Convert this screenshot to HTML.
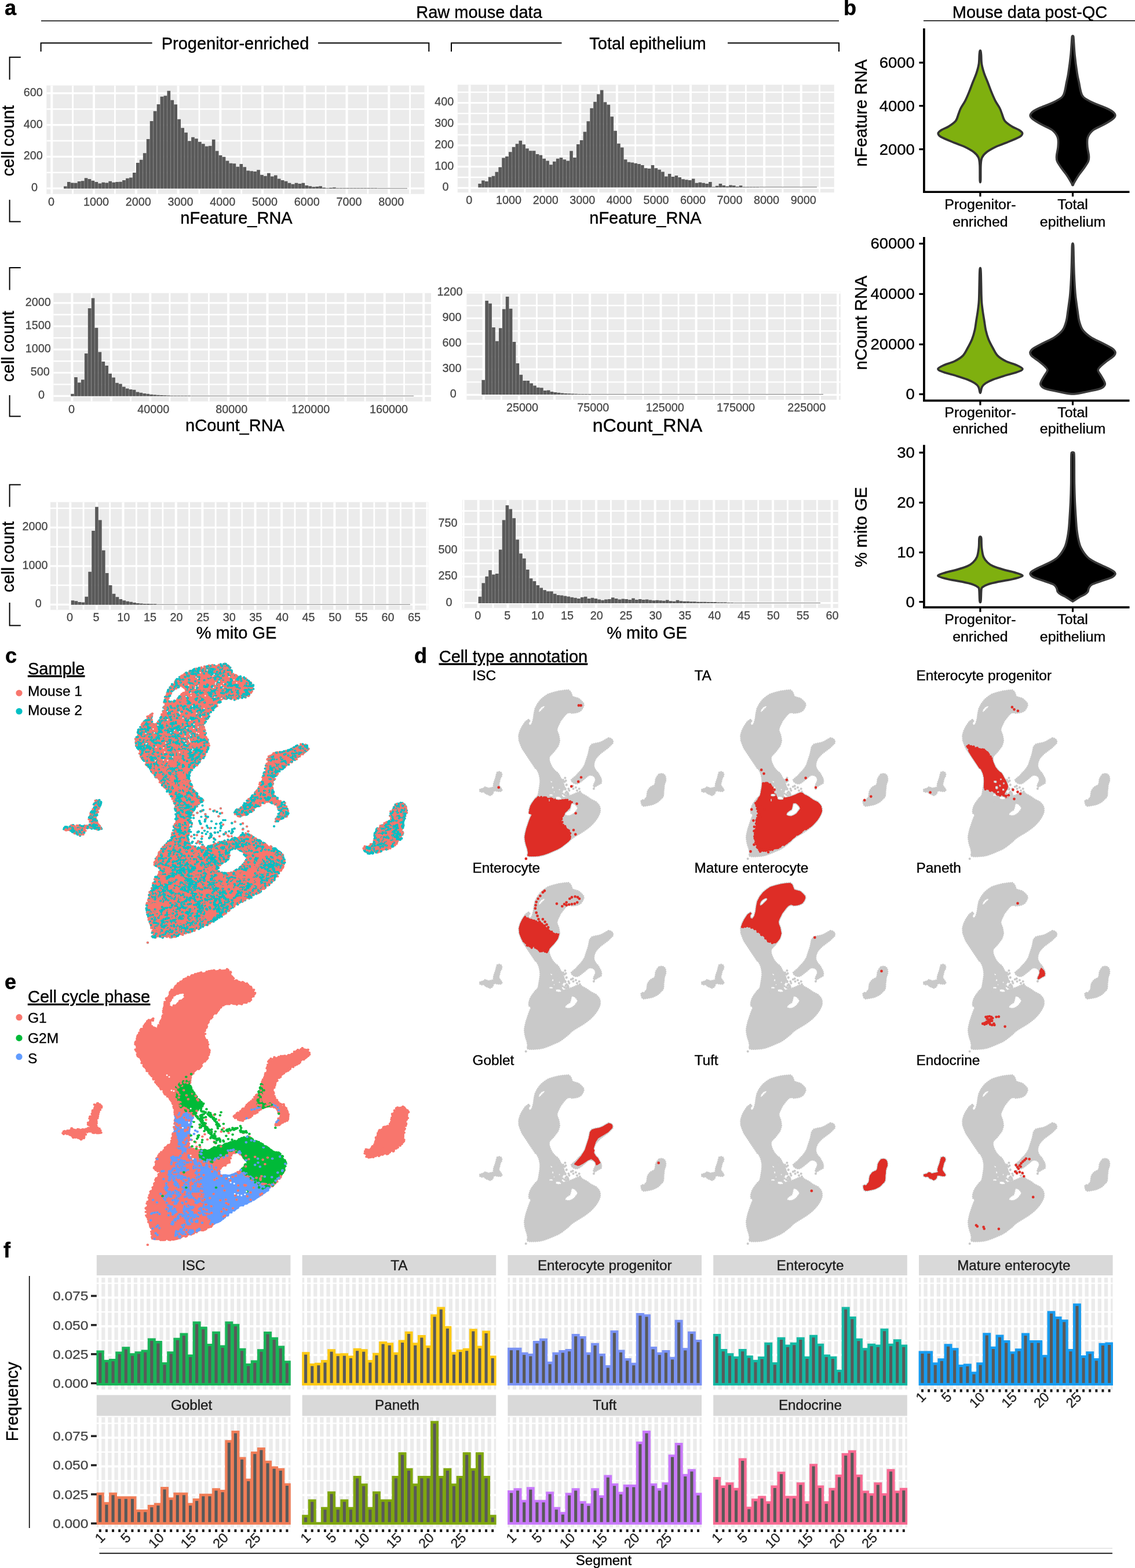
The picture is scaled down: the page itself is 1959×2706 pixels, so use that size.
<!DOCTYPE html>
<html><head><meta charset="utf-8"><title>Figure</title>
<style>
html,body{margin:0;padding:0;background:#fff;}
svg{display:block;font-family:'Liberation Sans', 'DejaVu Sans', sans-serif;}
</style></head><body>
<svg width="1959" height="2706" viewBox="0 0 1959 2706">
<rect width="1959" height="2706" fill="#fff"/>
<g id="sec_header">
<text transform="translate(8,26)" font-size="36" font-weight="bold" stroke="#000" stroke-width="0.48">a</text>
<text transform="translate(1456,26)" font-size="36" font-weight="bold" stroke="#000" stroke-width="0.48">b</text>
<line x1="71" y1="36" x2="1448" y2="36" stroke="#000" stroke-width="1.5"/>
<text transform="translate(827,31)" font-size="29" text-anchor="middle" stroke="#000" stroke-width="0.4">Raw mouse data</text>
<line x1="1594" y1="35.7" x2="1959" y2="35.7" stroke="#000" stroke-width="1.5"/>
<text transform="translate(1777.5,31)" font-size="29" text-anchor="middle" stroke="#000" stroke-width="0.4">Mouse data post-QC</text>
<polyline points="70.6,89 70.6,74.3 262.6,74.3" fill="none" stroke="#000" stroke-width="2"/>
<polyline points="549,74.3 740.3,74.3 740.3,89" fill="none" stroke="#000" stroke-width="2"/>
<text transform="translate(406,85.3)" font-size="29" text-anchor="middle" stroke="#000" stroke-width="0.4">Progenitor-enriched</text>
<polyline points="779,89 779,74.3 969.5,74.3" fill="none" stroke="#000" stroke-width="2"/>
<polyline points="1256,74.3 1448,74.3 1448,89" fill="none" stroke="#000" stroke-width="2"/>
<text transform="translate(1118,85.3)" font-size="29" text-anchor="middle" stroke="#000" stroke-width="0.4">Total epithelium</text>
<polyline points="35.8,98.7 16.6,98.7 16.6,137.6" fill="none" stroke="#000" stroke-width="2"/>
<polyline points="16.6,344.7 16.6,382.5 35.8,382.5" fill="none" stroke="#000" stroke-width="2"/>
<text transform="translate(23.5,243) rotate(-90)" font-size="29" text-anchor="middle" stroke="#000" stroke-width="0.4">cell count</text>
<polyline points="35.8,462.1 16.6,462.1 16.6,500.4" fill="none" stroke="#000" stroke-width="2"/>
<polyline points="16.6,682 16.6,718.6 35.8,718.6" fill="none" stroke="#000" stroke-width="2"/>
<text transform="translate(23.5,597.7) rotate(-90)" font-size="29" text-anchor="middle" stroke="#000" stroke-width="0.4">cell count</text>
<polyline points="35.8,836.4 16.6,836.4 16.6,874.8" fill="none" stroke="#000" stroke-width="2"/>
<polyline points="16.6,1040 16.6,1079.4 35.8,1079.4" fill="none" stroke="#000" stroke-width="2"/>
<text transform="translate(23.5,961) rotate(-90)" font-size="29" text-anchor="middle" stroke="#000" stroke-width="0.4">cell count</text>
</g>
<g id="sec_hist">
<rect x="80.3" y="147.5" width="652.2" height="187.3" fill="#EBEBEB"/>
<clipPath id="c950"><rect x="80.3" y="147.5" width="652.2" height="187.3"/></clipPath>
<g clip-path="url(#c950)" stroke="#fff" fill="none">
<path d="M125.67 147.5V334.8M198.43 147.5V334.8M271.18 147.5V334.8M343.93 147.5V334.8M416.68 147.5V334.8M489.43 147.5V334.8M562.17 147.5V334.8M634.92 147.5V334.8M707.67 147.5V334.8" stroke-width="2.8"/>
<path d="M80.3 297.82H732.5M80.3 243.05H732.5M80.3 188.28H732.5" stroke-width="2.4"/>
<path d="M89.3 147.5V334.8M162.05 147.5V334.8M234.8 147.5V334.8M307.55 147.5V334.8M380.3 147.5V334.8M453.05 147.5V334.8M525.8 147.5V334.8M598.55 147.5V334.8M671.3 147.5V334.8" stroke-width="4"/>
<path d="M80.3 325.2H732.5M80.3 270.43H732.5M80.3 215.67H732.5M80.3 160.9H732.5" stroke-width="3.2"/>
</g>
<path d="M110 325.6v-4.13h5.65v4.13zM115.95 325.6v-11.68h5.65v11.68zM121.9 325.6v-10.22h5.65v10.22zM127.85 325.6v-9.73h5.65v9.73zM133.8 325.6v-12.65h5.65v12.65zM139.75 325.6v-13.39h5.65v13.39zM145.7 325.6v-18.26h5.65v18.26zM151.65 325.6v-16.55h5.65v16.55zM157.6 325.6v-13.87h5.65v13.87zM163.55 325.6v-11.68h5.65v11.68zM169.5 325.6v-9h5.65v9zM175.45 325.6v-10.95h5.65v10.95zM181.4 325.6v-10.22h5.65v10.22zM187.35 325.6v-12.9h5.65v12.9zM193.3 325.6v-10.95h5.65v10.95zM199.25 325.6v-11.68h5.65v11.68zM205.2 325.6v-11.92h5.65v11.92zM211.15 325.6v-14.6h5.65v14.6zM217.1 325.6v-17.77h5.65v17.77zM223.05 325.6v-18.99h5.65v18.99zM229 325.6v-27.51h5.65v27.51zM234.95 325.6v-44.57h5.65v44.57zM240.9 325.6v-49.93h5.65v49.93zM246.85 325.6v-61.38h5.65v61.38zM252.8 325.6v-85.49h5.65v85.49zM258.75 325.6v-116.67h5.65v116.67zM264.7 325.6v-133.73h5.65v133.73zM270.65 325.6v-145.66h5.65v145.66zM276.6 325.6v-158.82h5.65v158.82zM282.55 325.6v-160.28h5.65v160.28zM288.5 325.6v-168.81h5.65v168.81zM294.45 325.6v-152.73h5.65v152.73zM300.4 325.6v-145.42h5.65v145.42zM306.35 325.6v-119.84h5.65v119.84zM312.3 325.6v-104.74h5.65v104.74zM318.25 325.6v-96.94h5.65v96.94zM324.2 325.6v-82.33h5.65v82.33zM330.15 325.6v-88.9h5.65v88.9zM336.1 325.6v-86.47h5.65v86.47zM342.05 325.6v-80.86h5.65v80.86zM348 325.6v-77.45h5.65v77.45zM353.95 325.6v-73.07h5.65v73.07zM359.9 325.6v-73.8h5.65v73.8zM365.85 325.6v-84.76h5.65v84.76zM371.8 325.6v-65.03h5.65v65.03zM377.75 325.6v-57.72h5.65v57.72zM383.7 325.6v-54.8h5.65v54.8zM389.65 325.6v-47.98h5.65v47.98zM395.6 325.6v-43.84h5.65v43.84zM401.55 325.6v-43.35h5.65v43.35zM407.5 325.6v-37.75h5.65v37.75zM413.45 325.6v-42.62h5.65v42.62zM419.4 325.6v-37.26h5.65v37.26zM425.35 325.6v-31.17h5.65v31.17zM431.3 325.6v-30.44h5.65v30.44zM437.25 325.6v-29.71h5.65v29.71zM443.2 325.6v-32.39h5.65v32.39zM449.15 325.6v-23.86h5.65v23.86zM455.1 325.6v-21.91h5.65v21.91zM461.05 325.6v-26.78h5.65v26.78zM467 325.6v-21.18h5.65v21.18zM472.95 325.6v-23.13h5.65v23.13zM478.9 325.6v-17.04h5.65v17.04zM484.85 325.6v-14.6h5.65v14.6zM490.8 325.6v-12.9h5.65v12.9zM496.75 325.6v-9.73h5.65v9.73zM502.7 325.6v-7.78h5.65v7.78zM508.65 325.6v-9.73h5.65v9.73zM514.6 325.6v-8.51h5.65v8.51zM520.55 325.6v-9.73h5.65v9.73zM526.5 325.6v-5.59h5.65v5.59zM532.45 325.6v-4.37h5.65v4.37zM538.4 325.6v-3.15h5.65v3.15zM544.35 325.6v-3.64h5.65v3.64zM550.3 325.6v-4.37h5.65v4.37zM556.25 325.6v-1.94h5.65v1.94zM562.2 325.6v-1.2h5.65v1.2zM568.15 325.6v-1.69h5.65v1.69zM574.1 325.6v-2.18h5.65v2.18zM580.05 325.6v-1h5.65v1zM586 325.6v-1h5.65v1zM591.95 325.6v-1h5.65v1zM597.9 325.6v-1h5.65v1zM603.85 325.6v-1h5.65v1zM609.8 325.6v-1h5.65v1zM615.75 325.6v-1h5.65v1zM621.7 325.6v-1h5.65v1zM627.65 325.6v-1h5.65v1zM633.6 325.6v-1h5.65v1zM639.55 325.6v-1h5.65v1zM645.5 325.6v-1h5.65v1z" fill="#595959"/>
<rect x="651.45" y="324.6" width="51.55" height="1" fill="#595959" opacity="0.8"/>
<text transform="translate(88.5,354.5)" font-size="19.8" text-anchor="middle" fill="#454545" stroke="#454545" stroke-width="0.29">0</text>
<text transform="translate(166.05,354.5)" font-size="19.8" text-anchor="middle" fill="#454545" stroke="#454545" stroke-width="0.29">1000</text>
<text transform="translate(238.8,354.5)" font-size="19.8" text-anchor="middle" fill="#454545" stroke="#454545" stroke-width="0.29">2000</text>
<text transform="translate(311.55,354.5)" font-size="19.8" text-anchor="middle" fill="#454545" stroke="#454545" stroke-width="0.29">3000</text>
<text transform="translate(384.3,354.5)" font-size="19.8" text-anchor="middle" fill="#454545" stroke="#454545" stroke-width="0.29">4000</text>
<text transform="translate(457.05,354.5)" font-size="19.8" text-anchor="middle" fill="#454545" stroke="#454545" stroke-width="0.29">5000</text>
<text transform="translate(529.8,354.5)" font-size="19.8" text-anchor="middle" fill="#454545" stroke="#454545" stroke-width="0.29">6000</text>
<text transform="translate(602.55,354.5)" font-size="19.8" text-anchor="middle" fill="#454545" stroke="#454545" stroke-width="0.29">7000</text>
<text transform="translate(675.3,354.5)" font-size="19.8" text-anchor="middle" fill="#454545" stroke="#454545" stroke-width="0.29">8000</text>
<text transform="translate(65,330.1)" font-size="19.8" text-anchor="end" fill="#454545" stroke="#454545" stroke-width="0.29">0</text>
<text transform="translate(73.8,275.33)" font-size="19.8" text-anchor="end" fill="#454545" stroke="#454545" stroke-width="0.29">200</text>
<text transform="translate(73.8,220.57)" font-size="19.8" text-anchor="end" fill="#454545" stroke="#454545" stroke-width="0.29">400</text>
<text transform="translate(73.8,165.8)" font-size="19.8" text-anchor="end" fill="#454545" stroke="#454545" stroke-width="0.29">600</text>
<text transform="translate(408,386)" font-size="29" text-anchor="middle" stroke="#000" stroke-width="0.4">nFeature_RNA</text>
<rect x="789.8" y="146.2" width="650" height="186" fill="#EBEBEB"/>
<clipPath id="c8044"><rect x="789.8" y="146.2" width="650" height="186"/></clipPath>
<g clip-path="url(#c8044)" stroke="#fff" fill="none">
<path d="M842.29 146.2V332.2M905.87 146.2V332.2M969.44 146.2V332.2M1033.02 146.2V332.2M1096.6 146.2V332.2M1160.18 146.2V332.2M1223.76 146.2V332.2M1287.33 146.2V332.2M1350.91 146.2V332.2M1414.49 146.2V332.2" stroke-width="2.8"/>
<path d="M789.8 305.95H1439.8M789.8 269.25H1439.8M789.8 232.55H1439.8M789.8 195.85H1439.8M789.8 159.15H1439.8" stroke-width="2.4"/>
<path d="M810.5 146.2V332.2M874.08 146.2V332.2M937.66 146.2V332.2M1001.23 146.2V332.2M1064.81 146.2V332.2M1128.39 146.2V332.2M1191.97 146.2V332.2M1255.54 146.2V332.2M1319.12 146.2V332.2M1382.7 146.2V332.2" stroke-width="4"/>
<path d="M789.8 324.3H1439.8M789.8 287.6H1439.8M789.8 250.9H1439.8M789.8 214.2H1439.8M789.8 177.5H1439.8" stroke-width="3.2"/>
</g>
<path d="M825.3 323.4v-6.31h5.55v6.31zM831.15 323.4v-11.92h5.55v11.92zM837 323.4v-10.45h5.55v10.45zM842.85 323.4v-18.01h5.55v18.01zM848.7 323.4v-19.71h5.55v19.71zM854.55 323.4v-26.53h5.55v26.53zM860.4 323.4v-34.81h5.55v34.81zM866.25 323.4v-50.89h5.55v50.89zM872.1 323.4v-53.33h5.55v53.33zM877.95 323.4v-61.12h5.55v61.12zM883.8 323.4v-69.65h5.55v69.65zM889.65 323.4v-75.25h5.55v75.25zM895.5 323.4v-80.61h5.55v80.61zM901.35 323.4v-74.04h5.55v74.04zM907.2 323.4v-67.21h5.55v67.21zM913.05 323.4v-63.07h5.55v63.07zM918.9 323.4v-63.07h5.55v63.07zM924.75 323.4v-57.47h5.55v57.47zM930.6 323.4v-55.76h5.55v55.76zM936.45 323.4v-49.67h5.55v49.67zM942.3 323.4v-45.78h5.55v45.78zM948.15 323.4v-39.2h5.55v39.2zM954 323.4v-44.56h5.55v44.56zM959.85 323.4v-49.67h5.55v49.67zM965.7 323.4v-51.38h5.55v51.38zM971.55 323.4v-48.21h5.55v48.21zM977.4 323.4v-45.78h5.55v45.78zM983.25 323.4v-62.83h5.55v62.83zM989.1 323.4v-51.38h5.55v51.38zM994.95 323.4v-74.52h5.55v74.52zM1000.8 323.4v-81.34h5.55v81.34zM1006.65 323.4v-95.96h5.55v95.96zM1012.5 323.4v-114.23h5.55v114.23zM1018.35 323.4v-136.64h5.55v136.64zM1024.2 323.4v-147.6h5.55v147.6zM1030.05 323.4v-161h5.55v161zM1035.9 323.4v-167.82h5.55v167.82zM1041.75 323.4v-147.12h5.55v147.12zM1047.6 323.4v-142.73h5.55v142.73zM1053.45 323.4v-122.03h5.55v122.03zM1059.3 323.4v-97.67h5.55v97.67zM1065.15 323.4v-75.74h5.55v75.74zM1071 323.4v-68.92h5.55v68.92zM1076.85 323.4v-48.21h5.55v48.21zM1082.7 323.4v-43.58h5.55v43.58zM1088.55 323.4v-42.85h5.55v42.85zM1094.4 323.4v-41.64h5.55v41.64zM1100.25 323.4v-40.42h5.55v40.42zM1106.1 323.4v-38.47h5.55v38.47zM1111.95 323.4v-33.11h5.55v33.11zM1117.8 323.4v-32.38h5.55v32.38zM1123.65 323.4v-38.47h5.55v38.47zM1129.5 323.4v-33.11h5.55v33.11zM1135.35 323.4v-30.67h5.55v30.67zM1141.2 323.4v-27.02h5.55v27.02zM1147.05 323.4v-18.98h5.55v18.98zM1152.9 323.4v-23.37h5.55v23.37zM1158.75 323.4v-18.49h5.55v18.49zM1164.6 323.4v-20.44h5.55v20.44zM1170.45 323.4v-17.28h5.55v17.28zM1176.3 323.4v-14.11h5.55v14.11zM1182.15 323.4v-13.13h5.55v13.13zM1188 323.4v-12.4h5.55v12.4zM1193.85 323.4v-14.84h5.55v14.84zM1199.7 323.4v-7.53h5.55v7.53zM1205.55 323.4v-8.75h5.55v8.75zM1211.4 323.4v-7.53h5.55v7.53zM1217.25 323.4v-6.31h5.55v6.31zM1223.1 323.4v-9.48h5.55v9.48zM1228.95 323.4v-1h5.55v1zM1234.8 323.4v-2.66h5.55v2.66zM1240.65 323.4v-6.31h5.55v6.31zM1246.5 323.4v-3.39h5.55v3.39zM1252.35 323.4v-1.93h5.55v1.93zM1258.2 323.4v-3.88h5.55v3.88zM1264.05 323.4v-3.15h5.55v3.15zM1269.9 323.4v-1.44h5.55v1.44zM1275.75 323.4v-3.15h5.55v3.15zM1281.6 323.4v-1h5.55v1zM1287.45 323.4v-1h5.55v1zM1293.3 323.4v-1h5.55v1zM1299.15 323.4v-1h5.55v1zM1305 323.4v-1h5.55v1z" fill="#595959"/>
<rect x="1310.85" y="322.4" width="99.15" height="1" fill="#595959" opacity="0.8"/>
<text transform="translate(809.7,351.9)" font-size="19.8" text-anchor="middle" fill="#454545" stroke="#454545" stroke-width="0.29">0</text>
<text transform="translate(878.08,351.9)" font-size="19.8" text-anchor="middle" fill="#454545" stroke="#454545" stroke-width="0.29">1000</text>
<text transform="translate(941.66,351.9)" font-size="19.8" text-anchor="middle" fill="#454545" stroke="#454545" stroke-width="0.29">2000</text>
<text transform="translate(1005.23,351.9)" font-size="19.8" text-anchor="middle" fill="#454545" stroke="#454545" stroke-width="0.29">3000</text>
<text transform="translate(1068.81,351.9)" font-size="19.8" text-anchor="middle" fill="#454545" stroke="#454545" stroke-width="0.29">4000</text>
<text transform="translate(1132.39,351.9)" font-size="19.8" text-anchor="middle" fill="#454545" stroke="#454545" stroke-width="0.29">5000</text>
<text transform="translate(1195.97,351.9)" font-size="19.8" text-anchor="middle" fill="#454545" stroke="#454545" stroke-width="0.29">6000</text>
<text transform="translate(1259.54,351.9)" font-size="19.8" text-anchor="middle" fill="#454545" stroke="#454545" stroke-width="0.29">7000</text>
<text transform="translate(1323.12,351.9)" font-size="19.8" text-anchor="middle" fill="#454545" stroke="#454545" stroke-width="0.29">8000</text>
<text transform="translate(1386.7,351.9)" font-size="19.8" text-anchor="middle" fill="#454545" stroke="#454545" stroke-width="0.29">9000</text>
<text transform="translate(774.5,329.2)" font-size="19.8" text-anchor="end" fill="#454545" stroke="#454545" stroke-width="0.29">0</text>
<text transform="translate(783.3,292.5)" font-size="19.8" text-anchor="end" fill="#454545" stroke="#454545" stroke-width="0.29">100</text>
<text transform="translate(783.3,255.8)" font-size="19.8" text-anchor="end" fill="#454545" stroke="#454545" stroke-width="0.29">200</text>
<text transform="translate(783.3,219.1)" font-size="19.8" text-anchor="end" fill="#454545" stroke="#454545" stroke-width="0.29">300</text>
<text transform="translate(783.3,182.4)" font-size="19.8" text-anchor="end" fill="#454545" stroke="#454545" stroke-width="0.29">400</text>
<text transform="translate(1114,386)" font-size="29" text-anchor="middle" stroke="#000" stroke-width="0.4">nFeature_RNA</text>
<rect x="92.2" y="505.8" width="651.8" height="187" fill="#EBEBEB"/>
<clipPath id="c1427"><rect x="92.2" y="505.8" width="651.8" height="187"/></clipPath>
<g clip-path="url(#c1427)" stroke="#fff" fill="none">
<path d="M90.69 505.8V692.8M158.11 505.8V692.8M225.54 505.8V692.8M292.96 505.8V692.8M360.39 505.8V692.8M427.81 505.8V692.8M495.24 505.8V692.8M562.66 505.8V692.8M630.09 505.8V692.8M697.51 505.8V692.8" stroke-width="2.8"/>
<path d="M92.2 663.34H744M92.2 623.21H744M92.2 583.09H744M92.2 542.96H744" stroke-width="2.4"/>
<path d="M124.4 505.8V692.8M259.25 505.8V692.8M394.1 505.8V692.8M528.95 505.8V692.8M663.8 505.8V692.8M191.82 505.8V692.8M326.68 505.8V692.8M461.52 505.8V692.8M596.38 505.8V692.8M731.23 505.8V692.8" stroke-width="4"/>
<path d="M92.2 683.4H744M92.2 643.27H744M92.2 603.15H744M92.2 563.02H744M92.2 522.9H744" stroke-width="3.2"/>
</g>
<path d="M122.2 683.8v-4.14h5.62v4.14zM128.12 683.8v-32.89h5.62v32.89zM134.04 683.8v-23.63h5.62v23.63zM139.96 683.8v-28.5h5.62v28.5zM145.88 683.8v-73.81h5.62v73.81zM151.8 683.8v-151.77h5.62v151.77zM157.72 683.8v-169.31h5.62v169.31zM163.64 683.8v-118.15h5.62v118.15zM169.56 683.8v-76.25h5.62v76.25zM175.48 683.8v-59.68h5.62v59.68zM181.4 683.8v-52.86h5.62v52.86zM187.32 683.8v-38.98h5.62v38.98zM193.24 683.8v-32.4h5.62v32.4zM199.16 683.8v-23.14h5.62v23.14zM205.08 683.8v-21.19h5.62v21.19zM211 683.8v-16.32h5.62v16.32zM216.92 683.8v-13.4h5.62v13.4zM222.84 683.8v-11.69h5.62v11.69zM228.76 683.8v-10.96h5.62v10.96zM234.68 683.8v-7.31h5.62v7.31zM240.6 683.8v-6.09h5.62v6.09zM246.52 683.8v-4.87h5.62v4.87zM252.44 683.8v-4.14h5.62v4.14zM258.36 683.8v-3.17h5.62v3.17zM264.28 683.8v-2.44h5.62v2.44zM270.2 683.8v-1.95h5.62v1.95zM276.12 683.8v-1.7h5.62v1.7zM282.04 683.8v-1.46h5.62v1.46zM287.96 683.8v-1.22h5.62v1.22zM293.88 683.8v-1h5.62v1zM299.8 683.8v-1h5.62v1zM305.72 683.8v-1h5.62v1zM311.64 683.8v-1h5.62v1zM317.56 683.8v-1h5.62v1zM323.48 683.8v-1h5.62v1z" fill="#595959"/>
<rect x="329.4" y="682.8" width="384.6" height="1" fill="#595959" opacity="0.8"/>
<text transform="translate(123.6,712.5)" font-size="19.8" text-anchor="middle" fill="#454545" stroke="#454545" stroke-width="0.29">0</text>
<text transform="translate(264.85,712.5)" font-size="19.8" text-anchor="middle" fill="#454545" stroke="#454545" stroke-width="0.29">40000</text>
<text transform="translate(399.7,712.5)" font-size="19.8" text-anchor="middle" fill="#454545" stroke="#454545" stroke-width="0.29">80000</text>
<text transform="translate(536.15,712.5)" font-size="19.8" text-anchor="middle" fill="#454545" stroke="#454545" stroke-width="0.29">120000</text>
<text transform="translate(671,712.5)" font-size="19.8" text-anchor="middle" fill="#454545" stroke="#454545" stroke-width="0.29">160000</text>
<text transform="translate(76.9,688.3)" font-size="19.8" text-anchor="end" fill="#454545" stroke="#454545" stroke-width="0.29">0</text>
<text transform="translate(85.7,648.17)" font-size="19.8" text-anchor="end" fill="#454545" stroke="#454545" stroke-width="0.29">500</text>
<text transform="translate(87.8,608.05)" font-size="19.8" text-anchor="end" fill="#454545" stroke="#454545" stroke-width="0.29">1000</text>
<text transform="translate(87.8,567.92)" font-size="19.8" text-anchor="end" fill="#454545" stroke="#454545" stroke-width="0.29">1500</text>
<text transform="translate(87.8,527.8)" font-size="19.8" text-anchor="end" fill="#454545" stroke="#454545" stroke-width="0.29">2000</text>
<text transform="translate(405.5,744)" font-size="29" text-anchor="middle" stroke="#000" stroke-width="0.4">nCount_RNA</text>
<rect x="804.5" y="503.5" width="646.3" height="186.4" fill="#EBEBEB"/>
<clipPath id="c8548"><rect x="804.5" y="503.5" width="646.3" height="186.4"/></clipPath>
<g clip-path="url(#c8548)" stroke="#fff" fill="none">
<path d="M804.19 503.5V689.9M865.33 503.5V689.9M926.47 503.5V689.9M987.61 503.5V689.9M1048.74 503.5V689.9M1109.88 503.5V689.9M1171.02 503.5V689.9M1232.16 503.5V689.9M1293.29 503.5V689.9M1354.43 503.5V689.9M1415.57 503.5V689.9" stroke-width="2.8"/>
<path d="M804.5 659.38H1450.8M804.5 615.32H1450.8M804.5 571.27H1450.8M804.5 527.22H1450.8" stroke-width="2.4"/>
<path d="M895.9 503.5V689.9M1018.17 503.5V689.9M1140.45 503.5V689.9M1262.72 503.5V689.9M1385 503.5V689.9M834.76 503.5V689.9M957.04 503.5V689.9M1079.31 503.5V689.9M1201.59 503.5V689.9M1323.86 503.5V689.9M1446.14 503.5V689.9" stroke-width="4"/>
<path d="M804.5 681.4H1450.8M804.5 637.35H1450.8M804.5 593.3H1450.8M804.5 549.25H1450.8M804.5 505.2H1450.8" stroke-width="3.2"/>
</g>
<path d="M831.4 681v-25.21h5.62v25.21zM837.32 681v-162.12h5.62v162.12zM843.24 681v-157.25h5.62v157.25zM849.16 681v-116.08h5.62v116.08zM855.08 681v-92.21h5.62v92.21zM861 681v-114.86h5.62v114.86zM866.92 681v-147.5h5.62v147.5zM872.84 681v-168.94h5.62v168.94zM878.76 681v-148.24h5.62v148.24zM884.68 681v-90.99h5.62v90.99zM890.6 681v-53.96h5.62v53.96zM896.52 681v-34.23h5.62v34.23zM902.44 681v-24h5.62v24zM908.36 681v-24h5.62v24zM914.28 681v-19.61h5.62v19.61zM920.2 681v-15.47h5.62v15.47zM926.12 681v-12.3h5.62v12.3zM932.04 681v-11.82h5.62v11.82zM937.96 681v-6.94h5.62v6.94zM943.88 681v-7.43h5.62v7.43zM949.8 681v-5h5.62v5zM955.72 681v-4.02h5.62v4.02zM961.64 681v-3.29h5.62v3.29zM967.56 681v-2.56h5.62v2.56zM973.48 681v-2.07h5.62v2.07zM979.4 681v-1.83h5.62v1.83zM985.32 681v-1.58h5.62v1.58zM991.24 681v-1.34h5.62v1.34zM997.16 681v-1.1h5.62v1.1zM1003.08 681v-1h5.62v1zM1009 681v-1h5.62v1zM1014.92 681v-1h5.62v1z" fill="#595959"/>
<rect x="1020.84" y="680" width="400.16" height="1" fill="#595959" opacity="0.8"/>
<text transform="translate(901.5,709.6)" font-size="19.8" text-anchor="middle" fill="#454545" stroke="#454545" stroke-width="0.29">25000</text>
<text transform="translate(1023.78,709.6)" font-size="19.8" text-anchor="middle" fill="#454545" stroke="#454545" stroke-width="0.29">75000</text>
<text transform="translate(1147.65,709.6)" font-size="19.8" text-anchor="middle" fill="#454545" stroke="#454545" stroke-width="0.29">125000</text>
<text transform="translate(1269.92,709.6)" font-size="19.8" text-anchor="middle" fill="#454545" stroke="#454545" stroke-width="0.29">175000</text>
<text transform="translate(1392.2,709.6)" font-size="19.8" text-anchor="middle" fill="#454545" stroke="#454545" stroke-width="0.29">225000</text>
<text transform="translate(787.7,686.3)" font-size="19.8" text-anchor="end" fill="#454545" stroke="#454545" stroke-width="0.29">0</text>
<text transform="translate(796.5,642.25)" font-size="19.8" text-anchor="end" fill="#454545" stroke="#454545" stroke-width="0.29">300</text>
<text transform="translate(796.5,598.2)" font-size="19.8" text-anchor="end" fill="#454545" stroke="#454545" stroke-width="0.29">600</text>
<text transform="translate(796.5,554.15)" font-size="19.8" text-anchor="end" fill="#454545" stroke="#454545" stroke-width="0.29">900</text>
<text transform="translate(798.6,510.1)" font-size="19.8" text-anchor="end" fill="#454545" stroke="#454545" stroke-width="0.29">1200</text>
<text transform="translate(1117.5,744.5)" font-size="32.2" text-anchor="middle" stroke="#000" stroke-width="0.44">nCount_RNA</text>
<rect x="87" y="866.5" width="652.2" height="186" fill="#EBEBEB"/>
<clipPath id="c1736"><rect x="87" y="866.5" width="652.2" height="186"/></clipPath>
<g clip-path="url(#c1736)" stroke="#fff" fill="none">
<path d="M98.5 866.5V1052.5M144.1 866.5V1052.5M189.71 866.5V1052.5M235.32 866.5V1052.5M280.93 866.5V1052.5M326.53 866.5V1052.5M372.14 866.5V1052.5M417.75 866.5V1052.5M463.36 866.5V1052.5M508.97 866.5V1052.5M554.57 866.5V1052.5M600.18 866.5V1052.5M645.79 866.5V1052.5M691.4 866.5V1052.5M737 866.5V1052.5" stroke-width="2.8"/>
<path d="M87 1010.07H739.2M87 943.62H739.2M87 877.17H739.2" stroke-width="2.4"/>
<path d="M121.3 866.5V1052.5M166.91 866.5V1052.5M212.52 866.5V1052.5M258.12 866.5V1052.5M303.73 866.5V1052.5M349.34 866.5V1052.5M394.95 866.5V1052.5M440.55 866.5V1052.5M486.16 866.5V1052.5M531.77 866.5V1052.5M577.38 866.5V1052.5M622.98 866.5V1052.5M668.59 866.5V1052.5M714.2 866.5V1052.5" stroke-width="4"/>
<path d="M87 1043.3H739.2M87 976.85H739.2M87 910.4H739.2" stroke-width="3.2"/>
</g>
<path d="M122.7 1043.7v-7.38h5.62v7.38zM128.62 1043.7v-6.45h5.62v6.45zM134.54 1043.7v-4.6h5.62v4.6zM140.46 1043.7v-4.14h5.62v4.14zM146.38 1043.7v-13.86h5.62v13.86zM152.3 1043.7v-56.9h5.62v56.9zM158.22 1043.7v-127.72h5.62v127.72zM164.14 1043.7v-168.91h5.62v168.91zM170.06 1043.7v-146.23h5.62v146.23zM175.98 1043.7v-93.93h5.62v93.93zM181.9 1043.7v-54.59h5.62v54.59zM187.82 1043.7v-33.76h5.62v33.76zM193.74 1043.7v-18.95h5.62v18.95zM199.66 1043.7v-13.39h5.62v13.39zM205.58 1043.7v-9.69h5.62v9.69zM211.5 1043.7v-7.38h5.62v7.38zM217.42 1043.7v-5.99h5.62v5.99zM223.34 1043.7v-5.06h5.62v5.06zM229.26 1043.7v-3.67h5.62v3.67zM235.18 1043.7v-2.75h5.62v2.75zM241.1 1043.7v-2.28h5.62v2.28zM247.02 1043.7v-1.82h5.62v1.82zM252.94 1043.7v-1.82h5.62v1.82zM258.86 1043.7v-1.36h5.62v1.36zM264.78 1043.7v-1.36h5.62v1.36z" fill="#595959"/>
<rect x="270.7" y="1042.7" width="437.3" height="1" fill="#595959" opacity="0.8"/>
<text transform="translate(120.5,1072.2)" font-size="19.8" text-anchor="middle" fill="#454545" stroke="#454545" stroke-width="0.29">0</text>
<text transform="translate(166.11,1072.2)" font-size="19.8" text-anchor="middle" fill="#454545" stroke="#454545" stroke-width="0.29">5</text>
<text transform="translate(213.32,1072.2)" font-size="19.8" text-anchor="middle" fill="#454545" stroke="#454545" stroke-width="0.29">10</text>
<text transform="translate(258.92,1072.2)" font-size="19.8" text-anchor="middle" fill="#454545" stroke="#454545" stroke-width="0.29">15</text>
<text transform="translate(304.53,1072.2)" font-size="19.8" text-anchor="middle" fill="#454545" stroke="#454545" stroke-width="0.29">20</text>
<text transform="translate(350.14,1072.2)" font-size="19.8" text-anchor="middle" fill="#454545" stroke="#454545" stroke-width="0.29">25</text>
<text transform="translate(395.75,1072.2)" font-size="19.8" text-anchor="middle" fill="#454545" stroke="#454545" stroke-width="0.29">30</text>
<text transform="translate(441.35,1072.2)" font-size="19.8" text-anchor="middle" fill="#454545" stroke="#454545" stroke-width="0.29">35</text>
<text transform="translate(486.96,1072.2)" font-size="19.8" text-anchor="middle" fill="#454545" stroke="#454545" stroke-width="0.29">40</text>
<text transform="translate(532.57,1072.2)" font-size="19.8" text-anchor="middle" fill="#454545" stroke="#454545" stroke-width="0.29">45</text>
<text transform="translate(578.18,1072.2)" font-size="19.8" text-anchor="middle" fill="#454545" stroke="#454545" stroke-width="0.29">50</text>
<text transform="translate(623.78,1072.2)" font-size="19.8" text-anchor="middle" fill="#454545" stroke="#454545" stroke-width="0.29">55</text>
<text transform="translate(669.39,1072.2)" font-size="19.8" text-anchor="middle" fill="#454545" stroke="#454545" stroke-width="0.29">60</text>
<text transform="translate(715,1072.2)" font-size="19.8" text-anchor="middle" fill="#454545" stroke="#454545" stroke-width="0.29">65</text>
<text transform="translate(71.7,1048.2)" font-size="19.8" text-anchor="end" fill="#454545" stroke="#454545" stroke-width="0.29">0</text>
<text transform="translate(82.6,981.75)" font-size="19.8" text-anchor="end" fill="#454545" stroke="#454545" stroke-width="0.29">1000</text>
<text transform="translate(82.6,915.3)" font-size="19.8" text-anchor="end" fill="#454545" stroke="#454545" stroke-width="0.29">2000</text>
<text transform="translate(408,1101.6)" font-size="29" text-anchor="middle" stroke="#000" stroke-width="0.4">% mito GE</text>
<rect x="797.9" y="862.8" width="648.9" height="186.5" fill="#EBEBEB"/>
<clipPath id="c8841"><rect x="797.9" y="862.8" width="648.9" height="186.5"/></clipPath>
<g clip-path="url(#c8841)" stroke="#fff" fill="none">
<path d="M800.18 862.8V1049.3M851.02 862.8V1049.3M901.86 862.8V1049.3M952.7 862.8V1049.3M1003.55 862.8V1049.3M1054.39 862.8V1049.3M1105.23 862.8V1049.3M1156.07 862.8V1049.3M1206.91 862.8V1049.3M1257.75 862.8V1049.3M1308.6 862.8V1049.3M1359.44 862.8V1049.3M1410.28 862.8V1049.3" stroke-width="2.8"/>
<path d="M797.9 1017.98H1446.8M797.9 972.55H1446.8M797.9 927.12H1446.8M797.9 881.68H1446.8" stroke-width="2.4"/>
<path d="M825.6 862.8V1049.3M876.44 862.8V1049.3M927.28 862.8V1049.3M978.12 862.8V1049.3M1028.97 862.8V1049.3M1079.81 862.8V1049.3M1130.65 862.8V1049.3M1181.49 862.8V1049.3M1232.33 862.8V1049.3M1283.17 862.8V1049.3M1334.02 862.8V1049.3M1384.86 862.8V1049.3M1435.7 862.8V1049.3" stroke-width="4"/>
<path d="M797.9 1040.7H1446.8M797.9 995.27H1446.8M797.9 949.83H1446.8M797.9 904.4H1446.8" stroke-width="3.2"/>
</g>
<path d="M825.6 1041.1v-11.26h5.58v11.26zM831.48 1041.1v-34.86h5.58v34.86zM837.36 1041.1v-46.43h5.58v46.43zM843.24 1041.1v-57.08h5.58v57.08zM849.12 1041.1v-49.67h5.58v49.67zM855 1041.1v-51.06h5.58v51.06zM860.88 1041.1v-92.72h5.58v92.72zM866.76 1041.1v-143.63h5.58v143.63zM872.64 1041.1v-169.09h5.58v169.09zM878.52 1041.1v-162.61h5.58v162.61zM884.4 1041.1v-146.87h5.58v146.87zM890.28 1041.1v-109.84h5.58v109.84zM896.16 1041.1v-85.77h5.58v85.77zM902.04 1041.1v-77.44h5.58v77.44zM907.92 1041.1v-58h5.58v58zM913.8 1041.1v-42.73h5.58v42.73zM919.68 1041.1v-38.1h5.58v38.1zM925.56 1041.1v-31.16h5.58v31.16zM931.44 1041.1v-26.53h5.58v26.53zM937.32 1041.1v-22.83h5.58v22.83zM943.2 1041.1v-20.51h5.58v20.51zM949.08 1041.1v-20.51h5.58v20.51zM954.96 1041.1v-16.35h5.58v16.35zM960.84 1041.1v-14.03h5.58v14.03zM966.72 1041.1v-13.57h5.58v13.57zM972.6 1041.1v-12.64h5.58v12.64zM978.48 1041.1v-11.72h5.58v11.72zM984.36 1041.1v-10.33h5.58v10.33zM990.24 1041.1v-9.4h5.58v9.4zM996.12 1041.1v-8.02h5.58v8.02zM1002 1041.1v-10.33h5.58v10.33zM1007.88 1041.1v-11.26h5.58v11.26zM1013.76 1041.1v-8.02h5.58v8.02zM1019.64 1041.1v-9.4h5.58v9.4zM1025.52 1041.1v-8.02h5.58v8.02zM1031.4 1041.1v-6.63h5.58v6.63zM1037.28 1041.1v-5.24h5.58v5.24zM1043.16 1041.1v-6.63h5.58v6.63zM1049.04 1041.1v-7.09h5.58v7.09zM1054.92 1041.1v-9.87h5.58v9.87zM1060.8 1041.1v-8.02h5.58v8.02zM1066.68 1041.1v-6.63h5.58v6.63zM1072.56 1041.1v-7.55h5.58v7.55zM1078.44 1041.1v-7.09h5.58v7.09zM1084.32 1041.1v-6.16h5.58v6.16zM1090.2 1041.1v-8.48h5.58v8.48zM1096.08 1041.1v-6.16h5.58v6.16zM1101.96 1041.1v-7.09h5.58v7.09zM1107.84 1041.1v-6.16h5.58v6.16zM1113.72 1041.1v-6.63h5.58v6.63zM1119.6 1041.1v-5.7h5.58v5.7zM1125.48 1041.1v-4.78h5.58v4.78zM1131.36 1041.1v-5.24h5.58v5.24zM1137.24 1041.1v-4.78h5.58v4.78zM1143.12 1041.1v-4.31h5.58v4.31zM1149 1041.1v-5.7h5.58v5.7zM1154.88 1041.1v-3.85h5.58v3.85zM1160.76 1041.1v-3.39h5.58v3.39zM1166.64 1041.1v-5.24h5.58v5.24zM1172.52 1041.1v-3.85h5.58v3.85zM1178.4 1041.1v-3.39h5.58v3.39zM1184.28 1041.1v-3.39h5.58v3.39zM1190.16 1041.1v-2.92h5.58v2.92zM1196.04 1041.1v-2.92h5.58v2.92zM1201.92 1041.1v-2.46h5.58v2.46zM1207.8 1041.1v-2.46h5.58v2.46zM1213.68 1041.1v-2.46h5.58v2.46zM1219.56 1041.1v-2h5.58v2zM1225.44 1041.1v-2h5.58v2zM1231.32 1041.1v-2h5.58v2zM1237.2 1041.1v-1.54h5.58v1.54zM1243.08 1041.1v-1.54h5.58v1.54zM1248.96 1041.1v-1.54h5.58v1.54zM1254.84 1041.1v-1.07h5.58v1.07zM1260.72 1041.1v-1.07h5.58v1.07z" fill="#595959"/>
<rect x="1266.6" y="1040.1" width="149.4" height="1" fill="#595959" opacity="0.8"/>
<text transform="translate(824.8,1069)" font-size="19.8" text-anchor="middle" fill="#454545" stroke="#454545" stroke-width="0.29">0</text>
<text transform="translate(875.64,1069)" font-size="19.8" text-anchor="middle" fill="#454545" stroke="#454545" stroke-width="0.29">5</text>
<text transform="translate(928.08,1069)" font-size="19.8" text-anchor="middle" fill="#454545" stroke="#454545" stroke-width="0.29">10</text>
<text transform="translate(978.93,1069)" font-size="19.8" text-anchor="middle" fill="#454545" stroke="#454545" stroke-width="0.29">15</text>
<text transform="translate(1029.77,1069)" font-size="19.8" text-anchor="middle" fill="#454545" stroke="#454545" stroke-width="0.29">20</text>
<text transform="translate(1080.61,1069)" font-size="19.8" text-anchor="middle" fill="#454545" stroke="#454545" stroke-width="0.29">25</text>
<text transform="translate(1131.45,1069)" font-size="19.8" text-anchor="middle" fill="#454545" stroke="#454545" stroke-width="0.29">30</text>
<text transform="translate(1182.29,1069)" font-size="19.8" text-anchor="middle" fill="#454545" stroke="#454545" stroke-width="0.29">35</text>
<text transform="translate(1233.13,1069)" font-size="19.8" text-anchor="middle" fill="#454545" stroke="#454545" stroke-width="0.29">40</text>
<text transform="translate(1283.97,1069)" font-size="19.8" text-anchor="middle" fill="#454545" stroke="#454545" stroke-width="0.29">45</text>
<text transform="translate(1334.82,1069)" font-size="19.8" text-anchor="middle" fill="#454545" stroke="#454545" stroke-width="0.29">50</text>
<text transform="translate(1385.66,1069)" font-size="19.8" text-anchor="middle" fill="#454545" stroke="#454545" stroke-width="0.29">55</text>
<text transform="translate(1436.5,1069)" font-size="19.8" text-anchor="middle" fill="#454545" stroke="#454545" stroke-width="0.29">60</text>
<text transform="translate(780.6,1045.6)" font-size="19.8" text-anchor="end" fill="#454545" stroke="#454545" stroke-width="0.29">0</text>
<text transform="translate(789.4,1000.17)" font-size="19.8" text-anchor="end" fill="#454545" stroke="#454545" stroke-width="0.29">250</text>
<text transform="translate(789.4,954.73)" font-size="19.8" text-anchor="end" fill="#454545" stroke="#454545" stroke-width="0.29">500</text>
<text transform="translate(789.4,909.3)" font-size="19.8" text-anchor="end" fill="#454545" stroke="#454545" stroke-width="0.29">750</text>
<text transform="translate(1116.5,1101.6)" font-size="29" text-anchor="middle" stroke="#000" stroke-width="0.4">% mito GE</text>
</g>
<g id="sec_violin">
<path d="M1692.54 87.87C1692.91 89.03 1693.18 91.03 1693.49 94.82C1693.81 98.62 1693.6 105.36 1694.44 110.63C1695.28 115.89 1696.81 121.16 1698.55 126.43C1700.29 131.7 1702.82 136.97 1704.87 142.23C1706.93 147.5 1708.72 152.77 1710.88 158.04C1713.04 163.31 1715.41 169.1 1717.83 173.84C1720.25 178.58 1723.52 182.8 1725.42 186.48C1727.31 190.17 1727.73 192.28 1729.21 195.97C1730.68 199.65 1731.42 204.92 1734.27 208.61C1737.11 212.3 1742.17 215.46 1746.28 218.09C1750.39 220.73 1755.86 222.41 1758.92 224.41C1761.98 226.42 1764.5 228.1 1764.61 230.1C1764.72 232.1 1764.29 233.69 1759.55 236.42C1754.81 239.16 1742.8 243.8 1736.16 246.54C1729.53 249.28 1725.21 250.23 1719.73 252.86C1714.25 255.49 1707.4 259.18 1703.29 262.34C1699.18 265.5 1696.81 268.14 1695.07 271.83C1693.33 275.51 1693.28 277.88 1692.86 284.47C1692.44 291.05 1692.81 306.86 1692.54 311.33C1692.28 315.81 1691.54 315.81 1691.28 311.33C1691.02 306.86 1691.39 291.05 1690.96 284.47C1690.54 277.88 1690.49 275.51 1688.75 271.83C1687.01 268.14 1684.64 265.5 1680.53 262.34C1676.42 259.18 1669.58 255.49 1664.1 252.86C1658.62 250.23 1654.3 249.28 1647.66 246.54C1641.02 243.8 1629.01 239.16 1624.27 236.42C1619.53 233.69 1619.11 232.1 1619.21 230.1C1619.32 228.1 1621.85 226.42 1624.9 224.41C1627.96 222.41 1633.44 220.73 1637.55 218.09C1641.66 215.46 1646.71 212.3 1649.56 208.61C1652.4 204.92 1653.14 199.65 1654.62 195.97C1656.09 192.28 1656.51 190.17 1658.41 186.48C1660.3 182.8 1663.57 178.58 1665.99 173.84C1668.42 169.1 1670.79 163.31 1672.95 158.04C1675.11 152.77 1676.9 147.5 1678.95 142.23C1681.01 136.97 1683.54 131.7 1685.27 126.43C1687.01 121.16 1688.54 115.89 1689.38 110.63C1690.23 105.36 1690.02 98.62 1690.33 94.82C1690.65 91.03 1690.91 89.03 1691.28 87.87C1691.65 86.71 1692.18 86.71 1692.54 87.87Z" fill="#7FB00F" stroke="#333333" stroke-width="3.7" stroke-linejoin="round"/>
<path d="M1852.48 62.58C1852.9 63.48 1852.69 62.58 1853.11 67.96C1853.53 73.33 1854.01 85.08 1855.01 94.82C1856.01 104.57 1857.9 118.53 1859.12 126.43C1860.33 134.33 1861.22 136.97 1862.28 142.23C1863.33 147.5 1864.17 153.82 1865.44 158.04C1866.7 162.25 1866.49 164.36 1869.86 167.52C1873.23 170.68 1879.13 173.84 1885.67 177C1892.2 180.16 1903.26 183.85 1909.06 186.48C1914.85 189.12 1917.8 190.7 1920.43 192.81C1923.07 194.91 1924.86 197.02 1924.86 199.13C1924.86 201.23 1923.7 202.82 1920.43 205.45C1917.17 208.08 1910.85 211.77 1905.26 214.93C1899.68 218.09 1891.57 220.73 1886.93 224.41C1882.3 228.1 1879.13 232.32 1877.45 237.06C1875.76 241.8 1876.5 247.59 1876.82 252.86C1877.13 258.13 1879.08 264.45 1879.35 268.66C1879.61 272.88 1879.87 274.46 1878.4 278.15C1876.92 281.83 1873.39 286.58 1870.49 290.79C1867.6 295 1863.86 299.22 1861.01 303.43C1858.17 307.65 1854.9 313.44 1853.43 316.08C1851.95 318.71 1852.58 318.71 1852.16 319.24C1851.74 319.76 1851.32 319.76 1850.9 319.24C1850.48 318.71 1851.11 318.71 1849.63 316.08C1848.16 313.44 1844.89 307.65 1842.05 303.43C1839.2 299.22 1835.46 295 1832.57 290.79C1829.67 286.58 1826.14 281.83 1824.66 278.15C1823.19 274.46 1823.45 272.88 1823.72 268.66C1823.98 264.45 1825.93 258.13 1826.24 252.86C1826.56 247.59 1827.3 241.8 1825.61 237.06C1823.93 232.32 1820.77 228.1 1816.13 224.41C1811.49 220.73 1803.38 218.09 1797.8 214.93C1792.21 211.77 1785.89 208.08 1782.63 205.45C1779.36 202.82 1778.2 201.23 1778.2 199.13C1778.2 197.02 1779.99 194.91 1782.63 192.81C1785.26 190.7 1788.21 189.12 1794 186.48C1799.8 183.85 1810.86 180.16 1817.39 177C1823.93 173.84 1829.83 170.68 1833.2 167.52C1836.57 164.36 1836.36 162.25 1837.62 158.04C1838.89 153.82 1839.73 147.5 1840.78 142.23C1841.84 136.97 1842.73 134.33 1843.94 126.43C1845.16 118.53 1847.05 104.57 1848.05 94.82C1849.05 85.08 1849.53 73.33 1849.95 67.96C1850.37 62.58 1850.16 63.48 1850.58 62.58C1851 61.69 1852.06 61.69 1852.48 62.58Z" fill="#000" stroke="#3a3a3a" stroke-width="3.7" stroke-linejoin="round"/>
<polyline points="1594.9,48.99 1594.9,331.25 1949.5,331.25" fill="none" stroke="#000" stroke-width="3.7" stroke-linejoin="miter"/>
<line x1="1586.4" y1="108.1" x2="1594.9" y2="108.1" stroke="#000" stroke-width="3.2"/>
<text transform="translate(1578.9,117) scale(1.1,1)" font-size="25" text-anchor="end" stroke="#000" stroke-width="0.35">6000</text>
<line x1="1586.4" y1="182.69" x2="1594.9" y2="182.69" stroke="#000" stroke-width="3.2"/>
<text transform="translate(1578.9,191.59) scale(1.1,1)" font-size="25" text-anchor="end" stroke="#000" stroke-width="0.35">4000</text>
<line x1="1586.4" y1="257.6" x2="1594.9" y2="257.6" stroke="#000" stroke-width="3.2"/>
<text transform="translate(1578.9,266.5) scale(1.1,1)" font-size="25" text-anchor="end" stroke="#000" stroke-width="0.35">2000</text>
<line x1="1691.91" y1="331.25" x2="1691.91" y2="339.25" stroke="#000" stroke-width="3.2"/>
<text transform="translate(1691.91,361.27) scale(1.06,1)" font-size="23.5" text-anchor="middle" stroke="#000" stroke-width="0.33">Progenitor-</text>
<text transform="translate(1691.91,390.99) scale(1.06,1)" font-size="23.5" text-anchor="middle" stroke="#000" stroke-width="0.33">enriched</text>
<line x1="1851.53" y1="331.25" x2="1851.53" y2="339.25" stroke="#000" stroke-width="3.2"/>
<text transform="translate(1851.53,361.27) scale(1.06,1)" font-size="23.5" text-anchor="middle" stroke="#000" stroke-width="0.33">Total</text>
<text transform="translate(1851.53,390.99) scale(1.06,1)" font-size="23.5" text-anchor="middle" stroke="#000" stroke-width="0.33">epithelium</text>
<text transform="translate(1495.5,195.02) rotate(-90)" font-size="29" text-anchor="middle" stroke="#000" stroke-width="0.4">nFeature RNA</text>
<path d="M1692.54 463.76C1692.86 465.6 1692.97 467.71 1693.18 474.82C1693.39 481.93 1693.6 498.53 1693.81 506.43C1694.02 514.33 1694.02 516.97 1694.44 522.23C1694.86 527.5 1695.6 532.77 1696.34 538.04C1697.07 543.31 1698.02 548.57 1698.87 553.84C1699.71 559.11 1700.18 564.38 1701.39 569.65C1702.61 574.91 1704.03 580.18 1706.14 585.45C1708.24 590.72 1711.4 596.51 1714.04 601.25C1716.67 605.99 1718.25 610.21 1721.94 613.9C1725.63 617.58 1730.89 620.74 1736.16 623.38C1741.43 626.01 1748.75 627.49 1753.55 629.7C1758.34 631.91 1764.66 634.55 1764.93 636.65C1765.19 638.76 1760.45 640.34 1755.13 642.34C1749.81 644.34 1739.85 646.56 1733 648.66C1726.15 650.77 1719.31 652.88 1714.04 654.99C1708.77 657.09 1704.56 659.2 1701.39 661.31C1698.23 663.41 1696.55 664.99 1695.07 667.63C1693.6 670.26 1693.18 675.53 1692.54 677.11C1691.91 678.69 1691.91 678.69 1691.28 677.11C1690.65 675.53 1690.23 670.26 1688.75 667.63C1687.28 664.99 1685.59 663.41 1682.43 661.31C1679.27 659.2 1675.05 657.09 1669.79 654.99C1664.52 652.88 1657.67 650.77 1650.82 648.66C1643.97 646.56 1634.02 644.34 1628.7 642.34C1623.38 640.34 1618.64 638.76 1618.9 636.65C1619.16 634.55 1625.48 631.91 1630.28 629.7C1635.07 627.49 1642.39 626.01 1647.66 623.38C1652.93 620.74 1658.2 617.58 1661.89 613.9C1665.57 610.21 1667.15 605.99 1669.79 601.25C1672.42 596.51 1675.58 590.72 1677.69 585.45C1679.8 580.18 1681.22 574.91 1682.43 569.65C1683.64 564.38 1684.12 559.11 1684.96 553.84C1685.8 548.57 1686.75 543.31 1687.49 538.04C1688.22 532.77 1688.96 527.5 1689.38 522.23C1689.81 516.97 1689.81 514.33 1690.02 506.43C1690.23 498.53 1690.44 481.93 1690.65 474.82C1690.86 467.71 1690.96 465.6 1691.28 463.76C1691.6 461.92 1692.23 461.92 1692.54 463.76Z" fill="#7FB00F" stroke="#333333" stroke-width="3.7" stroke-linejoin="round"/>
<path d="M1852.48 422.67C1852.9 426.09 1852.85 434.52 1853.11 443.22C1853.37 451.91 1853.58 464.29 1854.06 474.82C1854.53 485.36 1855.32 498.53 1855.96 506.43C1856.59 514.33 1857.17 516.97 1857.85 522.23C1858.54 527.5 1859.27 532.77 1860.06 538.04C1860.85 543.31 1861.12 548.57 1862.59 553.84C1864.07 559.11 1865.49 564.9 1868.91 569.65C1872.34 574.39 1877.61 578.6 1883.14 582.29C1888.67 585.98 1896.04 588.61 1902.1 591.77C1908.16 594.93 1915.69 598.62 1919.49 601.25C1923.28 603.89 1924.33 605.47 1924.86 607.57C1925.39 609.68 1925.12 611.26 1922.65 613.9C1920.17 616.53 1913.96 620.22 1910 623.38C1906.05 626.54 1901.42 630.23 1898.94 632.86C1896.47 635.49 1894.89 636.55 1895.15 639.18C1895.41 641.82 1898.73 645.5 1900.52 648.66C1902.31 651.83 1904.84 655.51 1905.9 658.15C1906.95 660.78 1908 662.36 1906.84 664.47C1905.68 666.58 1905 668.68 1898.94 670.79C1892.88 672.9 1877.61 675.64 1870.49 677.11C1863.38 678.59 1860.22 679.22 1856.27 679.64C1852.32 680.06 1850.74 680.06 1846.79 679.64C1842.84 679.22 1839.68 678.59 1832.57 677.11C1825.45 675.64 1810.18 672.9 1804.12 670.79C1798.06 668.68 1797.38 666.58 1796.22 664.47C1795.06 662.36 1796.11 660.78 1797.17 658.15C1798.22 655.51 1800.75 651.83 1802.54 648.66C1804.33 645.5 1807.65 641.82 1807.91 639.18C1808.18 636.55 1806.6 635.49 1804.12 632.86C1801.64 630.23 1797.01 626.54 1793.06 623.38C1789.11 620.22 1782.89 616.53 1780.41 613.9C1777.94 611.26 1777.67 609.68 1778.2 607.57C1778.73 605.47 1779.78 603.89 1783.57 601.25C1787.37 598.62 1794.9 594.93 1800.96 591.77C1807.02 588.61 1814.39 585.98 1819.92 582.29C1825.45 578.6 1830.72 574.39 1834.15 569.65C1837.57 564.9 1838.99 559.11 1840.47 553.84C1841.94 548.57 1842.21 543.31 1843 538.04C1843.79 532.77 1844.52 527.5 1845.21 522.23C1845.89 516.97 1846.47 514.33 1847.11 506.43C1847.74 498.53 1848.53 485.36 1849 474.82C1849.48 464.29 1849.69 451.91 1849.95 443.22C1850.21 434.52 1850.16 426.09 1850.58 422.67C1851 419.25 1852.06 419.25 1852.48 422.67Z" fill="#000" stroke="#3a3a3a" stroke-width="3.7" stroke-linejoin="round"/>
<polyline points="1594.9,409.08 1594.9,691.33 1949.5,691.33" fill="none" stroke="#000" stroke-width="3.7" stroke-linejoin="miter"/>
<line x1="1586.4" y1="420.46" x2="1594.9" y2="420.46" stroke="#000" stroke-width="3.2"/>
<text transform="translate(1578.9,429.36) scale(1.1,1)" font-size="25" text-anchor="end" stroke="#000" stroke-width="0.35">60000</text>
<line x1="1586.4" y1="507.38" x2="1594.9" y2="507.38" stroke="#000" stroke-width="3.2"/>
<text transform="translate(1578.9,516.28) scale(1.1,1)" font-size="25" text-anchor="end" stroke="#000" stroke-width="0.35">40000</text>
<line x1="1586.4" y1="594.3" x2="1594.9" y2="594.3" stroke="#000" stroke-width="3.2"/>
<text transform="translate(1578.9,603.2) scale(1.1,1)" font-size="25" text-anchor="end" stroke="#000" stroke-width="0.35">20000</text>
<line x1="1586.4" y1="680.27" x2="1594.9" y2="680.27" stroke="#000" stroke-width="3.2"/>
<text transform="translate(1578.9,689.17) scale(1.1,1)" font-size="25" text-anchor="end" stroke="#000" stroke-width="0.35">0</text>
<line x1="1691.91" y1="691.33" x2="1691.91" y2="699.33" stroke="#000" stroke-width="3.2"/>
<text transform="translate(1691.91,719.78) scale(1.06,1)" font-size="23.5" text-anchor="middle" stroke="#000" stroke-width="0.33">Progenitor-</text>
<text transform="translate(1691.91,748.23) scale(1.06,1)" font-size="23.5" text-anchor="middle" stroke="#000" stroke-width="0.33">enriched</text>
<line x1="1851.53" y1="691.33" x2="1851.53" y2="699.33" stroke="#000" stroke-width="3.2"/>
<text transform="translate(1851.53,719.78) scale(1.06,1)" font-size="23.5" text-anchor="middle" stroke="#000" stroke-width="0.33">Total</text>
<text transform="translate(1851.53,748.23) scale(1.06,1)" font-size="23.5" text-anchor="middle" stroke="#000" stroke-width="0.33">epithelium</text>
<text transform="translate(1495.5,557) rotate(-90)" font-size="29" text-anchor="middle" stroke="#000" stroke-width="0.4">nCount RNA</text>
<path d="M1692.86 926.48C1693.33 927.01 1693.55 926.48 1693.81 929.65C1694.07 932.81 1693.81 940.18 1694.44 945.45C1695.07 950.72 1695.92 957.04 1697.6 961.25C1699.29 965.47 1701.82 968.1 1704.56 970.74C1707.29 973.37 1709.3 974.95 1714.04 977.06C1718.78 979.16 1726.68 981.53 1733 983.38C1739.32 985.22 1746.65 986.38 1751.97 988.12C1757.29 989.86 1765.45 991.96 1764.93 993.81C1764.4 995.65 1755.71 997.5 1748.81 999.18C1741.9 1000.87 1730.89 1002.34 1723.52 1003.92C1716.14 1005.5 1709.19 1007.08 1704.56 1008.66C1699.92 1010.24 1697.5 1011.83 1695.71 1013.41C1693.91 1014.99 1694.28 1014.2 1693.81 1018.15C1693.33 1022.1 1693.33 1033.95 1692.86 1037.11C1692.39 1040.27 1691.44 1040.27 1690.96 1037.11C1690.49 1033.95 1690.49 1022.1 1690.02 1018.15C1689.54 1014.2 1689.91 1014.99 1688.12 1013.41C1686.33 1011.83 1683.91 1010.24 1679.27 1008.66C1674.63 1007.08 1667.68 1005.5 1660.3 1003.92C1652.93 1002.34 1641.92 1000.87 1635.02 999.18C1628.12 997.5 1619.43 995.65 1618.9 993.81C1618.37 991.96 1626.54 989.86 1631.86 988.12C1637.18 986.38 1644.5 985.22 1650.82 983.38C1657.14 981.53 1665.05 979.16 1669.79 977.06C1674.53 974.95 1676.53 973.37 1679.27 970.74C1682.01 968.1 1684.54 965.47 1686.22 961.25C1687.91 957.04 1688.75 950.72 1689.38 945.45C1690.02 940.18 1689.75 932.81 1690.02 929.65C1690.28 926.48 1690.49 927.01 1690.96 926.48C1691.44 925.96 1692.39 925.96 1692.86 926.48Z" fill="#7FB00F" stroke="#333333" stroke-width="3.7" stroke-linejoin="round"/>
<path d="M1852.79 781.09C1853.43 782.14 1853.8 778.46 1854.06 787.41C1854.32 796.37 1854.16 821.65 1854.38 834.82C1854.59 847.99 1854.85 855.89 1855.32 866.43C1855.8 876.97 1856.69 890.14 1857.22 898.04C1857.75 905.94 1857.85 908.57 1858.48 913.84C1859.12 919.11 1859.8 924.38 1861.01 929.65C1862.22 934.91 1863.12 940.18 1865.75 945.45C1868.39 950.72 1872.6 957.04 1876.82 961.25C1881.03 965.47 1885.25 967.57 1891.04 970.74C1896.83 973.9 1906.32 977.58 1911.58 980.22C1916.85 982.85 1920.43 984.8 1922.65 986.54C1924.86 988.28 1925.39 989.07 1924.86 990.65C1924.33 992.23 1923.28 994.07 1919.49 996.02C1915.69 997.97 1907.9 1000.24 1902.1 1002.34C1896.31 1004.45 1888.51 1006.56 1884.72 1008.66C1880.93 1010.77 1880.56 1012.88 1879.35 1014.99C1878.13 1017.09 1878.66 1019.46 1877.45 1021.31C1876.24 1023.15 1874.55 1024.47 1872.08 1026.05C1869.6 1027.63 1865.81 1028.95 1862.59 1030.79C1859.38 1032.63 1854.85 1036.06 1852.79 1037.11C1850.74 1038.16 1852.32 1038.16 1850.27 1037.11C1848.21 1036.06 1843.68 1032.63 1840.47 1030.79C1837.25 1028.95 1833.46 1027.63 1830.99 1026.05C1828.51 1024.47 1826.82 1023.15 1825.61 1021.31C1824.4 1019.46 1824.93 1017.09 1823.72 1014.99C1822.5 1012.88 1822.14 1010.77 1818.34 1008.66C1814.55 1006.56 1806.75 1004.45 1800.96 1002.34C1795.16 1000.24 1787.37 997.97 1783.57 996.02C1779.78 994.07 1778.73 992.23 1778.2 990.65C1777.67 989.07 1778.2 988.28 1780.41 986.54C1782.63 984.8 1786.21 982.85 1791.48 980.22C1796.74 977.58 1806.23 973.9 1812.02 970.74C1817.82 967.57 1822.03 965.47 1826.24 961.25C1830.46 957.04 1834.67 950.72 1837.31 945.45C1839.94 940.18 1840.84 934.91 1842.05 929.65C1843.26 924.38 1843.94 919.11 1844.58 913.84C1845.21 908.57 1845.31 905.94 1845.84 898.04C1846.37 890.14 1847.26 876.97 1847.74 866.43C1848.21 855.89 1848.48 847.99 1848.69 834.82C1848.9 821.65 1848.74 796.37 1849 787.41C1849.27 778.46 1849.63 782.14 1850.27 781.09C1850.9 780.04 1852.16 780.04 1852.79 781.09Z" fill="#000" stroke="#3a3a3a" stroke-width="3.7" stroke-linejoin="round"/>
<polyline points="1594.9,767.81 1594.9,1048.17 1949.5,1048.17" fill="none" stroke="#000" stroke-width="3.7" stroke-linejoin="miter"/>
<line x1="1586.4" y1="781.09" x2="1594.9" y2="781.09" stroke="#000" stroke-width="3.2"/>
<text transform="translate(1578.9,789.99) scale(1.1,1)" font-size="25" text-anchor="end" stroke="#000" stroke-width="0.35">30</text>
<line x1="1586.4" y1="867.38" x2="1594.9" y2="867.38" stroke="#000" stroke-width="3.2"/>
<text transform="translate(1578.9,876.28) scale(1.1,1)" font-size="25" text-anchor="end" stroke="#000" stroke-width="0.35">20</text>
<line x1="1586.4" y1="953.35" x2="1594.9" y2="953.35" stroke="#000" stroke-width="3.2"/>
<text transform="translate(1578.9,962.25) scale(1.1,1)" font-size="25" text-anchor="end" stroke="#000" stroke-width="0.35">10</text>
<line x1="1586.4" y1="1038.69" x2="1594.9" y2="1038.69" stroke="#000" stroke-width="3.2"/>
<text transform="translate(1578.9,1047.59) scale(1.1,1)" font-size="25" text-anchor="end" stroke="#000" stroke-width="0.35">0</text>
<line x1="1691.91" y1="1048.17" x2="1691.91" y2="1056.17" stroke="#000" stroke-width="3.2"/>
<text transform="translate(1691.91,1076.62) scale(1.06,1)" font-size="23.5" text-anchor="middle" stroke="#000" stroke-width="0.33">Progenitor-</text>
<text transform="translate(1691.91,1106.65) scale(1.06,1)" font-size="23.5" text-anchor="middle" stroke="#000" stroke-width="0.33">enriched</text>
<line x1="1851.53" y1="1048.17" x2="1851.53" y2="1056.17" stroke="#000" stroke-width="3.2"/>
<text transform="translate(1851.53,1076.62) scale(1.06,1)" font-size="23.5" text-anchor="middle" stroke="#000" stroke-width="0.33">Total</text>
<text transform="translate(1851.53,1106.65) scale(1.06,1)" font-size="23.5" text-anchor="middle" stroke="#000" stroke-width="0.33">epithelium</text>
<text transform="translate(1495.5,909.73) rotate(-90)" font-size="29" text-anchor="middle" stroke="#000" stroke-width="0.4">% mito GE</text>
</g>
<g id="sec_umap">
<defs><g id="ug">
<path d="M98.3 62.6L100.3 64.3L98 67.8L98.3 72.2L101.5 73.4L104.7 69L107 60.9L108.2 51.6L109.9 43.5L114 35.4L119.8 27.9L125.5 23.2L132.5 18.6L141.7 15.7L151 13.4L159.1 12.3L167.2 11.7L170.7 14.6L172.4 19.2L174.1 23.2L178.8 24.4L184.6 26.1L189.2 30.2L192.7 34.2L193.2 37.7L191.5 42.3L188 47L183.4 49.3L178.8 50.4L173 51L168.4 49.3L163.7 51.6L160.3 55.1L156.8 59.7L153.3 64.3L151 69L148.7 73.6L146.9 78.2L147.5 82.8L149.8 88.6L151 94.4L151.6 99L150.4 103.7L148.7 108.3L145.2 112.9L141.7 117.6L137.1 122.2L134.2 125.7L133.1 130.3L134.2 134.9L136 139.5L138.3 144.2L141.7 148.8L145.2 152.3L148.7 154.6L148.7 154.6L151 158.4L153.3 163L156.2 167.7L158.5 173L159.7 176.9L159.1 181.6L156.2 186.2L153.9 190.8L155 194.3L157.9 197.2L161.4 196.6L166 195.4L170.7 193.7L175.3 192L179.9 189.7L184.6 187.9L188 188.5L191.5 191.4L196.1 193.7L200.8 196.6L205.4 200.1L210 202.4L214.6 204.7L218.1 208.2L220.4 211.6L221.6 216.3L221.6 220.9L219.8 226.1L217 231.3L213.5 236.5L208.9 241.7L204.2 246.4L198.4 251L192.7 255L186.9 258.5L181.1 262L176.5 264.9L171.8 268.3L167.2 273L161.4 277.6L155.6 282.2L148.7 286.3L140.6 289.7L132.5 293.2L124.4 296.1L116.3 297.8L108.2 298.4L100.1 298.4L96 297.3L97.2 292.6L96 285.7L93.7 278.8L92 271.8L91.4 264.9L92.6 257.9L94.3 251L96.6 244L98.9 237.1L101.2 231.3L103.6 226.7L98.9 223.2L99.5 217.4L101.2 211.6L103.6 207L107 202.4L110.5 197.8L114.5 194.3L115.7 189.7L116.9 182.7L118 175.8L118.6 168.8L118 161.9L116.3 154.9L112.8 148L110.5 146.5L105.9 139.5L101.2 132.6L96.6 125.7L92 118.7L87.4 111.8L84.5 104.8L82.1 97.9L81.6 89.8L83.9 81.7L87.4 74.7L93.1 66.1ZM236.6 94.4L241.3 95.6L243.6 99L243.6 102.5L240.1 106L235.5 110.6L230.8 114.1L226.2 117.6L221.6 121L217 125.7L213.5 130.3L211.2 136.1L210.6 141.9L211.7 146.5L214.6 151.1L218.1 154.6L220.4 159.2L222.7 163L223.9 167.7L223.3 172.3L219.3 174L214.6 176.9L211.2 178.7L210.6 175.8L212.9 171.1L214.6 166.5L213.5 161.9L210 159L205.4 157.3L200.8 159L196.1 163L190.3 167.7L185.7 171.1L181.1 173.2L176.5 171.7L173 168.8L172.4 166.5L175.3 163.6L179.9 160.1L184.6 154.6L189.2 150L192.7 145.3L195.5 140.7L197.3 134.9L199.6 128L201.9 121L203.1 115.2L204.2 109.5L207.7 105.4L213.5 103.7L220.4 102.5L226.2 100.2L232 96.7ZM44.5 153.6L48.1 152.5L51 154L51.9 156.9L51.4 159.8L49.9 162L48.8 164.9L48.1 168.6L47 172.2L46.7 175.2L48.1 177.7L50.3 180.6L52.1 183.2L51.8 185.4L48.8 186.1L45.2 185.7L41.5 185L37.9 184.7L37.2 186.8L36.4 189.8L34.2 192L31.3 193.1L29.1 191.6L26.9 190.5L24.7 190.5L23.3 188.3L21.1 186.8L17.8 187.2L15.2 186.5L13.8 184.7L14.9 182.8L17.4 182.1L20.3 181.7L21.1 180.3L23.3 179.2L25.5 179.5L27.7 181.4L30.6 181L33.5 180.3L35.7 179.9L37.9 179.5L39.3 178.1L37.9 175.9L38.6 172.2L39.7 168.6L41.2 164.9L42.3 161.3L43 157.6ZM323.9 156.8L328.2 155.9L332 157.2L334.1 160.2L334.8 164.4L334.6 168.7L332.9 172.1L332 176.4L331.8 180.6L331.2 184.9L331.2 189.2L330.7 193.4L329 196.8L326 199.4L323.9 201.9L320.9 204.5L317.5 206.2L314.1 207.9L309.8 209.2L305.6 210L301.3 210.9L297.1 211.3L294.5 210L293.2 206.2L292.8 202.8L294.5 201.1L297.1 201.9L298.8 201.1L300 199L302.2 196.8L303 193.4L303.4 189.2L304.3 184.9L306.4 182.3L308.1 179.8L311.5 177.6L315 176.4L316.7 174.2L317.5 170L317.9 165.7L319.2 162.7L321.4 159.3ZM118.6 41.2L122.1 38.9L125.5 37.7L127.3 38.9L126.7 41.2L123.2 44.7L118.6 49.3L115.1 51L114.5 48.1L116.3 44.1ZM171.8 207L176.5 206.4L179.9 209.3L182.8 212.8L184 216.3L181.1 219.7L177.6 224.4L173 227.3L168.4 229L163.7 228.4L160.3 226.7L161.4 223.2L164.9 220.3L169.5 217.4L170.7 212.8ZM135 167.9L139.4 167.4L140.8 170L139.2 172.1L135.4 171.1ZM138 177.5L141.7 176.9L142.9 180.4L140.8 182.9L138 181.6ZM144.3 174.8L147.3 175.3L147.5 177.9L144.8 177.9ZM133.4 191L137.7 189.9L142 191.4L141.5 194.3L137.1 194.9L133.4 194.3ZM144.1 194.9L149.8 194.1L155.9 196.6L155 200.3L149.8 201L145.2 200.1ZM149.8 181.8L153.1 181.6L153.5 184.8L150.3 185.3ZM133.1 199.5L134.8 198.9L135 203.3L133.4 203.5ZM145.8 164.2L148.7 164L149.1 166.5L146.4 167ZM151 171.1L153.5 170.7L154.2 173.5L151.5 174.2ZM140.6 186.2L144.1 185.7L144.5 188.5L141 189Z" fill="#C9C9C9" fill-rule="evenodd"/>
<path d="M98.3 62.6L100.3 64.3L98 67.8L98.3 72.2L101.5 73.4L104.7 69L107 60.9L108.2 51.6L109.9 43.5L114 35.4L119.8 27.9L125.5 23.2L132.5 18.6L141.7 15.7L151 13.4L159.1 12.3L167.2 11.7L170.7 14.6L172.4 19.2L174.1 23.2L178.8 24.4L184.6 26.1L189.2 30.2L192.7 34.2L193.2 37.7L191.5 42.3L188 47L183.4 49.3L178.8 50.4L173 51L168.4 49.3L163.7 51.6L160.3 55.1L156.8 59.7L153.3 64.3L151 69L148.7 73.6L146.9 78.2L147.5 82.8L149.8 88.6L151 94.4L151.6 99L150.4 103.7L148.7 108.3L145.2 112.9L141.7 117.6L137.1 122.2L134.2 125.7L133.1 130.3L134.2 134.9L136 139.5L138.3 144.2L141.7 148.8L145.2 152.3L148.7 154.6L148.7 154.6L151 158.4L153.3 163L156.2 167.7L158.5 173L159.7 176.9L159.1 181.6L156.2 186.2L153.9 190.8L155 194.3L157.9 197.2L161.4 196.6L166 195.4L170.7 193.7L175.3 192L179.9 189.7L184.6 187.9L188 188.5L191.5 191.4L196.1 193.7L200.8 196.6L205.4 200.1L210 202.4L214.6 204.7L218.1 208.2L220.4 211.6L221.6 216.3L221.6 220.9L219.8 226.1L217 231.3L213.5 236.5L208.9 241.7L204.2 246.4L198.4 251L192.7 255L186.9 258.5L181.1 262L176.5 264.9L171.8 268.3L167.2 273L161.4 277.6L155.6 282.2L148.7 286.3L140.6 289.7L132.5 293.2L124.4 296.1L116.3 297.8L108.2 298.4L100.1 298.4L96 297.3L97.2 292.6L96 285.7L93.7 278.8L92 271.8L91.4 264.9L92.6 257.9L94.3 251L96.6 244L98.9 237.1L101.2 231.3L103.6 226.7L98.9 223.2L99.5 217.4L101.2 211.6L103.6 207L107 202.4L110.5 197.8L114.5 194.3L115.7 189.7L116.9 182.7L118 175.8L118.6 168.8L118 161.9L116.3 154.9L112.8 148L110.5 146.5L105.9 139.5L101.2 132.6L96.6 125.7L92 118.7L87.4 111.8L84.5 104.8L82.1 97.9L81.6 89.8L83.9 81.7L87.4 74.7L93.1 66.1ZM236.6 94.4L241.3 95.6L243.6 99L243.6 102.5L240.1 106L235.5 110.6L230.8 114.1L226.2 117.6L221.6 121L217 125.7L213.5 130.3L211.2 136.1L210.6 141.9L211.7 146.5L214.6 151.1L218.1 154.6L220.4 159.2L222.7 163L223.9 167.7L223.3 172.3L219.3 174L214.6 176.9L211.2 178.7L210.6 175.8L212.9 171.1L214.6 166.5L213.5 161.9L210 159L205.4 157.3L200.8 159L196.1 163L190.3 167.7L185.7 171.1L181.1 173.2L176.5 171.7L173 168.8L172.4 166.5L175.3 163.6L179.9 160.1L184.6 154.6L189.2 150L192.7 145.3L195.5 140.7L197.3 134.9L199.6 128L201.9 121L203.1 115.2L204.2 109.5L207.7 105.4L213.5 103.7L220.4 102.5L226.2 100.2L232 96.7ZM44.5 153.6L48.1 152.5L51 154L51.9 156.9L51.4 159.8L49.9 162L48.8 164.9L48.1 168.6L47 172.2L46.7 175.2L48.1 177.7L50.3 180.6L52.1 183.2L51.8 185.4L48.8 186.1L45.2 185.7L41.5 185L37.9 184.7L37.2 186.8L36.4 189.8L34.2 192L31.3 193.1L29.1 191.6L26.9 190.5L24.7 190.5L23.3 188.3L21.1 186.8L17.8 187.2L15.2 186.5L13.8 184.7L14.9 182.8L17.4 182.1L20.3 181.7L21.1 180.3L23.3 179.2L25.5 179.5L27.7 181.4L30.6 181L33.5 180.3L35.7 179.9L37.9 179.5L39.3 178.1L37.9 175.9L38.6 172.2L39.7 168.6L41.2 164.9L42.3 161.3L43 157.6ZM323.9 156.8L328.2 155.9L332 157.2L334.1 160.2L334.8 164.4L334.6 168.7L332.9 172.1L332 176.4L331.8 180.6L331.2 184.9L331.2 189.2L330.7 193.4L329 196.8L326 199.4L323.9 201.9L320.9 204.5L317.5 206.2L314.1 207.9L309.8 209.2L305.6 210L301.3 210.9L297.1 211.3L294.5 210L293.2 206.2L292.8 202.8L294.5 201.1L297.1 201.9L298.8 201.1L300 199L302.2 196.8L303 193.4L303.4 189.2L304.3 184.9L306.4 182.3L308.1 179.8L311.5 177.6L315 176.4L316.7 174.2L317.5 170L317.9 165.7L319.2 162.7L321.4 159.3ZM118.6 41.2L122.1 38.9L125.5 37.7L127.3 38.9L126.7 41.2L123.2 44.7L118.6 49.3L115.1 51L114.5 48.1L116.3 44.1ZM171.8 207L176.5 206.4L179.9 209.3L182.8 212.8L184 216.3L181.1 219.7L177.6 224.4L173 227.3L168.4 229L163.7 228.4L160.3 226.7L161.4 223.2L164.9 220.3L169.5 217.4L170.7 212.8ZM135 167.9L139.4 167.4L140.8 170L139.2 172.1L135.4 171.1ZM138 177.5L141.7 176.9L142.9 180.4L140.8 182.9L138 181.6ZM144.3 174.8L147.3 175.3L147.5 177.9L144.8 177.9ZM133.4 191L137.7 189.9L142 191.4L141.5 194.3L137.1 194.9L133.4 194.3ZM144.1 194.9L149.8 194.1L155.9 196.6L155 200.3L149.8 201L145.2 200.1ZM149.8 181.8L153.1 181.6L153.5 184.8L150.3 185.3ZM133.1 199.5L134.8 198.9L135 203.3L133.4 203.5ZM145.8 164.2L148.7 164L149.1 166.5L146.4 167ZM151 171.1L153.5 170.7L154.2 173.5L151.5 174.2ZM140.6 186.2L144.1 185.7L144.5 188.5L141 189Z" fill="none" stroke="#C9C9C9" stroke-width="3.2" stroke-linecap="round" stroke-linejoin="round" stroke-dasharray="0.01 3.3"/>
<path d="M160.1 180.1h0M161.9 182.2h0M157 190h0M160.4 169.7h0M165.6 191h0M164.1 186.8h0M167.3 181.7h0M166.8 191.4h0M166.7 192.8h0M162.3 188.8h0M163 193.3h0M158.7 169.2h0M163.8 174.8h0M161.7 181.5h0M168.4 184.8h0M162.6 167.7h0M161.4 163h0M163.7 175.2h0M161.4 182.7h0M166 189.1h0M160.3 192h0M171.8 178.3h0M175.5 181.8h0M179.9 179.5h0M185.7 181.8h0M182 184.8h0M186.9 186.8h0M174.7 176.9h0M157.9 166.5h0M210.9 181.6h0M93.7 302.5h0" fill="none" stroke="#C9C9C9" stroke-width="4.1" stroke-linecap="round"/>
</g>
<clipPath id="uc"><path d="M98.3 62.6L100.3 64.3L98 67.8L98.3 72.2L101.5 73.4L104.7 69L107 60.9L108.2 51.6L109.9 43.5L114 35.4L119.8 27.9L125.5 23.2L132.5 18.6L141.7 15.7L151 13.4L159.1 12.3L167.2 11.7L170.7 14.6L172.4 19.2L174.1 23.2L178.8 24.4L184.6 26.1L189.2 30.2L192.7 34.2L193.2 37.7L191.5 42.3L188 47L183.4 49.3L178.8 50.4L173 51L168.4 49.3L163.7 51.6L160.3 55.1L156.8 59.7L153.3 64.3L151 69L148.7 73.6L146.9 78.2L147.5 82.8L149.8 88.6L151 94.4L151.6 99L150.4 103.7L148.7 108.3L145.2 112.9L141.7 117.6L137.1 122.2L134.2 125.7L133.1 130.3L134.2 134.9L136 139.5L138.3 144.2L141.7 148.8L145.2 152.3L148.7 154.6L148.7 154.6L151 158.4L153.3 163L156.2 167.7L158.5 173L159.7 176.9L159.1 181.6L156.2 186.2L153.9 190.8L155 194.3L157.9 197.2L161.4 196.6L166 195.4L170.7 193.7L175.3 192L179.9 189.7L184.6 187.9L188 188.5L191.5 191.4L196.1 193.7L200.8 196.6L205.4 200.1L210 202.4L214.6 204.7L218.1 208.2L220.4 211.6L221.6 216.3L221.6 220.9L219.8 226.1L217 231.3L213.5 236.5L208.9 241.7L204.2 246.4L198.4 251L192.7 255L186.9 258.5L181.1 262L176.5 264.9L171.8 268.3L167.2 273L161.4 277.6L155.6 282.2L148.7 286.3L140.6 289.7L132.5 293.2L124.4 296.1L116.3 297.8L108.2 298.4L100.1 298.4L96 297.3L97.2 292.6L96 285.7L93.7 278.8L92 271.8L91.4 264.9L92.6 257.9L94.3 251L96.6 244L98.9 237.1L101.2 231.3L103.6 226.7L98.9 223.2L99.5 217.4L101.2 211.6L103.6 207L107 202.4L110.5 197.8L114.5 194.3L115.7 189.7L116.9 182.7L118 175.8L118.6 168.8L118 161.9L116.3 154.9L112.8 148L110.5 146.5L105.9 139.5L101.2 132.6L96.6 125.7L92 118.7L87.4 111.8L84.5 104.8L82.1 97.9L81.6 89.8L83.9 81.7L87.4 74.7L93.1 66.1ZM236.6 94.4L241.3 95.6L243.6 99L243.6 102.5L240.1 106L235.5 110.6L230.8 114.1L226.2 117.6L221.6 121L217 125.7L213.5 130.3L211.2 136.1L210.6 141.9L211.7 146.5L214.6 151.1L218.1 154.6L220.4 159.2L222.7 163L223.9 167.7L223.3 172.3L219.3 174L214.6 176.9L211.2 178.7L210.6 175.8L212.9 171.1L214.6 166.5L213.5 161.9L210 159L205.4 157.3L200.8 159L196.1 163L190.3 167.7L185.7 171.1L181.1 173.2L176.5 171.7L173 168.8L172.4 166.5L175.3 163.6L179.9 160.1L184.6 154.6L189.2 150L192.7 145.3L195.5 140.7L197.3 134.9L199.6 128L201.9 121L203.1 115.2L204.2 109.5L207.7 105.4L213.5 103.7L220.4 102.5L226.2 100.2L232 96.7ZM44.5 153.6L48.1 152.5L51 154L51.9 156.9L51.4 159.8L49.9 162L48.8 164.9L48.1 168.6L47 172.2L46.7 175.2L48.1 177.7L50.3 180.6L52.1 183.2L51.8 185.4L48.8 186.1L45.2 185.7L41.5 185L37.9 184.7L37.2 186.8L36.4 189.8L34.2 192L31.3 193.1L29.1 191.6L26.9 190.5L24.7 190.5L23.3 188.3L21.1 186.8L17.8 187.2L15.2 186.5L13.8 184.7L14.9 182.8L17.4 182.1L20.3 181.7L21.1 180.3L23.3 179.2L25.5 179.5L27.7 181.4L30.6 181L33.5 180.3L35.7 179.9L37.9 179.5L39.3 178.1L37.9 175.9L38.6 172.2L39.7 168.6L41.2 164.9L42.3 161.3L43 157.6ZM323.9 156.8L328.2 155.9L332 157.2L334.1 160.2L334.8 164.4L334.6 168.7L332.9 172.1L332 176.4L331.8 180.6L331.2 184.9L331.2 189.2L330.7 193.4L329 196.8L326 199.4L323.9 201.9L320.9 204.5L317.5 206.2L314.1 207.9L309.8 209.2L305.6 210L301.3 210.9L297.1 211.3L294.5 210L293.2 206.2L292.8 202.8L294.5 201.1L297.1 201.9L298.8 201.1L300 199L302.2 196.8L303 193.4L303.4 189.2L304.3 184.9L306.4 182.3L308.1 179.8L311.5 177.6L315 176.4L316.7 174.2L317.5 170L317.9 165.7L319.2 162.7L321.4 159.3ZM118.6 41.2L122.1 38.9L125.5 37.7L127.3 38.9L126.7 41.2L123.2 44.7L118.6 49.3L115.1 51L114.5 48.1L116.3 44.1ZM171.8 207L176.5 206.4L179.9 209.3L182.8 212.8L184 216.3L181.1 219.7L177.6 224.4L173 227.3L168.4 229L163.7 228.4L160.3 226.7L161.4 223.2L164.9 220.3L169.5 217.4L170.7 212.8ZM135 167.9L139.4 167.4L140.8 170L139.2 172.1L135.4 171.1ZM138 177.5L141.7 176.9L142.9 180.4L140.8 182.9L138 181.6ZM144.3 174.8L147.3 175.3L147.5 177.9L144.8 177.9ZM133.4 191L137.7 189.9L142 191.4L141.5 194.3L137.1 194.9L133.4 194.3ZM144.1 194.9L149.8 194.1L155.9 196.6L155 200.3L149.8 201L145.2 200.1ZM149.8 181.8L153.1 181.6L153.5 184.8L150.3 185.3ZM133.1 199.5L134.8 198.9L135 203.3L133.4 203.5ZM145.8 164.2L148.7 164L149.1 166.5L146.4 167ZM151 171.1L153.5 170.7L154.2 173.5L151.5 174.2ZM140.6 186.2L144.1 185.7L144.5 188.5L141 189Z" clip-rule="evenodd" stroke="#000" stroke-width="2"/></clipPath></defs>
<g transform="translate(814,1179.5)"><use href="#ug"/><g clip-path="url(#uc)"><path d="M100.6 202.8L119.2 197.2L134 199.1L148.9 202.8L163.7 202.1L171.9 205.8L168.2 214L160.8 221.4L156.3 228.8L153.3 236.3L156.3 243.7L163.7 251.1L169.3 258.5L168.2 269.7L160.8 280.8L148.9 292L134 299.4L111.7 301.3L93.2 299.4L87.6 273.4L89.4 254.8L95 236.3L96.9 217.7Z" fill="#DE2D26"/><path d="M100.6 202.8L119.2 197.2L134 199.1L148.9 202.8L163.7 202.1L171.9 205.8L168.2 214L160.8 221.4L156.3 228.8L153.3 236.3L156.3 243.7L163.7 251.1L169.3 258.5L168.2 269.7L160.8 280.8L148.9 292L134 299.4L111.7 301.3L93.2 299.4L87.6 273.4L89.4 254.8L95 236.3L96.9 217.7Z" fill="none" stroke="#DE2D26" stroke-width="3" stroke-linecap="round" stroke-dasharray="0.01 2.4"/><path d="M100.3 201.7h0M103.7 200.7h0M105 200.1h0M104.8 203h0M107.2 202.2h0M109 200h0M109.9 200h0M110.7 200.2h0M113.4 198.1h0M115 197.5h0M114.2 198.5h0M114.9 196.4h0M118.3 197.6h0M118.4 198.9h0M120.1 196.2h0M120.9 198.3h0M123.9 198.7h0M124.6 196.8h0M125.8 199.4h0M127 198.2h0M128.5 197h0M128.3 197.4h0M132.5 199.3h0M131.2 199.9h0M134.4 200.5h0M135.9 198.8h0M134.6 200h0M137.3 198.6h0M139.7 199.6h0M138.6 200.7h0M141.4 202.4h0M144.3 201.9h0M144.7 200.2h0M146.2 200.8h0M146.1 201.9h0M146.4 201.8h0M149.9 202.2h0M152.1 201.1h0M150.1 203.3h0M151.6 204.1h0M154.1 201.7h0M157.4 201.6h0M155.8 202.9h0M159.3 202.2h0M160.2 201.7h0M160.3 201.5h0M162.4 201.1h0M165.3 201h0M166.2 204.6h0M165.5 204.5h0M170 203.7h0M170.2 206.4h0M170.7 204.7h0M173 205h0M171.4 208.8h0M169.5 208.7h0M170.4 209.7h0M167.9 210.4h0M168.7 213.5h0M166.1 216.1h0M166.2 214.1h0M167.1 215h0M164.9 215.4h0M163 219.9h0M164 219.5h0M161.1 218.3h0M161.7 222h0M159.4 223.2h0M160.2 225.1h0M159.6 224.2h0M158.1 226.4h0M156.7 226.6h0M157.1 228.7h0M156.7 227.6h0M154.3 231.6h0M154.9 231.7h0M155.4 233.9h0M154.9 234.6h0M151.8 236h0M151.9 238.2h0M153.9 240.2h0M153.1 241.1h0M156.6 239.2h0M154.3 241.4h0M155.1 242.5h0M157.8 244.4h0M158 244h0M157.4 247h0M161.3 246.4h0M160.3 248.6h0M161.5 248.1h0M162.1 248.8h0M162.5 252.1h0M163.2 250.8h0M165.7 252.5h0M164.3 252.7h0M167.9 253.9h0M167.8 256.9h0M168.4 256.8h0M167.6 259h0M170.3 258.6h0M168.7 259.7h0M169.5 263.7h0M169.8 264h0M169.9 265.1h0M169.5 268.2h0M167.1 267.4h0M168.6 269.3h0M167.5 269.4h0M165.6 270.9h0M165.8 273.8h0M167.1 274.4h0M164.1 275.5h0M162.8 275.8h0M164.5 279h0M162.5 276.7h0M160.5 279.5h0M160.9 279.8h0M159.9 282.9h0M159.9 283.2h0M158.1 283h0M156.5 284.6h0M158 284.6h0M154.3 285h0M155.2 287.2h0M154.9 286.9h0M153.9 289.3h0M152 288.2h0M150.4 291.4h0M148.9 290.3h0M146.6 291.7h0M146.9 293h0M144.6 292h0M144.9 293.9h0M142.7 295.2h0M142.3 295.1h0M142.1 296.7h0M138.8 295.7h0M139.5 296.8h0M135.6 296.3h0M136.7 298.4h0M133.5 299.7h0M134.3 298.5h0M130 298.4h0M129.5 301.1h0M129.9 300.2h0M128.1 300.1h0M127 300.9h0M123.4 298.5h0M122.4 300.1h0M124 298.9h0M120.5 301.9h0M120.8 301.7h0M119.7 300.4h0M116.7 301.5h0M115.5 299.4h0M116.5 299.7h0M113 302.6h0M110.8 299.6h0M110.5 300.3h0M110.3 301.1h0M107.3 300.4h0M108.3 301.1h0M104.7 300h0M102.6 299.3h0M102.5 300.1h0M100.2 299.8h0M100.8 300.7h0M97.7 299.7h0M96.4 301h0M97.6 299h0M95.1 298.9h0M92.5 300.1h0M93.4 297.6h0M92 296.4h0M91.9 295.9h0M91.1 295.1h0M92.2 293.2h0M90.4 292.5h0M90.6 289.4h0M91.9 289.9h0M89.3 289.1h0M89.6 285.1h0M91.8 286.8h0M91.6 284.3h0M88.8 282.5h0M88.6 282.3h0M88.1 280.5h0M88.9 279.5h0M89.9 278h0M86.7 274.8h0M89.2 273.9h0M88.5 273.2h0M88 272.8h0M88.4 271.2h0M88.5 270.7h0M89.1 268.5h0M86.9 267.2h0M87.3 266.1h0M88.4 262.8h0M87.9 263.9h0M89.7 262.5h0M88.5 259.5h0M88.1 260.8h0M90.5 258.3h0M87.8 256h0M88.3 255.7h0M88.6 254.8h0M90.9 251.8h0M88.9 253.4h0M91.5 251h0M92.6 249.3h0M91 247.4h0M93.2 247.8h0M94.3 245.3h0M93.1 241.4h0M94.4 242.8h0M93.2 241.9h0M95.5 240.1h0M95.7 239.4h0M94.7 236.9h0M95.4 236h0M95.2 234.8h0M93.9 232h0M95.4 233.4h0M94.4 229.1h0M97.3 228h0M97.1 227.3h0M96.2 228.1h0M96.9 226.8h0M96.5 223.7h0M98.1 222.2h0M98 221.9h0M96.4 218.5h0M97.5 216.9h0M97.2 218.1h0M97.9 215.7h0M97 215h0M97.7 213.6h0M97.6 212.5h0M100 210h0M97.7 209.7h0M98.9 208.5h0M97.9 208h0M99.2 203.8h0M99.4 204.8h0" fill="none" stroke="#DE2D26" stroke-width="4.2" stroke-linecap="round"/></g><path d="M184.9 37.9h0M188.6 37.9h0M46.7 179.4h0M172.3 177.6h0M184.2 169.4h0M189 162h0M181.6 207.6h0M179.7 224h0M176 253h0M179.3 260.4h0M126.6 197.2h0M139.6 201h0M147 204.7h0M100.6 223.2h0M93.9 302.4h0" fill="none" stroke="#DE2D26" stroke-width="4.7" stroke-linecap="round"/></g>
<text transform="translate(815.4,1173.5) scale(1.04,1)" font-size="23.5" stroke="#000" stroke-width="0.33">ISC</text>
<g transform="translate(1197,1179.5)"><use href="#ug"/><g clip-path="url(#uc)"><path d="M119.4 174.8L127.9 172.7L134.3 176.9L136.4 185.5L138.6 191.9L147.1 200.4L155.6 198.3L166.3 192.9L174.8 187.6L181.2 184.4L189.7 187.6L200.4 194L211 200.4L219.6 206.8L223.8 215.3L220.6 226L214.2 234.5L205.7 243L195.1 249.4L184.4 255.8L175.9 262.2L167.3 269.7L156.7 277.1L146 282.5L133.2 286.7L121.5 287.8L113 285.7L108.7 277.1L105.5 266.5L106.6 255.8L108.7 245.2L109.8 234.5L113 226L110.9 215.3L108.7 206.8L113 198.3L117.2 187.6Z" fill="#DE2D26"/><path d="M119.4 174.8L127.9 172.7L134.3 176.9L136.4 185.5L138.6 191.9L147.1 200.4L155.6 198.3L166.3 192.9L174.8 187.6L181.2 184.4L189.7 187.6L200.4 194L211 200.4L219.6 206.8L223.8 215.3L220.6 226L214.2 234.5L205.7 243L195.1 249.4L184.4 255.8L175.9 262.2L167.3 269.7L156.7 277.1L146 282.5L133.2 286.7L121.5 287.8L113 285.7L108.7 277.1L105.5 266.5L106.6 255.8L108.7 245.2L109.8 234.5L113 226L110.9 215.3L108.7 206.8L113 198.3L117.2 187.6Z" fill="none" stroke="#DE2D26" stroke-width="3" stroke-linecap="round" stroke-dasharray="0.01 2.4"/><path d="M119 174.1h0M122.6 173h0M124.7 172.2h0M124.1 172.1h0M126 171.9h0M127.6 172h0M129.3 173.9h0M127.8 173.9h0M130.8 175.9h0M132.3 174.4h0M132.3 177.7h0M133.4 176.5h0M136.6 179.8h0M135.2 181.5h0M136.4 181.5h0M137.4 181.7h0M134.8 183.4h0M135.2 188.1h0M137.4 187.2h0M136.5 187.1h0M136.2 190h0M138.9 191h0M140.9 192h0M141.1 192.7h0M141.8 195.5h0M142.1 195.4h0M143.2 197.6h0M143.9 197.4h0M143 197.2h0M146.9 200h0M148.4 198.7h0M148.4 201.2h0M147.7 200.3h0M150.6 197.8h0M150.5 199.2h0M152.8 198.2h0M153.2 197.4h0M157.2 199.4h0M159.5 197.2h0M158.1 197.1h0M159.5 195h0M161 196.3h0M161.1 195h0M163.9 195.8h0M163.6 195.4h0M166.6 194.7h0M167.8 192.1h0M167.6 190.5h0M169.3 190.5h0M171.8 191.1h0M171.8 187.9h0M173.2 187.7h0M174.7 188.4h0M175.3 188.9h0M177.1 184.9h0M177.8 186.8h0M179.6 185.6h0M180.1 184.8h0M181.9 183.4h0M184.3 183.6h0M182.9 185.2h0M186 185.9h0M187.5 185h0M188.4 187.5h0M190.6 186.8h0M191.1 189h0M193.2 188.8h0M192.3 189.1h0M193.5 189.2h0M193.5 189.3h0M196.4 192.8h0M196.2 192.5h0M199.8 193.8h0M199.5 194.1h0M199.4 195.2h0M200.6 194.4h0M201.6 194.4h0M204.8 198.2h0M204.9 196.9h0M207.9 198.9h0M207.5 199h0M210.2 197.7h0M211.6 199h0M211.7 201.7h0M214.7 203.5h0M214.5 201.3h0M215.1 204.1h0M217 204.5h0M218.4 204.4h0M217.5 205h0M218.1 207.5h0M219.9 208.9h0M221.2 209.3h0M219.8 211.2h0M222 209.4h0M221.5 211.8h0M223.5 215.6h0M224.8 214.8h0M223.4 217.4h0M223.5 217.3h0M223.1 217.9h0M221.5 221.1h0M220.6 220.2h0M223.2 222.6h0M220.1 224.1h0M222.4 224.5h0M219.6 228.5h0M221.2 226.4h0M219.4 228.9h0M217.7 229.4h0M215.8 230.1h0M217 231.4h0M216.9 231.9h0M214.3 232.8h0M214.9 233.6h0M213.3 234.5h0M212.5 237.2h0M210.1 237.8h0M208.1 238.5h0M210 240.2h0M206.8 241.1h0M206.4 243.1h0M207 240.6h0M205.6 244.3h0M202.8 244.9h0M203.4 245.3h0M201.2 247.2h0M198.6 247.5h0M199.7 246.4h0M198 246.7h0M197.5 249.4h0M193.7 248.4h0M194.2 251.4h0M194.1 251.4h0M191.5 249.8h0M189.7 251.3h0M188.4 253.7h0M189.9 252.2h0M188.3 253.2h0M186.2 256.5h0M183.8 256.7h0M185.3 255.4h0M183.9 258.7h0M181.8 258.8h0M182.2 259.5h0M180.3 260.6h0M177 260.2h0M179.2 260.7h0M176 261.7h0M174.7 262.9h0M175 262.9h0M174.7 263.7h0M173.1 266.9h0M172.1 266.5h0M170.8 267.3h0M169.9 267.9h0M167.8 268.1h0M168.4 270.6h0M166.8 269.6h0M166.2 271.3h0M164.6 272.3h0M162.7 273.5h0M160 273.8h0M161.1 275.2h0M160.4 275.5h0M157.6 275.5h0M158.4 276.8h0M156.2 278.6h0M156.2 276.5h0M152.8 277.4h0M151.5 279h0M150.1 279.3h0M149.8 281.6h0M150.2 280.1h0M149.3 280.3h0M146.7 283.3h0M145 283.9h0M144.1 281.7h0M142.7 282.4h0M143.4 282.5h0M142.2 284.2h0M138 285.1h0M139.2 284.2h0M134.5 284.6h0M136.2 287.1h0M132.4 287.2h0M131.1 286.9h0M131.2 285.4h0M129 285.6h0M129.9 286.3h0M127 287.1h0M127.6 288.1h0M124.3 288.8h0M123.6 287.9h0M120.8 288.7h0M122.6 287.4h0M119 287.5h0M117.4 288.3h0M118.2 287h0M115.3 287.3h0M113.3 287.3h0M110.9 283.8h0M113.2 282.8h0M112.5 284.3h0M111.1 281.3h0M109.6 282.4h0M108.4 277.4h0M109.5 277.9h0M109.3 276.4h0M106.9 274.6h0M109.1 274.6h0M108 270.8h0M106.9 270h0M108.1 270.7h0M105.5 267.5h0M106.1 266h0M107.3 267h0M107 263.1h0M105.4 263.6h0M106.7 262.6h0M107.7 260.3h0M105.9 259.6h0M106.2 258.4h0M108.1 256.1h0M105.9 253.5h0M108.3 254.6h0M107.3 253.1h0M108.7 251.3h0M108.9 251.8h0M109.3 248.5h0M109.2 246.3h0M109.8 247.9h0M110.3 245.3h0M110.6 241.2h0M107.8 242h0M108.5 241.2h0M110.3 238.5h0M108.9 239.2h0M109.4 234.9h0M108.5 236.1h0M110.4 234.5h0M110.5 234.1h0M112.7 229.7h0M109.9 232.3h0M110.6 227.5h0M112.4 226.8h0M111.2 227.5h0M112.3 227h0M113.2 225.2h0M112.6 223.8h0M111 221.1h0M112.9 220.8h0M111.5 217.6h0M109.9 216.2h0M112.5 217.8h0M109.7 216.5h0M111.7 212.5h0M108.7 211.5h0M109.4 211.9h0M108.6 210h0M107.3 207.2h0M107.1 206.3h0M108.6 206.3h0M111 204.7h0M109.9 203.7h0M112.2 200.3h0M113 199.8h0M113.6 197.2h0M114.4 195.9h0M115.5 195.5h0M113.1 195.7h0M114 194.8h0M115 190.4h0M115.9 191.6h0M114.9 191.1h0M116.7 187.6h0M118.2 187.5h0M119 187.7h0M119 183.6h0M117.2 183.7h0M120.1 179.1h0M119.8 181.7h0M118.7 176.6h0M119 176.8h0M117.7 176.2h0" fill="none" stroke="#DE2D26" stroke-width="4.2" stroke-linecap="round"/></g><path d="M117.2 149.2h0M121.5 155.6h0M120.4 172.7h0M160.9 166.3h0M193.6 163.1h0M211 179.5h0M100.2 217.4h0M103.4 236.6h0M104.9 247.3h0M104.5 254.7h0M105.5 264.3h0M104.5 278.2h0M98.5 289.9h0M115.1 289.9h0M129 291h0M295.2 201.4h0M306.3 195.1h0M116.2 213.2h0M122.6 217.4h0M115.1 230.2h0M139.6 183.3h0" fill="none" stroke="#DE2D26" stroke-width="4.7" stroke-linecap="round"/></g>
<text transform="translate(1198.4,1173.5) scale(1.04,1)" font-size="23.5" stroke="#000" stroke-width="0.33">TA</text>
<g transform="translate(1580,1179.5)"><use href="#ug"/><g clip-path="url(#uc)"><path d="M90.6 107.7L100.2 110.9L110.9 113L121.5 116.2L130 127.9L136.4 138.6L147.1 153.5L155.6 164.1L159.9 174.8L159.5 185.5L160.9 192.9L156.7 195.1L149.2 190.8L142.8 191.9L136.4 185.5L127.9 182.9L119.4 181.2L118.3 170.5L115.1 157.7L108.7 145L100.2 130L93.8 117.2Z" fill="#DE2D26"/><path d="M90.6 107.7L100.2 110.9L110.9 113L121.5 116.2L130 127.9L136.4 138.6L147.1 153.5L155.6 164.1L159.9 174.8L159.5 185.5L160.9 192.9L156.7 195.1L149.2 190.8L142.8 191.9L136.4 185.5L127.9 182.9L119.4 181.2L118.3 170.5L115.1 157.7L108.7 145L100.2 130L93.8 117.2Z" fill="none" stroke="#DE2D26" stroke-width="3" stroke-linecap="round" stroke-dasharray="0.01 2.4"/><path d="M92 106.9h0M94 110.1h0M95.7 110.5h0M95.2 108.8h0M96 108.4h0M96.9 109.9h0M100.7 109.1h0M99.7 109.4h0M100.7 111.5h0M105.1 111.6h0M106.1 112h0M105.6 112.4h0M108.5 114h0M106.8 111h0M110 114.2h0M110.9 113.8h0M112 115.2h0M114 114.3h0M115.9 113.8h0M118 115.7h0M118.3 114.4h0M118.7 114.9h0M120.7 117h0M121.6 118.4h0M122.4 119.2h0M123.9 118.9h0M124.2 119.8h0M125.1 120.3h0M125.4 122.6h0M125.8 124.6h0M126.7 122.6h0M129.4 126.1h0M129.8 126.4h0M128.9 127.7h0M129 128.2h0M132.9 130.7h0M132.4 129.9h0M133.9 132.2h0M133.3 132h0M135.7 135.6h0M135.7 134.7h0M134.8 138.7h0M137.6 139.6h0M138.1 138.2h0M138.4 138.5h0M138.5 140.3h0M139 141.6h0M141.5 142.5h0M141.2 144h0M141.1 146.5h0M140.7 147h0M141.4 146.9h0M144.3 149.9h0M146.1 151.2h0M146.9 150.2h0M147.9 151.9h0M148.4 154.5h0M146.3 152.5h0M147.9 156.3h0M149.6 156.7h0M150.4 156.2h0M152.9 158.9h0M152.8 158.2h0M151.3 159.7h0M155.5 161.2h0M153.3 161.3h0M154.3 165.2h0M156.6 164.6h0M157.6 165.1h0M157.8 167.9h0M156.1 168.7h0M156.9 171.2h0M156.9 170.9h0M158.9 171.2h0M160.6 172.5h0M160.6 176.4h0M159 175.5h0M159.5 177.4h0M161.3 180.6h0M160.6 181.8h0M158.2 182.2h0M160 182.6h0M160.1 183.4h0M160.1 187.2h0M161 188.2h0M159.8 190.4h0M159.2 190.4h0M161.3 192h0M158.2 192.4h0M159 195.5h0M155.8 196.2h0M156.1 195.7h0M154.3 192.3h0M152.9 192.9h0M150.7 191.2h0M149.8 191.6h0M148.3 190h0M147.5 190.3h0M145.7 192.5h0M145.8 191.8h0M144.9 190h0M141.8 192.3h0M141.6 191.3h0M139.7 189.5h0M139.9 189.7h0M140.2 187h0M136.2 187.1h0M137.4 185h0M135.6 183.3h0M134.2 185.1h0M132.4 184.3h0M129.4 185.2h0M128.6 184.8h0M127.8 181.7h0M125.8 181.2h0M125.2 180.9h0M121.5 180.7h0M121.7 180.9h0M120.7 182.7h0M120.4 180.3h0M120 177.2h0M120.4 177.6h0M120.4 174.6h0M120.3 175.7h0M118.3 171.8h0M117 171.3h0M118.2 169.3h0M119.7 169.4h0M118 167.4h0M117.2 165.7h0M117.3 167.4h0M118.2 166.4h0M115.5 162.4h0M117.8 162.8h0M117.5 162h0M116.9 160.7h0M116.2 160.2h0M113 156.4h0M115.5 156.2h0M115 154.2h0M111.5 153.9h0M111.3 151.5h0M113.6 153.4h0M112.4 151.8h0M111.2 150.8h0M108.8 148.3h0M108.5 147.9h0M109.3 144.5h0M108.5 146h0M106.5 144.2h0M107.5 141.3h0M106.8 141h0M105.9 141.5h0M104.3 140.6h0M103.7 137.8h0M104.1 134.7h0M103.1 134.7h0M102.1 134.4h0M101 132.4h0M101 132.1h0M99.1 130.3h0M100.1 130h0M98.2 126.6h0M99.1 126.5h0M96.9 126.1h0M97.5 123.2h0M95.6 125h0M95.7 122.1h0M95.7 121.2h0M96.8 119h0M95.8 117.7h0M94 118.7h0M92.9 116h0M94.3 114.6h0M94 113.1h0M92.3 111.2h0M90.8 110.7h0M91.9 107.9h0M89.4 108.6h0" fill="none" stroke="#DE2D26" stroke-width="4.2" stroke-linecap="round"/></g><path d="M166.9 40.9h0M170.5 44.8h0M176.9 47.3h0M25.6 188h0M168.4 183.3h0M176.5 187.2h0M181.2 190.4h0M170.5 199.3h0M160.9 192.9h0M156.7 194h0M140.7 190.8h0M146 192.9h0M152.4 192.9h0" fill="none" stroke="#DE2D26" stroke-width="4.7" stroke-linecap="round"/></g>
<text transform="translate(1581.4,1173.5) scale(1.04,1)" font-size="23.5" stroke="#000" stroke-width="0.33">Enterocyte progenitor</text>
<g transform="translate(814,1512)"><use href="#ug"/><g clip-path="url(#uc)"><path d="M89.4 70.6L100.6 76.2L111.7 79.9L122.9 83.6L132.2 92.9L139.6 100.3L148.9 102.2L147 111.4L137.7 118.9L130.3 130L119.2 128.2L108 120.7L96.9 118.9L89.4 111.4L83.9 100.3L82 89.2L85.7 78Z" fill="#DE2D26"/><path d="M89.4 70.6L100.6 76.2L111.7 79.9L122.9 83.6L132.2 92.9L139.6 100.3L148.9 102.2L147 111.4L137.7 118.9L130.3 130L119.2 128.2L108 120.7L96.9 118.9L89.4 111.4L83.9 100.3L82 89.2L85.7 78Z" fill="none" stroke="#DE2D26" stroke-width="3" stroke-linecap="round" stroke-dasharray="0.01 2.4"/><path d="M90.5 71.9h0M92.1 70.3h0M94.3 72.8h0M92.7 73.5h0M97.1 73.3h0M97 73.9h0M97.7 73.2h0M100.3 75.1h0M100.6 76.8h0M102.2 76.7h0M102.6 76.6h0M103.2 75.7h0M103.5 76.3h0M104.6 76.5h0M107.5 76.8h0M108.4 77.4h0M111.3 78.3h0M111.6 80.2h0M111.5 80.1h0M113.2 80.1h0M116 81.3h0M116.9 80.5h0M118.8 82.6h0M118.5 80.6h0M118 82h0M120.8 83.3h0M121 82h0M122.6 84.6h0M125.1 86.4h0M126.3 85.4h0M124.6 86.6h0M125.9 88.8h0M126 90h0M130 91.6h0M131.5 90.1h0M130.8 92.3h0M130.8 92.2h0M131.6 92.5h0M133.7 94.9h0M133.8 94.3h0M134.9 96.5h0M135.7 95.9h0M138.4 96.2h0M136.9 100h0M140.3 98.9h0M138.9 99.9h0M140.8 99.3h0M142.6 99.9h0M144.2 101.4h0M146.5 100h0M147.4 101.7h0M150.1 100.9h0M147.9 101.9h0M149 105.9h0M148.6 103.9h0M148.5 108.2h0M148.6 107.8h0M146.8 110h0M147.4 111.4h0M144.7 111.1h0M144.1 111.7h0M144.8 114.7h0M142.4 113.5h0M143.5 116.9h0M141.9 115.2h0M141.2 118.1h0M140.1 116.3h0M139 118.6h0M136.2 117.6h0M136.3 121h0M136.8 121.7h0M133.6 122.1h0M133.1 123h0M132.6 126.4h0M132.4 126.1h0M131.7 126.6h0M130.7 129h0M131.2 128.4h0M129.8 131.1h0M128.7 128.6h0M127.4 128.1h0M126.7 130.2h0M123.8 128.5h0M121.1 129.4h0M119.3 128.2h0M118.1 129.7h0M120 126.4h0M118.1 127.5h0M116.2 127.6h0M113.8 125.2h0M112.4 123.6h0M113 124.6h0M111.2 123.4h0M112.4 124.4h0M109.7 123.2h0M109.8 120.7h0M108.3 120.1h0M106.8 120.1h0M105.1 121h0M103.4 121.4h0M102.7 121.3h0M100 119.6h0M96.8 118.3h0M96.8 119.8h0M97.6 117h0M95.5 119.4h0M93.3 115.2h0M94.6 114.1h0M91.1 112.9h0M93.3 113.7h0M90.7 111.7h0M90.1 110.5h0M89.2 112.2h0M90 108.3h0M87 108h0M86.2 107.4h0M85.3 104.7h0M84.8 104.4h0M84.8 103.6h0M84.1 101.1h0M83.6 100.6h0M84 98.8h0M82.4 95.9h0M82.2 97.9h0M82 93.2h0M83.5 94.2h0M83.8 94.4h0M83.9 91.9h0M83.3 92h0M80.9 89.9h0M83.4 87h0M82 86.1h0M82.8 84.2h0M85.4 83.5h0M84.3 83.8h0M85 82h0M86.8 77.8h0M86.2 80.3h0M85.8 77.8h0M86.8 75.7h0M87.1 75.1h0M87.8 74.4h0M90.3 71.4h0M90.3 70.2h0" fill="none" stroke="#DE2D26" stroke-width="4.2" stroke-linecap="round"/></g><path d="M111.7 63.2h0M113.6 68.7h0M115.5 74.3h0M117.3 78.8h0M122.9 74.3h0M126.6 78.8h0M129.6 83.6h0M132.2 88.4h0M109.9 55.7h0M110.6 50.2h0M111.7 44.6h0M114.7 39h0M118.4 34.2h0M122.9 27.9h0M125.9 25.3h0M147 47.6h0M156.3 52h0M160 48.3h0M163.7 45.3h0M169.3 39h0M173 36.4h0M178.6 35.3h0M183.1 36.4h0M186 39h0M182.3 45.3h0M177.9 47.6h0M173 48.3h0M168.2 49h0M163.7 50.2h0M100.6 120.7h0M103.6 123.3h0M143.3 104h0M145.9 107h0" fill="none" stroke="#DE2D26" stroke-width="4.7" stroke-linecap="round"/></g>
<text transform="translate(815.4,1506) scale(1.04,1)" font-size="23.5" stroke="#000" stroke-width="0.33">Enterocyte</text>
<g transform="translate(1197,1512)"><use href="#ug"/><g clip-path="url(#uc)"><path d="M64 0L213.2 0L213.2 64L152.4 100.2L150.3 106.6L145 110.9L136.4 114.5L130 111.3L123.6 104.9L116.2 98.5L108.7 92.1L100.2 87.8L93.8 84.6L83.1 86.8L64 89.5Z" fill="#DE2D26"/><path d="M64 0L213.2 0L213.2 64L152.4 100.2L150.3 106.6L145 110.9L136.4 114.5L130 111.3L123.6 104.9L116.2 98.5L108.7 92.1L100.2 87.8L93.8 84.6L83.1 86.8L64 89.5Z" fill="none" stroke="#DE2D26" stroke-width="3" stroke-linecap="round" stroke-dasharray="0.01 2.4"/><path d="M66.6 1.7h0M64.8 -0.2h0M68 -0.7h0M66.9 1.3h0M70.8 1.4h0M71.1 1.5h0M73.9 0.5h0M74.6 -0.9h0M75 1.2h0M76.8 -0.2h0M78.1 0.9h0M77.6 0.8h0M82.1 1.2h0M81 -1.3h0M83.7 0h0M85.6 1.4h0M85 -1.2h0M87.9 0.4h0M88.6 0h0M89.9 -1.5h0M89.2 1.7h0M92.9 0.7h0M93.7 0.7h0M93.6 1.6h0M94.5 0.9h0M97 -1.4h0M100.3 0.8h0M101.6 -0.4h0M101.6 1.2h0M103.4 -1.1h0M104.3 -1.5h0M104.7 -0.3h0M105.5 -0.2h0M107.2 0.5h0M108.2 -0.9h0M110.1 -0.3h0M112.4 0.5h0M112.2 -1.6h0M114.2 0.9h0M116.8 -0.8h0M117.1 0h0M118.4 -0.6h0M117.6 0.4h0M120.6 0.4h0M120.8 1.4h0M124.7 -0.3h0M125.9 0.2h0M126.4 1.4h0M129.2 -0.4h0M129.5 1.4h0M130.4 0.2h0M131.6 -1h0M133.7 1.5h0M132.5 -1.4h0M135.4 0.5h0M136.4 0.5h0M136.8 0.7h0M138.5 0.1h0M139.1 0.7h0M143 0.9h0M144 -0.5h0M142.8 -1h0M145.6 0.8h0M147.3 -1.5h0M148.6 0.4h0M149.9 -1.1h0M150.7 1.3h0M152.6 -1.5h0M153.4 1.4h0M154.9 -1.1h0M156.4 -0.9h0M156.8 -0.8h0M157.2 -1.4h0M161.3 -0.4h0M163.2 -1.4h0M161.6 -0.2h0M163.9 -1.7h0M163.7 -0.5h0M165.9 1.2h0M169.1 0.8h0M169.4 -0.9h0M170.1 1.2h0M171.2 0.1h0M173.2 1.7h0M174.9 1.4h0M176.6 0.9h0M176.8 0.1h0M178.4 -0.1h0M179.6 -0.6h0M181.3 -1.1h0M182 0.5h0M183.6 0.1h0M185.5 1.1h0M187.2 -0.7h0M188.1 1.4h0M189.3 0.2h0M191.4 -1.3h0M190.1 1.4h0M191.4 0.8h0M195 1.4h0M196.1 -0.4h0M196.3 1.2h0M196.5 -1.5h0M198.8 -1h0M199.3 -0.7h0M201.8 -0.4h0M204.2 -1h0M205.8 0.3h0M204.2 -1.4h0M206.7 -1.3h0M206.3 -1.7h0M209.1 0.5h0M212.6 1.3h0M212.6 -0.5h0M213.4 -0.2h0M214.3 0.5h0M212.7 3.4h0M212 3.7h0M214.8 4.5h0M212.9 8h0M214.4 8.5h0M211.7 9.9h0M213.2 10.4h0M214.4 14.3h0M212.5 12.8h0M212.9 13.2h0M212.3 17.5h0M213.3 17.1h0M213 19.3h0M213.9 21.8h0M214.5 21.9h0M213.1 22.4h0M214.6 22.9h0M212.8 25.7h0M212.6 26.3h0M214.1 29.2h0M214.2 31.2h0M213.4 29.7h0M214.8 31.1h0M212 31.5h0M212.2 36.4h0M212.8 37.4h0M212.8 38.2h0M212.1 39.6h0M212.6 40.1h0M212.9 41.2h0M214.7 40.5h0M214.5 42.1h0M212.2 45.4h0M214 45.9h0M211.7 49.7h0M214.6 49.1h0M212.8 49.1h0M211.9 50.3h0M213.9 54.3h0M212.2 53.1h0M212.3 56.4h0M214.6 55.9h0M213.6 55.9h0M213.8 59.5h0M212.2 62.4h0M214.2 62.8h0M213.7 62.6h0M213.3 64.1h0M209.9 64.3h0M210.5 64.7h0M211 67.4h0M208.7 68.1h0M208.4 69h0M207.2 67.4h0M206.2 67.7h0M203.5 70.5h0M202.3 71.2h0M202.5 70.8h0M199.3 73h0M198 72.8h0M197.3 73h0M198.3 75.1h0M194.1 75.1h0M196.1 76.7h0M193.4 74.3h0M192.8 77.4h0M190.6 76.2h0M190.1 79.2h0M187.5 78.4h0M188 78.4h0M187.2 78.6h0M187.1 81.8h0M183.5 80.8h0M183 82.7h0M181.3 82.9h0M182.7 82h0M180.9 85.5h0M178.7 86.3h0M177.4 85.6h0M176 85.9h0M176.2 85.4h0M174.7 87h0M175 86.2h0M172.6 89.3h0M169.9 89.5h0M171.6 90.4h0M168.9 89.7h0M168.8 92.3h0M166.6 92.9h0M165.3 94.1h0M164.2 92h0M162.8 94.8h0M161.4 95.5h0M160.3 96.3h0M160.5 96.2h0M159.3 96.8h0M156.5 95.7h0M155.5 96.6h0M154.6 98.4h0M152.7 97.8h0M151.4 98.4h0M153.6 102.6h0M151.6 101.6h0M151.1 102.7h0M151.2 104.3h0M149.5 105.4h0M149.2 107.7h0M148.7 108.9h0M147 107.3h0M148 109.5h0M147.1 109.9h0M145.1 112.3h0M144.2 113h0M142.9 112.3h0M140.8 114.2h0M140.7 113.6h0M137.3 114.5h0M136.7 114.9h0M136.8 113.5h0M135.6 115.3h0M132.9 111.5h0M131.2 113.1h0M131.1 112.2h0M128.8 112.4h0M127.8 110.1h0M128.9 110.3h0M125.3 107.4h0M124.1 107.3h0M124.3 104.1h0M123 103.8h0M122 102.2h0M120.4 101.4h0M119.6 100.4h0M117.6 101.6h0M116.8 101.1h0M115.8 97.5h0M116.4 97h0M114.8 96.8h0M114.5 97.3h0M110.6 95.9h0M112 95.2h0M111.1 94.6h0M110.3 93.8h0M109.2 91.7h0M105.4 91.3h0M104 89.3h0M104.5 89.3h0M104.8 88.4h0M101.1 87.1h0M99.7 88h0M100 89h0M96.7 85.8h0M95.8 85h0M95.7 86.9h0M94.5 84.1h0M92.9 86h0M93.6 83.6h0M90.2 86.5h0M90 84.4h0M89.6 87.2h0M87 86.7h0M85.5 87.9h0M85.4 86.5h0M82.4 87.4h0M79.8 87.1h0M78.1 88.4h0M77.7 87.6h0M76.4 87.3h0M77.3 87.2h0M75.6 86.5h0M71.6 87h0M72.3 88h0M68.8 88.3h0M69.2 87.7h0M68.8 89.6h0M66.6 90.8h0M65.4 88.1h0M63.1 89.1h0M64.1 86.1h0M62.3 87.9h0M64.3 85.6h0M63.7 84.1h0M62.6 80.7h0M64.1 79.9h0M65.6 80.2h0M64.9 79.6h0M62.7 78.2h0M62.9 74.2h0M64.2 73.6h0M63.2 73.1h0M63.1 71.6h0M65.6 71.3h0M62.9 69.3h0M63.7 67.6h0M65.4 65.2h0M62.7 65.8h0M62.6 63.9h0M64.3 61.7h0M64.3 60.5h0M64.6 59.6h0M64.1 57.5h0M65.6 59.4h0M63.6 56.7h0M64.4 55.5h0M64.8 51.4h0M63 51.3h0M63.8 52.8h0M65.1 47.4h0M62.7 48.3h0M63 46.9h0M63 44.6h0M64.2 42.3h0M65.2 42.4h0M64.8 42.8h0M64 39.1h0M62.6 38.8h0M63 37.9h0M65 34.2h0M63 35.5h0M62.7 33.6h0M63.4 34.2h0M65.6 31.5h0M63.7 27.7h0M65.3 30h0M63.5 27.8h0M63.2 26.6h0M65.6 23.9h0M62.7 22.9h0M63.3 20.8h0M62.4 20.4h0M64.7 19h0M64.3 16.3h0M62.3 16.6h0M65.3 14.8h0M63.4 14h0M64.7 14.1h0M62.9 12.3h0M64.2 10.8h0M64.5 8.3h0M65.5 7.6h0M63.3 6.8h0M65.1 3.9h0M64.9 3.1h0M64.8 2.8h0M63.3 0h0" fill="none" stroke="#DE2D26" stroke-width="4.2" stroke-linecap="round"/></g><path d="M209.3 105.9h0M324.5 163.9h0" fill="none" stroke="#DE2D26" stroke-width="4.7" stroke-linecap="round"/></g>
<text transform="translate(1198.4,1506) scale(1.04,1)" font-size="23.5" stroke="#000" stroke-width="0.33">Mature enterocyte</text>
<g transform="translate(1580,1512)"><use href="#ug"/><g clip-path="url(#uc)"><path d="M217.4 159.9L221.7 164.1L223.4 170.5L220.6 174.8L215.3 178L211.5 176.9L213.2 170.5L214.9 164.1Z" fill="#DE2D26"/><path d="M217.4 159.9L221.7 164.1L223.4 170.5L220.6 174.8L215.3 178L211.5 176.9L213.2 170.5L214.9 164.1Z" fill="none" stroke="#DE2D26" stroke-width="3" stroke-linecap="round" stroke-dasharray="0.01 2.4"/><path d="" fill="none" stroke="#DE2D26" stroke-width="4.2" stroke-linecap="round"/></g><path d="M176.5 46.9h0M154.6 259.6h0M116.2 254.7h0M119.4 255.8h0M122.6 254.7h0M125.8 252.6h0M129 255.8h0M132.2 256.9h0M135.4 254.7h0M121.5 243h0M124.7 242.6h0M127.9 242h0M131.1 243h0M123.6 246.2h0M126.8 247.3h0M130 246.9h0M133.2 245.2h0M125.8 249.8h0M129 250.5h0M132.2 249.8h0M139.6 243h0M143.9 242.6h0M127.9 253.7h0M122.6 251.5h0M119.4 253.7h0M136.4 256.9h0" fill="none" stroke="#DE2D26" stroke-width="4.7" stroke-linecap="round"/></g>
<text transform="translate(1581.4,1506) scale(1.04,1)" font-size="23.5" stroke="#000" stroke-width="0.33">Paneth</text>
<g transform="translate(814,1843.8)"><use href="#ug"/><g clip-path="url(#uc)"><path d="M236.2 92.9L242.5 97.4L241.8 102.9L236.2 108.5L226.9 114.1L217.6 119.6L212.8 127.1L212 136.4L213.9 145.7L219.5 154.9L221.3 162.4L215.7 166.1L212 158.7L206.5 154.9L199 158.7L191.6 163.5L184.2 167.2L178.6 165L184.2 158.7L190.5 151.2L194.2 141.9L197.2 130.8L200.9 119.6L202.7 108.5L208.3 102.9L219.5 99.2L228.7 95.5Z" fill="#DE2D26"/><path d="M236.2 92.9L242.5 97.4L241.8 102.9L236.2 108.5L226.9 114.1L217.6 119.6L212.8 127.1L212 136.4L213.9 145.7L219.5 154.9L221.3 162.4L215.7 166.1L212 158.7L206.5 154.9L199 158.7L191.6 163.5L184.2 167.2L178.6 165L184.2 158.7L190.5 151.2L194.2 141.9L197.2 130.8L200.9 119.6L202.7 108.5L208.3 102.9L219.5 99.2L228.7 95.5Z" fill="none" stroke="#DE2D26" stroke-width="3" stroke-linecap="round" stroke-dasharray="0.01 2.4"/><path d="" fill="none" stroke="#DE2D26" stroke-width="4.2" stroke-linecap="round"/></g><path d="M322.7 163.1h0M210.2 141.9h0M181.6 164.2h0" fill="none" stroke="#DE2D26" stroke-width="4.7" stroke-linecap="round"/></g>
<text transform="translate(815.4,1837.8) scale(1.04,1)" font-size="23.5" stroke="#000" stroke-width="0.33">Goblet</text>
<g transform="translate(1197,1843.8)"><use href="#ug"/><g clip-path="url(#uc)"><path d="M323.9 156.8L328.2 155.9L332 157.2L334.1 160.2L334.8 164.4L334.6 168.7L332.9 172.1L332 176.4L331.8 180.6L331.2 184.9L331.2 189.2L330.7 193.4L329 196.8L326 199.4L323.9 201.9L320.9 204.5L317.5 206.2L314.1 207.9L309.8 209.2L305.6 210L301.3 210.9L297.1 211.3L294.5 210L293.2 206.2L292.8 202.8L294.5 201.1L297.1 201.9L298.8 201.1L300 199L302.2 196.8L303 193.4L303.4 189.2L304.3 184.9L306.4 182.3L308.1 179.8L311.5 177.6L315 176.4L316.7 174.2L317.5 170L317.9 165.7L319.2 162.7L321.4 159.3Z" fill="#DE2D26"/><path d="M323.9 156.8L328.2 155.9L332 157.2L334.1 160.2L334.8 164.4L334.6 168.7L332.9 172.1L332 176.4L331.8 180.6L331.2 184.9L331.2 189.2L330.7 193.4L329 196.8L326 199.4L323.9 201.9L320.9 204.5L317.5 206.2L314.1 207.9L309.8 209.2L305.6 210L301.3 210.9L297.1 211.3L294.5 210L293.2 206.2L292.8 202.8L294.5 201.1L297.1 201.9L298.8 201.1L300 199L302.2 196.8L303 193.4L303.4 189.2L304.3 184.9L306.4 182.3L308.1 179.8L311.5 177.6L315 176.4L316.7 174.2L317.5 170L317.9 165.7L319.2 162.7L321.4 159.3Z" fill="none" stroke="#DE2D26" stroke-width="3" stroke-linecap="round" stroke-dasharray="0.01 2.4"/><path d="" fill="none" stroke="#DE2D26" stroke-width="4.2" stroke-linecap="round"/></g><path d="M203.8 211.4h0" fill="none" stroke="#DE2D26" stroke-width="4.7" stroke-linecap="round"/></g>
<text transform="translate(1198.4,1837.8) scale(1.04,1)" font-size="23.5" stroke="#000" stroke-width="0.33">Tuft</text>
<g transform="translate(1580,1843.8)"><use href="#ug"/><g clip-path="url(#uc)"><path d="M44.5 153.6L48.1 152.5L51 154L51.9 156.9L51.4 159.8L49.9 162L48.8 164.9L48.1 168.6L47 172.2L46.7 175.2L48.1 177.7L50.3 180.6L52.1 183.2L51.8 185.4L48.8 186.1L45.2 185.7L41.5 185L37.9 184.7L37.2 186.8L36.4 189.8L34.2 192L31.3 193.1L29.1 191.6L26.9 190.5L24.7 190.5L23.3 188.3L21.1 186.8L17.8 187.2L15.2 186.5L13.8 184.7L14.9 182.8L17.4 182.1L20.3 181.7L21.1 180.3L23.3 179.2L25.5 179.5L27.7 181.4L30.6 181L33.5 180.3L35.7 179.9L37.9 179.5L39.3 178.1L37.9 175.9L38.6 172.2L39.7 168.6L41.2 164.9L42.3 161.3L43 157.6Z" fill="#DE2D26"/><path d="M44.5 153.6L48.1 152.5L51 154L51.9 156.9L51.4 159.8L49.9 162L48.8 164.9L48.1 168.6L47 172.2L46.7 175.2L48.1 177.7L50.3 180.6L52.1 183.2L51.8 185.4L48.8 186.1L45.2 185.7L41.5 185L37.9 184.7L37.2 186.8L36.4 189.8L34.2 192L31.3 193.1L29.1 191.6L26.9 190.5L24.7 190.5L23.3 188.3L21.1 186.8L17.8 187.2L15.2 186.5L13.8 184.7L14.9 182.8L17.4 182.1L20.3 181.7L21.1 180.3L23.3 179.2L25.5 179.5L27.7 181.4L30.6 181L33.5 180.3L35.7 179.9L37.9 179.5L39.3 178.1L37.9 175.9L38.6 172.2L39.7 168.6L41.2 164.9L42.3 161.3L43 157.6Z" fill="none" stroke="#DE2D26" stroke-width="3" stroke-linecap="round" stroke-dasharray="0.01 2.4"/><path d="" fill="none" stroke="#DE2D26" stroke-width="4.2" stroke-linecap="round"/></g><path d="M173.6 166.9h0M176.2 170.6h0M179.9 167.6h0M182.5 163.9h0M185.4 160.9h0M188.4 158.4h0M191 155.8h0M196.6 156.5h0M172.4 178h0M175 180.6h0M179.9 178.8h0M184.7 180.6h0M187.3 186.2h0M178 173.2h0M181.7 169.5h0M104.9 270.7h0M106.8 272.6h0M117.6 273.7h0M118.7 276.7h0M143.9 277h0M203.2 222.1h0" fill="none" stroke="#DE2D26" stroke-width="4.7" stroke-linecap="round"/></g>
<text transform="translate(1581.4,1837.8) scale(1.04,1)" font-size="23.5" stroke="#000" stroke-width="0.33">Endocrine</text>
<g transform="matrix(0.18619,0,0,0.16601,80.4,1124.5)" fill="none" stroke-linecap="round" stroke-linejoin="round">
<path d="M983 626L1003 643L980 678L983 722L1015 734L1047 690L1070 609L1082 516L1099 435L1140 354L1198 279L1255 232L1325 186L1417 157L1510 134L1591 123L1672 117L1707 146L1724 192L1741 232L1788 244L1846 261L1892 302L1927 342L1932 377L1915 423L1880 470L1834 493L1788 504L1730 510L1684 493L1637 516L1603 551L1568 597L1533 643L1510 690L1487 736L1469 782L1475 828L1498 886L1510 944L1516 990L1504 1037L1487 1083L1452 1129L1417 1176L1371 1222L1342 1257L1331 1303L1342 1349L1360 1395L1383 1442L1417 1488L1452 1523L1487 1546L1469 1546L1429 1590L1392 1630L1362 1677L1348 1730L1343 1781L1339 1827L1331 1873L1325 1920L1323 1966L1348 2006L1417 2024L1487 2015L1545 1995L1614 1966L1660 1954L1707 1937L1753 1920L1799 1897L1846 1879L1880 1885L1915 1914L1961 1937L2008 1966L2054 2001L2100 2024L2146 2047L2181 2082L2204 2116L2216 2163L2216 2209L2198 2261L2170 2313L2135 2365L2089 2417L2042 2464L1984 2510L1927 2550L1869 2585L1811 2620L1765 2649L1718 2683L1672 2730L1614 2776L1556 2822L1487 2863L1406 2897L1325 2932L1244 2961L1163 2978L1082 2984L1001 2984L960 2973L972 2926L960 2857L937 2788L920 2718L914 2649L926 2579L943 2510L966 2440L989 2371L1012 2313L1036 2267L989 2232L995 2174L1012 2116L1036 2070L1070 2024L1105 1978L1145 1943L1157 1897L1169 1827L1180 1758L1186 1688L1180 1619L1163 1549L1128 1480L1105 1465L1059 1395L1012 1326L966 1257L920 1187L874 1118L845 1048L821 979L816 898L839 817L874 747L931 661ZM2366 944L2413 956L2436 990L2436 1025L2401 1060L2355 1106L2308 1141L2262 1176L2216 1210L2170 1257L2135 1303L2112 1361L2106 1419L2117 1465L2146 1511L2181 1546L2204 1592L2227 1630L2239 1677L2233 1723L2193 1740L2146 1769L2112 1787L2106 1758L2129 1711L2146 1665L2135 1619L2100 1590L2054 1573L2008 1590L1961 1630L1903 1677L1857 1711L1811 1732L1765 1717L1730 1688L1724 1665L1753 1636L1799 1601L1846 1546L1892 1500L1927 1453L1955 1407L1973 1349L1996 1280L2019 1210L2031 1152L2042 1095L2077 1054L2135 1037L2204 1025L2262 1002L2320 967ZM445 1536L481 1525L510 1540L519 1569L514 1598L499 1620L488 1649L481 1686L470 1722L467 1752L481 1777L503 1806L521 1832L518 1854L488 1861L452 1857L415 1850L379 1847L372 1868L364 1898L342 1920L313 1931L291 1916L269 1905L247 1905L233 1883L211 1868L178 1872L152 1865L138 1847L149 1828L174 1821L203 1817L211 1803L233 1792L255 1795L277 1814L306 1810L335 1803L357 1799L379 1795L393 1781L379 1759L386 1722L397 1686L412 1649L423 1613L430 1576ZM3239 1568L3282 1559L3320 1572L3341 1602L3348 1644L3346 1687L3329 1721L3320 1764L3318 1806L3312 1849L3312 1892L3307 1934L3290 1968L3260 1994L3239 2019L3209 2045L3175 2062L3141 2079L3098 2092L3056 2100L3013 2109L2971 2113L2945 2100L2932 2062L2928 2028L2945 2011L2971 2019L2988 2011L3000 1990L3022 1968L3030 1934L3034 1892L3043 1849L3064 1823L3081 1798L3115 1776L3150 1764L3167 1742L3175 1700L3179 1657L3192 1627L3214 1593ZM1186 412L1221 389L1255 377L1273 389L1267 412L1232 447L1186 493L1151 510L1145 481L1163 441ZM1718 2070L1765 2064L1799 2093L1828 2128L1840 2163L1811 2197L1776 2244L1730 2273L1684 2290L1637 2284L1603 2267L1614 2232L1649 2203L1695 2174L1707 2128Z" fill="#F8766D" fill-rule="evenodd"/>
<path d="M983 626L1003 643L980 678L983 722L1015 734L1047 690L1070 609L1082 516L1099 435L1140 354L1198 279L1255 232L1325 186L1417 157L1510 134L1591 123L1672 117L1707 146L1724 192L1741 232L1788 244L1846 261L1892 302L1927 342L1932 377L1915 423L1880 470L1834 493L1788 504L1730 510L1684 493L1637 516L1603 551L1568 597L1533 643L1510 690L1487 736L1469 782L1475 828L1498 886L1510 944L1516 990L1504 1037L1487 1083L1452 1129L1417 1176L1371 1222L1342 1257L1331 1303L1342 1349L1360 1395L1383 1442L1417 1488L1452 1523L1487 1546L1469 1546L1429 1590L1392 1630L1362 1677L1348 1730L1343 1781L1339 1827L1331 1873L1325 1920L1323 1966L1348 2006L1417 2024L1487 2015L1545 1995L1614 1966L1660 1954L1707 1937L1753 1920L1799 1897L1846 1879L1880 1885L1915 1914L1961 1937L2008 1966L2054 2001L2100 2024L2146 2047L2181 2082L2204 2116L2216 2163L2216 2209L2198 2261L2170 2313L2135 2365L2089 2417L2042 2464L1984 2510L1927 2550L1869 2585L1811 2620L1765 2649L1718 2683L1672 2730L1614 2776L1556 2822L1487 2863L1406 2897L1325 2932L1244 2961L1163 2978L1082 2984L1001 2984L960 2973L972 2926L960 2857L937 2788L920 2718L914 2649L926 2579L943 2510L966 2440L989 2371L1012 2313L1036 2267L989 2232L995 2174L1012 2116L1036 2070L1070 2024L1105 1978L1145 1943L1157 1897L1169 1827L1180 1758L1186 1688L1180 1619L1163 1549L1128 1480L1105 1465L1059 1395L1012 1326L966 1257L920 1187L874 1118L845 1048L821 979L816 898L839 817L874 747L931 661ZM2366 944L2413 956L2436 990L2436 1025L2401 1060L2355 1106L2308 1141L2262 1176L2216 1210L2170 1257L2135 1303L2112 1361L2106 1419L2117 1465L2146 1511L2181 1546L2204 1592L2227 1630L2239 1677L2233 1723L2193 1740L2146 1769L2112 1787L2106 1758L2129 1711L2146 1665L2135 1619L2100 1590L2054 1573L2008 1590L1961 1630L1903 1677L1857 1711L1811 1732L1765 1717L1730 1688L1724 1665L1753 1636L1799 1601L1846 1546L1892 1500L1927 1453L1955 1407L1973 1349L1996 1280L2019 1210L2031 1152L2042 1095L2077 1054L2135 1037L2204 1025L2262 1002L2320 967ZM445 1536L481 1525L510 1540L519 1569L514 1598L499 1620L488 1649L481 1686L470 1722L467 1752L481 1777L503 1806L521 1832L518 1854L488 1861L452 1857L415 1850L379 1847L372 1868L364 1898L342 1920L313 1931L291 1916L269 1905L247 1905L233 1883L211 1868L178 1872L152 1865L138 1847L149 1828L174 1821L203 1817L211 1803L233 1792L255 1795L277 1814L306 1810L335 1803L357 1799L379 1795L393 1781L379 1759L386 1722L397 1686L412 1649L423 1613L430 1576ZM3239 1568L3282 1559L3320 1572L3341 1602L3348 1644L3346 1687L3329 1721L3320 1764L3318 1806L3312 1849L3312 1892L3307 1934L3290 1968L3260 1994L3239 2019L3209 2045L3175 2062L3141 2079L3098 2092L3056 2100L3013 2109L2971 2113L2945 2100L2932 2062L2928 2028L2945 2011L2971 2019L2988 2011L3000 1990L3022 1968L3030 1934L3034 1892L3043 1849L3064 1823L3081 1798L3115 1776L3150 1764L3167 1742L3175 1700L3179 1657L3192 1627L3214 1593ZM1186 412L1221 389L1255 377L1273 389L1267 412L1232 447L1186 493L1151 510L1145 481L1163 441ZM1718 2070L1765 2064L1799 2093L1828 2128L1840 2163L1811 2197L1776 2244L1730 2273L1684 2290L1637 2284L1603 2267L1614 2232L1649 2203L1695 2174L1707 2128Z" stroke="#fff" stroke-width="30"/>
<path d="M1687 150h0m-2-2h0m-11-5h0m-23-17h0m-27 24h0m-10-19h0m-2 3h0m0 1h0m-1 0h0m-57 7h0m-33 6h0m-24 2h0m-15 5h0m-15 2h0m-115 40h0m8-8h0m9-8h0m3-1h0m0 17h0m30-13h0m13 0h0m30 9h0m12-8h0m17 6h0m15-22h0m8 5h0m7-6h0m7 17h0m130 7h0m4-4h0m3 0h0m16 8h0m12-3h0m20 5h0m1-1h0m6-31h0m4 26h0m9 4h0m9 41h0m-8-24h0m-26 9h0m-7 11h0m-26-27h0m-13 1h0m-32 2h0m-65 20h0m-7 0h0m-7 5h0m0-7h0m-3-13h0m-5 1h0m-6-5h0m-12-8h0m-2 12h0m-3 10h0m-1 7h0m-24-19h0m-10 9h0m-2-5h0m-1 13h0m-8-13h0m-9-13h0m-57 4h0m-24 22h0m-5 6h0m-1-32h0m-7 7h0m-11 23h0m-17-26h0m-17 28h0m-15-15h0m-61 44h0m12 8h0m26-9h0m98-4h0m11 1h0m7 6h0m28 0h0m78-25h0m6 36h0m0-17h0m1-5h0m7 4h0m17 17h0m3-34h0m112 6h0m44-4h0m16 12h0m99 3h0m20 17h0m12-8h0m45 37h0m-16-11h0m-9-6h0m-251 26h0m-5-2h0m-132-14h0m-50-11h0m-33 22h0m-33 4h0m-79-22h0m-15-3h0m-23-5h0m-21 2h0m-9 13h0m-33 49h0m32-21h0m5 21h0m3-19h0m15 20h0m22-27h0m1 30h0m29-6h0m15 13h0m30-38h0m44 3h0m27 27h0m2-4h0m6 10h0m13-33h0m53 34h0m27-14h0m3 13h0m2-7h0m42 9h0m28-12h0m4-4h0m7 7h0m17-21h0m170 22h0m67 3h0m23-24h0m29 28h0m4-10h0m29 11h0m2 30h0m-21-27h0m-13 25h0m-21-24h0m-12 33h0m-137 1h0m0-6h0m-20 5h0m-20 4h0m-14-12h0m-35-19h0m-48 11h0m-4 5h0m-28 9h0m-5 5h0m-1-16h0m-1-18h0m-6 1h0m-44 19h0m-92-16h0m-2 18h0m-16 9h0m-4-30h0m-1 17h0m-12 10h0m-2-22h0m-10 28h0m-12 0h0m-12-1h0m-1-9h0m-11-11h0m-7 19h0m0-30h0m-3 2h0m-13 12h0m-65-10h0m-30-7h0m-15 30h0m-15-23h0m-8-10h0m-12 12h0m-14 26h0m-12 32h0m9-8h0m1 10h0m0-30h0m6 35h0m9-9h0m4-21h0m14 5h0m13-10h0m101 30h0m1-2h0m1-2h0m5 2h0m68-17h0m12-6h0m5 8h0m3-10h0m7 12h0m21 4h0m2-9h0m18-9h0m11 25h0m18-3h0m63 11h0m12-36h0m1 14h0m2 0h0m7 23h0m2-36h0m5 9h0m2 8h0m11 2h0m9 13h0m2-30h0m60 25h0m34-17h0m9 13h0m12-10h0m4-10h0m17 35h0m18-17h0m2-17h0m3 9h0m36-11h0m100 23h0m2-16h0m7 28h0m4-7h0m23-10h0m-26 33h0m-3 3h0m-4-17h0m-16 13h0m-6 14h0m-9 1h0m-5-27h0m-41 21h0m-3-18h0m-19 31h0m-5-21h0m-3 20h0m-21-20h0m-22 3h0m-18-2h0m-14 22h0m-15-13h0m-21-10h0m0 12h0m-3-6h0m-2 13h0m-16-5h0m-51-7h0m-16 4h0m-28-23h0m-16 4h0m-2 18h0m-78 7h0m-32-18h0m-158 8h0m-10 5h0m-87-22h0m0 15h0m-13-13h0m-22 28h0m0-8h0m-10 5h0m-3 32h0m41 14h0m50-4h0m66-23h0m54 20h0m117-9h0m11-10h0m0 16h0m12-9h0m18 2h0m3 4h0m70-14h0m8 17h0m0-13h0m20 0h0m14 3h0m26 20h0m7-27h0m38-5h0m1 3h0m5 1h0m4-6h0m2 7h0m3 2h0m20-12h0m26 6h0m30 16h0m33-18h0m38-2h0m-200 42h0m-5 2h0m-6 5h0m-12-6h0m-52 27h0m-24 3h0m-98-30h0m-50 27h0m-43-14h0m-4-17h0m-161 0h0m-74 62h0m6-10h0m16 13h0m12-6h0m6 15h0m32-17h0m114 17h0m72-23h0m22 4h0m6 17h0m7-21h0m19 10h0m8 1h0m10-6h0m5-3h0m5-6h0m71 3h0m6 16h0m10-4h0m4-16h0m55 3h0m-47 59h0m-54 3h0m-7-22h0m-10-2h0m-21 24h0m-5-13h0m-6 9h0m-5 6h0m-8-20h0m-7 3h0m-146 8h0m-23 1h0m-14-8h0m-8 18h0m-76-1h0m-53-16h0m-106 52h0m2-23h0m90 26h0m56-14h0m6-17h0m34 29h0m9-8h0m9 8h0m1-29h0m36 10h0m5 1h0m1 10h0m4 0h0m164-22h0m2 7h0m1 19h0m19 0h0m12-9h0m0 17h0m1 0h0m6-1h0m20-19h0m8 1h0m37-8h0m0-7h0m-2 52h0m-7 7h0m-66 7h0m-5 8h0m-20-6h0m-3-10h0m-12-6h0m-17 6h0m-5-12h0m-7 17h0m-7-12h0m-11 10h0m-17 13h0m-2-5h0m-26 2h0m0 5h0m-41-27h0m-20 3h0m-24-2h0m-24-5h0m-26 22h0m0 2h0m-46 0h0m-6 2h0m0-31h0m-41-2h0m-5 12h0m-88 3h0m-2-13h0m-4 24h0m-2-18h0m-15 24h0m-43 17h0m3-4h0m16 25h0m7 2h0m1-12h0m3 1h0m6-21h0m5 3h0m10 25h0m4 9h0m2-24h0m14-3h0m3-3h0m10 28h0m39-10h0m7 4h0m18-3h0m2 13h0m2-24h0m31-3h0m34 18h0m31 1h0m14 1h0m11-15h0m23 13h0m1-19h0m62 22h0m23-1h0m15-26h0m2 23h0m45 7h0m8 3h0m12-20h0m2 6h0m0-10h0m1 22h0m42-30h0m39 26h0m10-11h0m3 2h0m-9 37h0m-26-14h0m-3 3h0m-3-6h0m-3 25h0m-19-26h0m-6 31h0m-10-3h0m-17-17h0m-41 2h0m-17-1h0m-10-3h0m0-1h0m-5-7h0m-5 15h0m-5 16h0m-18-3h0m-5-20h0m-5 23h0m-12-7h0m-2 8h0m-25-9h0m-1-8h0m-1-2h0m-9 22h0m-10-30h0m-12 24h0m-29-16h0m-16 20h0m-4-11h0m-17 7h0m-32-9h0m-12-16h0m-11 22h0m-11-11h0m-13 15h0m-9-18h0m-50 18h0m-2 4h0m-8-7h0m-15 2h0m-5-22h0m-3 2h0m-3-8h0m-2 25h0m-10-29h0m-1 19h0m-3-1h0m-17-13h0m-43 18h0m-19 41h0m5-13h0m2-2h0m25 28h0m16-24h0m12-10h0m5 24h0m31-28h0m33 39h0m79-18h0m25-18h0m51 27h0m18 0h0m3-24h0m4 23h0m15-23h0m41 12h0m4 2h0m3-5h0m14-13h0m9 1h0m7 36h0m7-32h0m1 1h0m3 29h0m0-23h0m10 24h0m4-5h0m8-21h0m16-12h0m2 38h0m15-4h0m1-5h0m5-16h0m69-11h0m5 3h0m14-1h0m-19 63h0m-21-7h0m-15 17h0m-19 1h0m-55-23h0m-35-4h0m-5 0h0m-2 0h0m-21 16h0m-2 7h0m-24-11h0m-13 1h0m-11-13h0m-22-11h0m-38 37h0m-81-22h0m-80 0h0m-22 7h0m-15 5h0m-7 11h0m-9-36h0m-3 4h0m-5 31h0m-7-8h0m-55 43h0m104 5h0m112-12h0m38-8h0m59 19h0m7 3h0m3-39h0m16 15h0m13 24h0m22-17h0m3 8h0m11-5h0m11-15h0m7-4h0m15 20h0m1 6h0m60-14h0m8-10h0m21 3h0m17-2h0m58-3h0m78 28h0m4 3h0m0 30h0m0 2h0m-98-22h0m-21 10h0m-38-8h0m-11 23h0m-2-19h0m-2 23h0m-8-36h0m-3 33h0m-16 1h0m-8-14h0m-19 6h0m0-23h0m-4 0h0m-7 10h0m-9 7h0m-9 17h0m-20-34h0m-2 32h0m-4-34h0m-8 16h0m-22-2h0m-3-9h0m-31-6h0m-6 22h0m-8 12h0m-79 2h0m-99-9h0m-23 9h0m-4-4h0m-1-14h0m-1-17h0m-25 0h0m-6 18h0m-20 15h0m-8-3h0m-13 2h0m0-10h0m-1 16h0m-8-18h0m-12 17h0m-1-6h0m-3-3h0m0 28h0m1-8h0m20 12h0m9 17h0m3-9h0m9-29h0m0 25h0m0 9h0m20-12h0m5-4h0m34 8h0m5-13h0m5 0h0m8 3h0m1 23h0m2-35h0m11 33h0m121-26h0m2 6h0m2-2h0m12 9h0m10 1h0m8-19h0m9 8h0m1-11h0m6 26h0m15-23h0m4 11h0m56-16h0m5 38h0m22-32h0m13 20h0m20-11h0m50-12h0m29 0h0m10 32h0m1-4h0m23 5h0m8 2h0m41-4h0m66-2h0m798 3h0m14-9h0m14-11h0m9 20h0m22-6h0m19-28h0m20 12h0m5-4h0m5 26h0m9-19h0m1-2h0m0 18h0m2-1h0m-20 11h0m-3 13h0m-16-8h0m-3 4h0m-25-2h0m-1-7h0m-66 3h0m-3 10h0m-19 3h0m-10 5h0m-11-1h0m-5 11h0m-17-1h0m-17 3h0m-701-34h0m-2 11h0m-9 12h0m-46 5h0m-19-1h0m-1-12h0m-7 16h0m-5-13h0m-12 1h0m-4 9h0m-9-23h0m-15 10h0m-9-2h0m-11-1h0m-4 6h0m-1-9h0m0 19h0m-4-16h0m-70-9h0m-14 11h0m-9-10h0m-4 5h0m-14 2h0m-8-2h0m-34 9h0m-3 9h0m-26-8h0m-6-3h0m-44-18h0m-125 22h0m-3-11h0m-22-11h0m-9 0h0m-18 38h0m-15-30h0m-10 11h0m-4-16h0m-21 11h0m-1 4h0m-31-4h0m22 53h0m2 9h0m1 2h0m48-36h0m20 32h0m9-31h0m27 11h0m7 4h0m7-14h0m43 19h0m32 3h0m5-1h0m24 5h0m60-25h0m15 24h0m34 5h0m1-16h0m3 12h0m19-7h0m6 4h0m40-18h0m32 5h0m14-1h0m0 3h0m7 1h0m13-13h0m10 34h0m7-5h0m15-17h0m14-7h0m3 1h0m46-6h0m664 34h0m24-28h0m58-6h0m162 1h0m14 6h0m23 4h0m-69 28h0m-4 22h0m-22-24h0m-8 19h0m-5 1h0m-11 2h0m-119 5h0m-11 9h0m-27-23h0m-7 23h0m-4-35h0m-22 13h0m-10 9h0m-600-16h0m0 3h0m-47 1h0m-17 14h0m0-8h0m-4 12h0m-2-1h0m-8-8h0m-9-20h0m-17 34h0m-6-7h0m-17-21h0m-8 16h0m-2-22h0m-19 26h0m-27-9h0m-11-8h0m-47 24h0m-39-10h0m-5-4h0m-5-10h0m-5 10h0m-4-14h0m-67 24h0m-8-7h0m-51-17h0m-30 13h0m-12-19h0m-4 8h0m-2 13h0m-8-20h0m-39 7h0m-6 2h0m-40 34h0m8 12h0m28-1h0m8-4h0m14-7h0m17 5h0m4-9h0m7 5h0m7 7h0m31 26h0m4-14h0m3 0h0m7-11h0m12 20h0m3 0h0m6-6h0m8-26h0m9 2h0m20 6h0m118 25h0m3-28h0m1 5h0m146 23h0m17-21h0m6 17h0m8 4h0m12-13h0m3 12h0m8-1h0m2-8h0m6-24h0m631 3h0m25 10h0m3-11h0m89 2h0m8 26h0m7-5h0m6-25h0m6 22h0m7-8h0m1 2h0m5 9h0m6 3h0m58-2h0m26-22h0m2 3h0m-58 48h0m-26-7h0m-9 25h0m-5-9h0m-7 15h0m-3-9h0m-16-5h0m-2 11h0m-5-13h0m-6 10h0m-11-2h0m-5-23h0m-19 19h0m-1-1h0m-3-12h0m-12-6h0m-76 22h0m-5-6h0m-632-15h0m-7 0h0m-12 7h0m-5 13h0m-11 9h0m-24-38h0m-116 20h0m-85 19h0m-7-5h0m-68-12h0m0 3h0m-1-7h0m-24 3h0m-19-11h0m0 18h0m-6-10h0m-3 16h0m-14-5h0m-33 5h0m-22 3h0m-20-21h0m35 37h0m2 4h0m1 0h0m4 11h0m4-6h0m9 7h0m10 2h0m2 6h0m5-16h0m11-10h0m27 25h0m45-30h0m41 31h0m9-10h0m2-11h0m5 16h0m16-18h0m2-6h0m9 4h0m10 6h0m12 8h0m9-15h0m4 27h0m12-14h0m4-21h0m14 32h0m798-19h0m50 9h0m11-12h0m4 19h0m38-9h0m27-21h0m4-2h0m2 22h0m13-19h0m5 21h0m1-1h0m2-9h0m4 2h0m2 4h0m1-18h0m-46 40h0m-4 21h0m-13-4h0m-12-1h0m-3 17h0m-7-7h0m-13 9h0m-3-13h0m-28-8h0m-2-13h0m-45 22h0m-724 10h0m-15-15h0m-78 14h0m-48 0h0m-4-13h0m-8-1h0m-1 7h0m-10-3h0m-39 4h0m-18-18h0m-67 27h0m-11-34h0m-14 10h0m-7-11h0m39 60h0m6 5h0m68 1h0m19 9h0m1-32h0m10-3h0m7 18h0m10 13h0m27-33h0m0 1h0m14 4h0m16 0h0m24 0h0m73 24h0m16 4h0m5-8h0m5 1h0m8 8h0m3-33h0m745 8h0m18-1h0m14 5h0m23 1h0m11-8h0m-23 46h0m-14 13h0m-92 11h0m-10-1h0m-664-4h0m-41-6h0m-17-7h0m-20 21h0m-11-14h0m-40 6h0m-9-13h0m-8 9h0m-2 2h0m0 6h0m-9 0h0m-30-8h0m-5 6h0m-14-16h0m-4 9h0m-1-21h0m-5-1h0m-5 5h0m-8 6h0m-19 13h0m-8 9h0m-3-16h0m-15 12h0m15 21h0m19-11h0m27 10h0m21-1h0m62 1h0m25 25h0m2-18h0m12 14h0m2-15h0m34 13h0m14-32h0m21 5h0m1 12h0m10 9h0m11-9h0m9 9h0m5 4h0m654-1h0m46-6h0m0 2h0m17 3h0m12-5h0m17-2h0m7-9h0m-8 57h0m-2-22h0m-6 13h0m-8-7h0m-3 16h0m-1-27h0m-17 6h0m-15 29h0m-14 2h0m-684-39h0m-5 10h0m-3 10h0m-27-14h0m-78 19h0m-58-4h0m-9-17h0m-8 27h0m-21 2h0m-10-8h0m-2 8h0m22 32h0m2-21h0m9 8h0m76 23h0m3 4h0m33-39h0m9 13h0m25 11h0m5-15h0m13 7h0m3 17h0m9-14h0m1 18h0m7-15h0m2-10h0m19 13h0m3 5h0m26 1h0m548-8h0m20-23h0m64 30h0m22-26h0m16 21h0m33 7h0m2-13h0m31 54h0m-4-9h0m-20 2h0m-3-20h0m-5 23h0m-80-18h0m-32 3h0m-49 14h0m-19-15h0m-2 18h0m-5-9h0m-1 15h0m-489-4h0m-7-7h0m-12-21h0m-35 14h0m-17-7h0m-19-10h0m-10 1h0m-2-1h0m-7 8h0m-9 29h0m-10-14h0m-32-6h0m-6-1h0m-8 16h0m-5-10h0m-5 6h0m-18-4h0m-47 4h0m-10-7h0m-695 46h0m4-3h0m15 5h0m7 4h0m3-12h0m703 7h0m8 0h0m5-20h0m15-9h0m12 13h0m10 8h0m4 9h0m22 8h0m36-14h0m21-20h0m83-4h0m12 24h0m7-22h0m2 13h0m3-8h0m3 1h0m2-1h0m9 14h0m3-2h0m422 8h0m23-28h0m0 2h0m20 12h0m134-5h0m3 29h0m4-21h0m7-4h0m77-4h0m3-8h0m1177 69h0m-21-17h0m-8 4h0m-8-5h0m-7 17h0m-14-8h0m-10 2h0m-16 7h0m-1046-2h0m-6-20h0m-1 15h0m-1 3h0m-72-11h0m-20-1h0m-10-7h0m-5-2h0m-102 32h0m-32-3h0m-60-12h0m-32-3h0m-14-3h0m-8 22h0m-384-37h0m-3 2h0m-16 6h0m-13 16h0m-50 5h0m-23-23h0m-5 13h0m-16 19h0m-2-5h0m-15 4h0m-11-11h0m-8-17h0m-16 23h0m-7-29h0m-3 6h0m-8 22h0m-11-26h0m0-5h0m-3 11h0m-11 24h0m-27-29h0m-2 12h0m-3-2h0m-4-17h0m-679 9h0m-1-7h0m-1 7h0m-1 9h0m-5 13h0m-14-29h0m0 1h0m0 30h0m-3-8h0m-9 2h0m-14-18h0m-20 20h0m3 41h0m4-15h0m10 5h0m4-15h0m11 34h0m1-25h0m9 15h0m2-11h0m2-2h0m6 2h0m6-17h0m695 29h0m4 5h0m3-23h0m37 11h0m57 8h0m14-18h0m7 11h0m24 14h0m6-15h0m1-18h0m11 33h0m18-2h0m3-11h0m17-19h0m3 3h0m50-9h0m169 30h0m193-11h0m3 10h0m3 6h0m13-16h0m10 16h0m1-17h0m4 17h0m2 4h0m5-32h0m10 20h0m11-18h0m0 22h0m16-24h0m14 3h0m10 2h0m31-3h0m21-2h0m11-1h0m178 32h0m12-29h0m13-3h0m24 14h0m11 12h0m8-3h0m4-16h0m11 26h0m980 0h0m14-27h0m2-1h0m12 27h0m7-28h0m11-5h0m11 5h0m6 20h0m12-3h0m19 10h0m0-31h0m9 31h0m14-9h0m0-18h0m8 42h0m-2 3h0m0 17h0m-24-20h0m-1 1h0m-7-10h0m-19 1h0m-15 12h0m-9 11h0m-1-10h0m-15-1h0m-2-8h0m-3 7h0m-1039 23h0m-16-8h0m-6-24h0m-4 19h0m-1-13h0m0 5h0m-3 14h0m-21-30h0m-230 6h0m-9-2h0m-7 6h0m-5 9h0m0 4h0m-2-3h0m-14-3h0m-31 11h0m-7 5h0m-5-2h0m-21-15h0m-38-8h0m-9 10h0m-8-18h0m-1 30h0m-3 4h0m-3-22h0m-1-4h0m-6 16h0m-7 8h0m-164-8h0m-31-7h0m-107-3h0m-13 7h0m-31 14h0m-44-14h0m-30-1h0m-1 13h0m-19-12h0m-3 12h0m-2 3h0m-12-14h0m-9 7h0m0-25h0m-8 5h0m-4 18h0m-12-12h0m-20 16h0m-7-1h0m-12 3h0m-17-20h0m-5-13h0m-720 22h0m-21 4h0m-11-23h0m-1 31h0m-2-15h0m-6 10h0m-2-12h0m0 5h0m-5-6h0m-17 48h0m38-25h0m11 25h0m1-14h0m2 16h0m2-10h0m7 2h0m729-8h0m8 19h0m13-29h0m4 36h0m18-25h0m2 15h0m8 10h0m3 1h0m13-8h0m14 7h0m11-3h0m5-4h0m1-25h0m9 3h0m0 22h0m1-19h0m1 5h0m9-14h0m6 36h0m5-23h0m8 8h0m5-11h0m21 9h0m113 8h0m19 9h0m256-35h0m15 11h0m30 21h0m1-7h0m60-14h0m9-6h0m284 0h0m3 30h0m0 1h0m8-39h0m11 25h0m13-7h0m16-8h0m14 21h0m4-26h0m13 14h0m4-10h0m949 16h0m10-1h0m105 15h0m13-37h0m10 9h0m-11 60h0m-8-21h0m-88 20h0m-5-8h0m-1016-12h0m-2-6h0m-2 1h0m-1 6h0m-2-2h0m-31 6h0m-17 23h0m-4-26h0m-3 1h0m-495 19h0m-299-24h0m-4 30h0m-1-1h0m-10-10h0m-13 4h0m-42-31h0m-52 13h0m-12-6h0m-2 18h0m-748-4h0m0-10h0m-3-7h0m-12 18h0m-14-22h0m-19 29h0m-12-23h0m6 72h0m25-35h0m19 0h0m1 26h0m9-5h0m6-10h0m6 15h0m0-21h0m753 31h0m15-6h0m49-14h0m3 20h0m38-35h0m5 14h0m99 12h0m40-25h0m105 25h0m35-2h0m110-5h0m29-14h0m72 17h0m1350 4h0m6 2h0m5 5h0m6-17h0m7-9h0m5 26h0m85-20h0m21-11h0m2 26h0m0 26h0m-3-7h0m-45 9h0m-2 16h0m-7-36h0m-1 4h0m-5 28h0m-3-27h0m-8 10h0m-15 17h0m-2-16h0m0-5h0m-22 0h0m-2 0h0m-1-11h0m-2 37h0m-5-5h0m-11-31h0m-31 10h0m-5 6h0m-29-10h0m-41 30h0m-1209-19h0m-240-8h0m-2 24h0m-53-1h0m-38 0h0m-11 4h0m-27-26h0m-44 21h0m-102-14h0m-21 8h0m-11-2h0m-13-13h0m-36-7h0m-41-4h0m-14 17h0m-5 9h0m-15-8h0m-3 8h0m-2-11h0m-675 16h0m-4 5h0m-13-27h0m-2 13h0m-7 5h0m-8 3h0m-15-15h0m-7-7h0m-1 13h0m-12-6h0m-5 10h0m-2-21h0m-26 28h0m-5-30h0m-29 12h0m-10-1h0m-5 21h0m-2-9h0m-44-1h0m-6 2h0m-10 0h0m-24 1h0m-20-24h0m-5 1h0m-3 29h0m-7-12h0m-2 2h0m-14 8h0m-25 7h0m-17-16h0m-14 24h0m32 6h0m29-5h0m3 15h0m14 13h0m16-12h0m24 14h0m17-8h0m12-26h0m0 17h0m3 17h0m2-27h0m0 24h0m5-17h0m1 15h0m0 2h0m5-23h0m8 19h0m5-29h0m10 37h0m1-2h0m72-35h0m37 1h0m18 6h0m5 4h0m11-5h0m19-4h0m666 15h0m36-10h0m2 21h0m16-11h0m17 5h0m154 15h0m9-6h0m83 2h0m169 5h0m60-14h0m99-17h0m1234 22h0m4-23h0m0 14h0m2-14h0m3 4h0m17-6h0m9 2h0m13 17h0m8 1h0m4-24h0m12 2h0m5 11h0m6 6h0m5 2h0m21-9h0m7-8h0m12 3h0m29 27h0m10-4h0m17-22h0m3 12h0m21 10h0m41 18h0m-2-2h0m-3 16h0m-18-2h0m-3-3h0m-10 0h0m-12 6h0m-8 13h0m-3-21h0m-9 23h0m-17-24h0m-1-15h0m-9 0h0m-1 13h0m-15 2h0m-46-8h0m-23-4h0m-14 13h0m-5-6h0m-24-6h0m-18 24h0m-4-5h0m-5 8h0m-10-25h0m-2 12h0m-1143 19h0m-4-4h0m-40-8h0m-5-6h0m-17 10h0m-1 4h0m-13-28h0m-5 22h0m-99-19h0m-54 3h0m-17 8h0m-82-17h0m-32 27h0m-51-13h0m-85 12h0m-77-1h0m-1-25h0m-8 18h0m-2 18h0m-12-28h0m-37-3h0m-67 31h0m-25-18h0m-815-17h0m-20 1h0m-10 3h0m-5-4h0m-4 31h0m-5-22h0m-17 11h0m-7-20h0m-12 8h0m-18-11h0m914 79h0m3-37h0m4 37h0m28-11h0m17 5h0m12-3h0m5-2h0m4 8h0m13-24h0m22 4h0m36-1h0m6 18h0m27-32h0m96 24h0m70-7h0m16-12h0m193 22h0m11-8h0m13 2h0m14-3h0m11 12h0m14 6h0m20-11h0m1-1h0m4 0h0m93-9h0m7-15h0m13 7h0m1 15h0m7 11h0m5 5h0m2-16h0m4 9h0m7-2h0m17 9h0m1079-14h0m14-9h0m1-4h0m15 24h0m3-23h0m7 23h0m24-24h0m8 4h0m19-5h0m13 5h0m15-14h0m35 35h0m14-7h0m4-6h0m2 4h0m7-3h0m9-18h0m8 25h0m0-17h0m14 12h0m11-19h0m4 23h0m11 6h0m4-10h0m9-4h0m-43 41h0m-28 8h0m-2-6h0m-3 11h0m-1-10h0m-2-6h0m-3 3h0m-66-13h0m-33 0h0m-4 19h0m-15 0h0m-5 4h0m0-30h0m-4 14h0m-8-8h0m-29 18h0m-1020 9h0m-11-7h0m-27-18h0m-11-11h0m-8 1h0m-4 1h0m-51 14h0m-1-9h0m-55 18h0m0 12h0m-45-29h0m-21 11h0m-6 13h0m-3-21h0m-25 27h0m-1-15h0m-79 5h0m-7-4h0m-20 8h0m-20-3h0m-3-11h0m-21 6h0m-4-5h0m-38 18h0m-143-9h0m-4-13h0m-12-5h0m-16 22h0m-36-17h0m-29 17h0m-8-20h0m-26 20h0m0-5h0m-4 7h0m-7 4h0m-4-25h0m-15 4h0m-12 21h0m-11-20h0m-7-11h0m-4 11h0m-4-1h0m-31 13h0m-7-5h0m-40-18h0m-7 8h0m-39 35h0m94-8h0m20-2h0m21 29h0m2 6h0m0-33h0m45 6h0m29-1h0m2 17h0m10-1h0m2 9h0m1-8h0m2 10h0m6-22h0m75 23h0m34-4h0m17-6h0m33 11h0m36 2h0m9-10h0m14-24h0m3 25h0m8-14h0m5-14h0m5 8h0m0 27h0m9-35h0m11 18h0m5-9h0m3 10h0m2-19h0m2 29h0m18 4h0m14-3h0m10-30h0m1 31h0m55-31h0m14 17h0m19-12h0m31 28h0m9-11h0m6-24h0m3 13h0m5 17h0m3-10h0m2-12h0m2 5h0m1 4h0m16-2h0m1-13h0m8 23h0m2-19h0m21-3h0m8 14h0m1-6h0m14 4h0m13-1h0m14-5h0m1 18h0m3-22h0m28 20h0m35-4h0m40 18h0m83-9h0m880-1h0m3 10h0m14-8h0m24 8h0m10-23h0m5-13h0m10 1h0m1 29h0m15-17h0m23 7h0m2-14h0m18-1h0m3 10h0m16-3h0m21-14h0m72 19h0m2 9h0m6-15h0m3-7h0m2-1h0m-121 71h0m-1 0h0m-1-36h0m-12 1h0m-10 27h0m-26-7h0m-2 7h0m-21-27h0m-11 35h0m-11-18h0m-11 4h0m-6-1h0m-1-10h0m-9 16h0m-10 11h0m-12-12h0m-1-3h0m-1-4h0m-1 7h0m-2-8h0m-797 14h0m-14-13h0m-11-14h0m-1 19h0m-8-7h0m-4-13h0m-23 25h0m-27-8h0m-30-3h0m-32 4h0m-103-14h0m-4 12h0m-5 3h0m-7 7h0m-4-19h0m-5-8h0m-23 19h0m-7 0h0m-3-3h0m-5 3h0m-19 11h0m-2-2h0m-2-23h0m-5 23h0m-12-6h0m-13-12h0m-30-4h0m-27 4h0m-12 2h0m-8 10h0m-9-4h0m-22-10h0m-35-2h0m-6-3h0m-26-1h0m-10 3h0m-50 11h0m-17 7h0m-17-18h0m-4 11h0m-1-7h0m-7-5h0m-1 3h0m0-7h0m-34 20h0m-19 6h0m-3-1h0m-4-3h0m-14-22h0m-45 35h0m-20-13h0m-47-16h0m0-10h0m-11 11h0m-10 3h0m-3-13h0m-12 0h0m-3 29h0m-13-5h0m-24 1h0m-15-24h0m-7 21h0m-4 12h0m-17-10h0m-10-7h0m-30 20h0m-20-7h0m-49-25h0m-17 4h0m-23 52h0m5 3h0m2-21h0m31-4h0m55 21h0m3 14h0m4-17h0m20-3h0m21 17h0m2-22h0m2 3h0m30-6h0m5 3h0m1 0h0m8-4h0m23 24h0m7-19h0m9-4h0m76-5h0m10 34h0m11-8h0m1 5h0m6-17h0m7 7h0m19-6h0m3 2h0m37-18h0m30 38h0m0-23h0m8 20h0m15-21h0m4 20h0m5 4h0m1-15h0m4 12h0m6-9h0m2 7h0m86-30h0m26 35h0m6-5h0m45-18h0m10-9h0m166-3h0m19 34h0m3-28h0m7-6h0m1-1h0m6-3h0m22 38h0m14-29h0m16-2h0m184 21h0m3-27h0m5 18h0m2 7h0m4-25h0m0 25h0m16-3h0m4-23h0m12 11h0m1 18h0m1-8h0m17 16h0m783-35h0m1 3h0m3 13h0m27-16h0m8 12h0m9 5h0m5-7h0m-833 46h0m-6-12h0m-7 18h0m-4 14h0m-101-25h0m-120 12h0m-14-1h0m-11 13h0m-16-33h0m-246 34h0m-5-2h0m-21-22h0m-11-3h0m-4 24h0m-2-35h0m-31 38h0m-44-19h0m-7 16h0m-12-15h0m-2 17h0m-10 1h0m-4-14h0m-55-9h0m-1 6h0m-1-12h0m-8 11h0m-1-4h0m-1-3h0m-1 13h0m-14-7h0m0 17h0m-8-6h0m-1-7h0m-4-11h0m-5 7h0m-13-10h0m-14 25h0m-23 4h0m-18-31h0m-18 30h0m-9-12h0m-3-23h0m-6 10h0m-4 11h0m0 10h0m-3-20h0m-4 10h0m-4-15h0m-3 15h0m-13-17h0m-4-4h0m-12 4h0m-1 27h0m-3-13h0m-1-9h0m-11 7h0m-17 18h0m-27-16h0m-29-15h0m-26 22h0m-3 3h0m-10 6h0m-4-30h0m-1-1h0m-27 24h0m-10 4h0m-30-5h0m-10 3h0m0-3h0m-14 0h0m-11-1h0m-12 7h0m-6-1h0m-7 43h0m5-10h0m24-16h0m24 21h0m63-2h0m7-16h0m8 6h0m58 5h0m9-8h0m3-3h0m6-2h0m6 9h0m7-13h0m8 28h0m1-8h0m6-17h0m16-10h0m8 3h0m18 32h0m13-35h0m10 6h0m2 23h0m18-10h0m70 12h0m3-21h0m6 12h0m37-22h0m1 30h0m44-18h0m10-5h0m7 9h0m7 11h0m5-21h0m10 12h0m2 17h0m8-31h0m9 31h0m2 0h0m4 1h0m5-12h0m0 9h0m1 3h0m7-8h0m2-12h0m8 3h0m12-15h0m33 16h0m37 4h0m9-6h0m17-17h0m2-1h0m150 36h0m47-1h0m44-16h0m6 17h0m16-31h0m6 10h0m36 17h0m19-31h0m13 36h0m6-1h0m35-9h0m7-19h0m3 12h0m0-10h0m1 28h0m5-11h0m29-2h0m24-11h0m8 21h0m19-11h0m17-18h0m8 9h0m26 17h0m-9 17h0m-10-2h0m-3-5h0m-10 33h0m-5-15h0m-9 6h0m-12-15h0m-5 15h0m-3-6h0m-8-14h0m-27-4h0m-7 15h0m-23-11h0m-6 3h0m-3 26h0m-8-31h0m-11 32h0m-4 2h0m-1-18h0m-1 5h0m-6 8h0m-5-10h0m-18-4h0m-22-14h0m-3 1h0m-19 20h0m-38 2h0m-64 8h0m-49-23h0m-10 19h0m-204-22h0m-4 3h0m-14-13h0m-58 4h0m-8-3h0m-7 25h0m-5 7h0m-5-21h0m-1 8h0m-18-10h0m-2 29h0m-7-6h0m-5 0h0m-4-12h0m-3 18h0m-10-37h0m-18 21h0m-3-12h0m-55 0h0m-44 15h0m-9-12h0m-8-4h0m-10 27h0m-2-20h0m-11-10h0m-80-1h0m-105 3h0m-3 12h0m-23-1h0m-13-13h0m-31 5h0m-17 19h0m-17-20h0m52 64h0m36-17h0m71 10h0m12 9h0m15-21h0m0-10h0m13 18h0m23 9h0m11-8h0m6 7h0m10-17h0m51 9h0m9-11h0m1-1h0m10 20h0m6 3h0m18-19h0m2 9h0m11-14h0m5 25h0m9-23h0m57 26h0m5-1h0m22-11h0m28 10h0m40-34h0m9 22h0m212 13h0m14-12h0m1 1h0m29-26h0m37 13h0m53-14h0m70 0h0m4 13h0m5 20h0m8-18h0m14 16h0m3-14h0m16-8h0m17 21h0m27-16h0m9-4h0m39 17h0m3-14h0m4-8h0m10 16h0m0 12h0m3 5h0m9-1h0m8-34h0m38 5h0m13-3h0m6-4h0m-36 63h0m-24-16h0m-13 6h0m-3 21h0m-1-31h0m-25 4h0m-4 4h0m-11-9h0m-18 27h0m-3-6h0m-1-9h0m-7 5h0m-17-7h0m-6 23h0m-48 0h0m-1 3h0m-10-24h0m-167-4h0m-9 23h0m-16-32h0m-14 0h0m-13 5h0m-1 5h0m-10 21h0m-18-15h0m-3-1h0m-65 5h0m-19-5h0m-55-12h0m-16-5h0m-9 14h0m-17-1h0m-2 1h0m-41 13h0m-5 1h0m-18-12h0m-8 17h0m-22-30h0m-23 35h0m-43-2h0m-24-29h0m-20 6h0m-6-8h0m-3 31h0m-34-18h0m-5-12h0m-2 0h0m-19 31h0m-7-20h0m-6-11h0m-8 17h0m-21-7h0m-11 18h0m-21-8h0m-15-7h0m-6 4h0m-22 12h0m-36-2h0m-16-31h0m-13 19h0m-1-9h0m-3-12h0m-15 6h0m-2 26h0m-43 31h0m5-2h0m11 1h0m17 17h0m15-28h0m24-11h0m19 29h0m28 9h0m5-13h0m2 7h0m1 4h0m14-21h0m8 0h0m6 18h0m4-14h0m1-1h0m5 7h0m78-19h0m20 3h0m9 12h0m26-13h0m12 30h0m0-27h0m3 4h0m18 24h0m14-28h0m3 15h0m24-24h0m8 37h0m16-17h0m13-20h0m11 2h0m10 23h0m16 2h0m4 8h0m8-18h0m3-10h0m61 2h0m4 25h0m19-16h0m10-20h0m113 2h0m20 22h0m5 8h0m5-4h0m14 1h0m20-7h0m6-13h0m2 16h0m7-11h0m30 16h0m3 7h0m26 2h0m19-27h0m8 22h0m81-6h0m15-20h0m4 28h0m2-9h0m17-25h0m4 13h0m1 3h0m2-8h0m11 10h0m18 11h0m5-3h0m5-20h0m4 14h0m3-9h0m25 25h0m7-23h0m1-6h0m13-1h0m18 18h0m17-13h0m18 18h0m2-22h0m14-3h0m3 11h0m-19 23h0m-82 5h0m-9 24h0m-32-25h0m-3 24h0m-8-28h0m-3 20h0m-3-19h0m-38 21h0m0-2h0m-8 18h0m-52-28h0m-26-5h0m-11 22h0m-4 6h0m-2-11h0m-24-19h0m-11 20h0m-13 2h0m-85-22h0m-16 14h0m-46 8h0m-17 5h0m-71-16h0m-5 1h0m-17-2h0m-2-10h0m-22 33h0m-5-7h0m-34-13h0m-23 5h0m-1 18h0m-4-8h0m-9-14h0m-2 8h0m-10-25h0m-12 34h0m-2-9h0m-4 6h0m-16-1h0m-6 8h0m-11-5h0m-11 2h0m-2-1h0m-9-26h0m-13 12h0m-4 8h0m-9 4h0m0 3h0m0-16h0m-1 3h0m-8-8h0m-19 6h0m-40 19h0m-49-22h0m-36-7h0m-6-5h0m-18 10h0m-8-5h0m-3 24h0m-25-34h0m-57 31h0m-43-24h0m-16 67h0m24-3h0m46 1h0m0 3h0m4-24h0m1 1h0m9 13h0m1-6h0m5 17h0m4-5h0m3-21h0m7 21h0m2-14h0m7 10h0m6 1h0m8-7h0m2 14h0m1-13h0m5 4h0m0-5h0m6-4h0m20 13h0m84-13h0m1 13h0m9-24h0m23-2h0m12 17h0m5-16h0m24-2h0m3 0h0m3 10h0m13 7h0m1-14h0m9 32h0m19-19h0m19-9h0m129 29h0m26-28h0m4 24h0m6-30h0m4 22h0m3 6h0m8 1h0m21-33h0m8 9h0m12-4h0m16 13h0m35 4h0m103 8h0m38-6h0m4-3h0m27-10h0m15 2h0m26 23h0m8-30h0m5 22h0m11-9h0m17 0h0m35 11h0m5-4h0m59-14h0m10 6h0m4-8h0m1-6h0m3 13h0m46-17h0m1 26h0m1-10h0m11-12h0m11-5h0m-57 52h0m-2 6h0m-37 4h0m-33 15h0m-5-29h0m-4 24h0m-3-10h0m-1 10h0m-4-24h0m-6 14h0m-5-6h0m-1-2h0m-3 3h0m-3 18h0m-6 1h0m-32-34h0m-15 1h0m0 17h0m-13 3h0m-16 15h0m-12-28h0m-14 21h0m-7-11h0m-1-17h0m-6 35h0m-9-18h0m-50-8h0m-100 14h0m-4 12h0m-9-36h0m-27 29h0m-33 0h0m-48-11h0m-9 5h0m-18-4h0m-22-9h0m-5-5h0m-73 22h0m-11-5h0m-22-2h0m-2 12h0m-12-3h0m-12 5h0m-3-33h0m-5 7h0m-6 16h0m-37 4h0m-6-18h0m-19 4h0m-1 17h0m-139-23h0m-1 19h0m-15-25h0m-7 12h0m-2-3h0m0 10h0m-1-15h0m-21-7h0m-5 34h0m-8-21h0m-16 2h0m-2-11h0m-16 0h0m-18 17h0m-6 15h0m-21-8h0m-2-11h0m-7 31h0m3 11h0m9 12h0m0-28h0m29 35h0m4-9h0m10-2h0m11-13h0m21-1h0m2 8h0m7-9h0m17-2h0m9 21h0m36-11h0m1-16h0m13 5h0m3 8h0m11 3h0m1-20h0m62 3h0m6 33h0m5 2h0m1-8h0m38 8h0m1-21h0m8-16h0m5 3h0m19 5h0m11 9h0m30 19h0m9-21h0m3-7h0m4 16h0m2 3h0m14 4h0m1-15h0m16-14h0m11 1h0m10 30h0m121-3h0m1-15h0m15 14h0m3 4h0m1-22h0m0-11h0m25-2h0m12 14h0m6-6h0m10 14h0m7-12h0m2 1h0m9 9h0m2-6h0m25-2h0m139-3h0m9-4h0m11-4h0m8 27h0m63-8h0m9-3h0m60 8h0m23-1h0m9-9h0m4-1h0m-73 33h0m-18 23h0m-1 1h0m-6-25h0m-10 22h0m-2-12h0m-4-16h0m-4 23h0m-25 10h0m-32-30h0m-3-1h0m-3 20h0m-8-17h0m-1 6h0m-2-2h0m-14 6h0m-16-5h0m-7 14h0m-14 15h0m-100-15h0m-5-10h0m-9 14h0m-4-25h0m-14 29h0m-9-4h0m-80-7h0m-15 3h0m-7 8h0m-13-9h0m-55 15h0m-39-38h0m-14 8h0m-10 13h0m-10 0h0m-12-15h0m-64 25h0m-4 2h0m-5-27h0m-46 32h0m-37-6h0m-5-6h0m0 4h0m-3-13h0m-12-2h0m-14 4h0m-8-11h0m-20 9h0m-9 7h0m-4 13h0m-21-26h0m-31 27h0m-11-24h0m-2-6h0m-6 7h0m-13 21h0m-19 0h0m-6-19h0m-26-5h0m-2-8h0m-8 15h0m-2-18h0m-10 24h0m-7-9h0m-4 29h0m6 27h0m3-16h0m114-14h0m8 36h0m3-23h0m10-12h0m6 16h0m5-13h0m2 10h0m26-8h0m54 5h0m33 5h0m6 15h0m13-15h0m40 21h0m61-34h0m24 2h0m13 14h0m0-21h0m6 34h0m82 2h0m10-7h0m19-12h0m4 13h0m35-20h0m33 24h0m5-10h0m2 2h0m28 10h0m11-9h0m42-27h0m3 34h0m1-6h0m3-2h0m7-5h0m12 12h0m18 6h0m11-17h0m29-20h0m72 33h0m2-14h0m3-5h0m13 10h0m9-12h0m43-8h0m-65 35h0m-22 7h0m-18 8h0m-1 13h0m-46-18h0m-4 26h0m-15-17h0m-2-14h0m-19 4h0m-6 0h0m-20 15h0m-2-4h0m-12 12h0m-23-2h0m-5-21h0m-16 8h0m-1-5h0m-1 8h0m-10 13h0m-20-5h0m-8-7h0m-6 12h0m-2-26h0m-1 20h0m-88-21h0m-9 17h0m-6 0h0m-16-16h0m-22 7h0m-5-5h0m-2-8h0m-3 21h0m-14 3h0m-20 7h0m-70 4h0m-42-33h0m-6 21h0m-2 5h0m-8-6h0m-11-23h0m-1 12h0m-3 20h0m-19-24h0m-1-8h0m-9 13h0m-30 18h0m-18-18h0m-141 2h0m0-1h0m-13 5h0m-5-16h0m-7 9h0m-6-4h0m-3 8h0m-8-3h0m-1-6h0m-31 13h0m-5 13h0m-2 41h0m164-7h0m49-7h0m20 2h0m3-23h0m23 29h0m8-26h0m1 19h0m1-15h0m2 17h0m2 7h0m3-3h0m4-22h0m4 18h0m13-10h0m2 9h0m39-13h0m15 14h0m14 7h0m2-10h0m0 1h0m9-20h0m83-2h0m16 19h0m10-7h0m8 17h0m12-3h0m48 10h0m1-3h0m76 4h0m4-6h0m6-22h0m4 29h0m17-2h0m6-13h0m2-19h0m35 35h0m15-17h0m22 6h0m10-20h0m0 22h0m30-1h0m4-7h0m14-3h0m-48 34h0m-15 21h0m-2-18h0m-9 23h0m-22-29h0m-3 17h0m-20 11h0m-19-33h0m-3 18h0m-139-23h0m-5 2h0m-1 28h0m-4-30h0m-4 26h0m-6-20h0m-13 18h0m-3-2h0m-2-11h0m-6 5h0m-52 22h0m-116-36h0m-26 21h0m-4-5h0m-8 13h0m-10-3h0m-4 8h0m-13-30h0m-4 27h0m-4-3h0m0-15h0m-22 23h0m-22-2h0m-4-26h0m-3-2h0m-22-6h0m-19 13h0m-9 16h0m-14 8h0m-36-7h0m-28-14h0m-1 13h0m-11-2h0m-14-7h0m-26 8h0m-1-17h0m4 40h0m2-6h0m2 1h0m90-6h0m19 22h0m11-23h0m1 6h0m14 17h0m17 8h0m14-13h0m18-9h0m1 20h0m17-8h0m20 17h0m4-13h0m8-8h0m10-14h0m0 29h0m3-22h0m5 11h0m6 4h0m0 5h0m6-11h0m1 16h0m2-28h0m21 24h0m2 7h0m11-5h0m34-2h0m1 1h0m43-1h0m25-26h0m35 26h0m15-6h0m1-24h0m5-2h0m0 24h0m4 2h0m12-16h0m1 22h0m5-27h0m3 15h0m9-10h0m6 15h0m12-8h0m0 14h0m8-12h0m7 13h0m119-11h0m1 7h0m25 4h0m1-22h0m13 25h0m18-23h0m-60 28h0m-17 29h0m-5-7h0m-3-17h0m-7 19h0m-2 4h0m-6-7h0m-69 1h0m-23-3h0m-24 3h0m-84-13h0m-23-9h0m-6 9h0m-53 6h0m-66 9h0m-9 14h0m-13-12h0m-1-6h0m-25 17h0m-45-17h0m-4 1h0m-5 2h0m-55-15h0m-79 39h0m37 9h0m31 22h0m44-12h0m1-9h0m13 21h0m5-19h0m75 3h0m15-15h0m21 11h0m18 19h0m26-4h0m54-3h0m46-9h0m14 13h0m1 4h0m1-31h0m2 28h0m22-1h0m2-10h0m13-24h0m7 35h0m9 2h0m17-35h0m17 2h0m0 32h0m44 2h0m6-25h0m6 1h0m20-12h0m23 5h0m-99 53h0m-13-19h0m-10 31h0m-3-16h0m-6-15h0m-19 1h0m-4 31h0m-2 0h0m-5-24h0m-10 9h0m-44-13h0m-17 22h0m-2-14h0m-12 8h0m0 16h0m-7 0h0m-4-25h0m-2 11h0m-1 11h0m-7-8h0m-9 7h0m-8-5h0m-19-9h0m-14 5h0m-24-1h0m-146-23h0m-35 2h0m-10 20h0m-8 13h0m0-18h0m-31 13h0m-7-22h0m52 46h0m11-8h0m32 17h0m59 5h0m33 9h0m10-16h0m48-19h0m9 3h0m3 11h0m7 5h0m5 3h0m5 0h0m9-17h0m2-5h0m11 29h0m1-28h0m11 8h0m9 8h0m13 17h0m30-26h0m3 16h0m10-21h0m3 24h0m12-18h0m1-5h0m3 15h0m9-7h0m40-10h0m-125 42h0m-4 2h0m-77-7h0m-57 2h0m-14 4h0m-3 6h0m-18-10h0m-17 16h0m-11 3h0m-13 7h0m-1 2h0m-19 3h0m-2-31h0m-72 1h0m9 46h0m19 4h0m47-11h0m17 1h0m6 9h0m38-10h0m43 8h0m9-6h0" stroke="#00BFC4" stroke-width="23"/>
<path d="M1680 144h0m-28-16h0m-6 1h0m-49 9h0m-45 17h0m-3 1h0m-13-17h0m-30 5h0m-118 33h0m22-4h0m25-9h0m29-4h0m1 29h0m33-27h0m69 5h0m1 29h0m11-14h0m6 5h0m12-27h0m1 21h0m29 11h0m73-23h0m1 59h0m-28-16h0m-10-9h0m-22 3h0m-43-6h0m-14 33h0m-3-31h0m-14 12h0m-73 24h0m-12-16h0m-12 7h0m0-4h0m-10-8h0m-58 22h0m-70-39h0m-4 2h0m-13 28h0m-14-8h0m-18 7h0m-39 43h0m1-6h0m5-12h0m9 0h0m2-8h0m6 21h0m13 7h0m41 0h0m6-11h0m23 1h0m16-10h0m5 4h0m24-14h0m49 14h0m44-18h0m3 21h0m4-21h0m8 18h0m1 6h0m3-2h0m3-7h0m83 12h0m4-26h0m0 35h0m49-4h0m21-6h0m2-21h0m8 27h0m1 0h0m12 6h0m1 1h0m1-3h0m4-12h0m3 0h0m13 9h0m8 6h0m28-10h0m12-19h0m9 7h0m45 21h0m33 2h0m-8 11h0m-23-9h0m-9 35h0m-14-14h0m-26 8h0m-26 3h0m-3-8h0m-11 1h0m-28-24h0m-1-1h0m-5 22h0m-4 8h0m-3-14h0m-11 14h0m-5-18h0m-17 4h0m-3 3h0m-27-10h0m-15-9h0m-61 7h0m-16-3h0m-48 3h0m-19 30h0m-69-1h0m-43-30h0m-1 26h0m-1 5h0m-6-3h0m-98-32h0m-50 22h0m-6 13h0m35 16h0m20 17h0m39-6h0m65-22h0m69 30h0m8-10h0m44-14h0m3 0h0m63 4h0m32 20h0m91-24h0m30 3h0m6 9h0m2-9h0m4-4h0m7 21h0m15-27h0m23 21h0m2-12h0m2-6h0m11 2h0m2 25h0m19-25h0m53-4h0m57-4h0m4 12h0m5 58h0m-14-7h0m-69 10h0m-5-17h0m-9 18h0m-13-10h0m-14-8h0m-4 8h0m-1-12h0m-2 24h0m-12-29h0m-7-1h0m-7 0h0m-2 17h0m-2 8h0m-1-3h0m-1-26h0m0 25h0m-5-2h0m-1 13h0m-22-22h0m-14-3h0m-106 21h0m-36-20h0m-66 12h0m-14-3h0m-4 8h0m-1-9h0m-39-1h0m-8-3h0m-9 15h0m-4-18h0m-2 9h0m-3-20h0m-3 17h0m-26 14h0m-1-10h0m-5 14h0m-1-35h0m-79 31h0m-1-9h0m-15-11h0m-71 8h0m-4 0h0m-1 2h0m-27 13h0m-9-25h0m-6-10h0m-11 21h0m-5 53h0m3-8h0m6-18h0m2 14h0m3 11h0m0-16h0m108 19h0m5-5h0m17-8h0m21 6h0m8 4h0m5-20h0m24-4h0m14-7h0m8 3h0m129-7h0m91 29h0m2 3h0m16-28h0m40 6h0m1 14h0m2-6h0m109 19h0m9-26h0m5-10h0m3 10h0m14-2h0m1 11h0m8-4h0m95 9h0m7 2h0m7-15h0m-24 38h0m-6 11h0m-27 15h0m-5-7h0m-49-24h0m-24 19h0m-19 11h0m-98-19h0m-15-6h0m-26 0h0m-7 25h0m-26-2h0m-73-3h0m-160-7h0m-8-10h0m-12 24h0m-13-2h0m-5-20h0m-32 8h0m-5-17h0m-5 0h0m-142 4h0m-6 10h0m-1 13h0m-11 8h0m4 15h0m1-12h0m7 33h0m4-26h0m11-7h0m84 8h0m7-11h0m2 30h0m13-31h0m24 10h0m12 18h0m3-17h0m42-6h0m7-2h0m4-1h0m132 30h0m21-10h0m12 5h0m4-4h0m6 1h0m8-11h0m19 25h0m2-16h0m41-6h0m0 3h0m6 9h0m31-14h0m17-13h0m31-2h0m5 8h0m50 5h0m41 0h0m0 1h0m-186 28h0m-10 13h0m-5 4h0m-6-11h0m-11-6h0m-17 16h0m-26-9h0m-5 11h0m-8 8h0m-10 4h0m-12-13h0m-9-3h0m-10 14h0m-2 3h0m-33-8h0m-6 10h0m-22-34h0m-189 20h0m-7 17h0m-7-2h0m-6-31h0m-26 6h0m-2 22h0m-9-27h0m-9 12h0m-6-7h0m-3 13h0m-4-13h0m-4 13h0m-14-16h0m12 54h0m5-16h0m3 29h0m44-26h0m6 2h0m93 25h0m189-34h0m1 20h0m15-10h0m20 24h0m14-30h0m6 11h0m6-11h0m12 11h0m2-4h0m3 11h0m9-18h0m2 10h0m16 9h0m16-9h0m16-10h0m-41 42h0m-29-2h0m-94 24h0m-33 2h0m-33 4h0m-21-12h0m-50 15h0m-2-15h0m-40 13h0m-20-8h0m-12-29h0m-6 6h0m-3 19h0m-7-10h0m-3 14h0m-36-20h0m-54 27h0m-13-15h0m-1 9h0m-148 46h0m8-3h0m20-15h0m1 0h0m11 18h0m7-32h0m89 17h0m6-11h0m169 0h0m2 5h0m16 13h0m13-8h0m11-16h0m24 7h0m43 4h0m2 2h0m1 9h0m12-15h0m0 18h0m12-20h0m19 23h0m42 2h0m34-25h0m1 27h0m4-13h0m24 12h0m-8 12h0m-2 6h0m-4-6h0m-25 1h0m-3 27h0m-6-14h0m-4 2h0m-19 13h0m-3-4h0m-4-13h0m-32 17h0m-4-8h0m-127-12h0m-18-10h0m-10 32h0m-11 0h0m-76-29h0m-17 28h0m-15-14h0m-59-14h0m-84 20h0m-1 3h0m-35-31h0m-49 66h0m5 8h0m4-14h0m5-6h0m40-4h0m7 4h0m9-1h0m0 3h0m55 16h0m20-26h0m79 6h0m9 5h0m26-18h0m70 20h0m57-3h0m5 22h0m5-24h0m86 18h0m12-5h0m13-19h0m3 29h0m11-8h0m4-3h0m21 5h0m11-16h0m7 10h0m12-25h0m-18 52h0m-12 23h0m-9-1h0m-1-20h0m-24-13h0m-5 15h0m-48-9h0m-54-2h0m-12 32h0m-9-18h0m-14 7h0m-9 10h0m-5-34h0m-11 8h0m-115-6h0m-3 4h0m-17 19h0m-5-5h0m-8-7h0m-114-15h0m-16 6h0m-45 12h0m-29-17h0m-32 76h0m12-26h0m41 11h0m25-8h0m156-3h0m1-3h0m2-8h0m22 6h0m17 24h0m139 8h0m3-10h0m11 5h0m1-30h0m7 27h0m6-23h0m36 3h0m12 18h0m18-15h0m8 11h0m70 0h0m1 7h0m18-9h0m11-3h0m-2 45h0m-2 8h0m-6-30h0m-3 6h0m-36-8h0m-2 25h0m-30 6h0m-27 2h0m-6-8h0m-7-24h0m-3 35h0m-6-35h0m-8 23h0m-1-23h0m-17 21h0m-31-21h0m-132 22h0m-33 5h0m-17-3h0m-4-5h0m-146-21h0m-5 30h0m-2 5h0m-2 0h0m-22-14h0m-16-9h0m-3-1h0m-5 19h0m-48-30h0m-21 66h0m8 10h0m113-21h0m14-14h0m2 10h0m5 5h0m5 10h0m0 12h0m8-15h0m8 9h0m79-13h0m13-14h0m30 25h0m4-4h0m195-26h0m17 7h0m9-7h0m4 39h0m8-16h0m5-5h0m17 3h0m7 4h0m12-21h0m7-2h0m7 0h0m27 3h0m0 3h0m12 30h0m11-4h0m7 0h0m30-6h0m14 47h0m-9-24h0m-9 3h0m-13-2h0m-7 18h0m-24-9h0m-3 10h0m-1-14h0m-8-2h0m-9 0h0m-27 10h0m-33-11h0m-8 2h0m-13 16h0m-12-10h0m-25 13h0m-6-3h0m-16-19h0m-24 21h0m-7-6h0m-54-10h0m-22 2h0m-42 0h0m-21 17h0m-3-3h0m-28-19h0m-87 3h0m-3 4h0m-16 4h0m-4-26h0m-7 24h0m0-23h0m-11 23h0m-9-12h0m-111 3h0m-2 0h0m-1 12h0m7 25h0m3 1h0m2 9h0m113-17h0m57-4h0m19 21h0m4-14h0m16 28h0m34-27h0m19-5h0m6 10h0m22 17h0m5-21h0m7-3h0m62 13h0m32 10h0m11-18h0m8-2h0m16 22h0m59-9h0m13-23h0m7 24h0m4-18h0m3 9h0m9-7h0m5 3h0m3 25h0m3-16h0m3 5h0m128-8h0m797 22h0m11-18h0m9 13h0m32-33h0m46 8h0m27 41h0m-6 7h0m-1-3h0m-1 2h0m-4 8h0m-4-7h0m-43 8h0m-24 6h0m-9-13h0m-53-14h0m-61 27h0m-746 4h0m-9-9h0m-32-13h0m-90-13h0m-17 0h0m-51 20h0m-16 6h0m-9 7h0m-8-28h0m-9 29h0m-19 5h0m-5-6h0m0 5h0m-2-33h0m-7 5h0m-24 22h0m-27 4h0m-16-2h0m-9-28h0m-1 2h0m-9-3h0m-1-3h0m-2 13h0m-11-10h0m-87-4h0m0 3h0m-40 34h0m-2-21h0m-36 9h0m-7-6h0m-5 5h0m-65 34h0m39 1h0m34 9h0m2 8h0m27-29h0m8-1h0m30 7h0m10 13h0m13 6h0m116-28h0m22 30h0m16 1h0m5 2h0m6-9h0m1-8h0m25-14h0m2 22h0m1-13h0m1-9h0m5-6h0m7 19h0m0-4h0m48-5h0m6-7h0m5-4h0m1 38h0m6-25h0m796 19h0m11-15h0m1 6h0m9-6h0m16 20h0m4-30h0m6 6h0m0-7h0m15 16h0m7-19h0m7 3h0m3 27h0m5 5h0m115-10h0m59 7h0m22-13h0m2 5h0m-29 23h0m-21-9h0m-17 35h0m-6-35h0m-50 33h0m-24-8h0m-24-14h0m-20 8h0m0-6h0m-7-12h0m-11 8h0m-4 11h0m-8-9h0m-1 23h0m-3-11h0m-8-1h0m-19 4h0m-5-21h0m-13 23h0m-30 2h0m-1-29h0m-15 7h0m-4 25h0m-5 1h0m-601-11h0m-71-16h0m-67 1h0m-11 27h0m-6-18h0m-8-16h0m-2 20h0m-21-11h0m-7 13h0m-14 12h0m-21-6h0m-1-14h0m-5-5h0m-10 8h0m-10-10h0m-8 16h0m-2-3h0m-7-2h0m-27 17h0m-3-34h0m-9 28h0m-1-14h0m-1-8h0m-4 15h0m-3 12h0m-15-26h0m-99 25h0m-1-28h0m-20 4h0m-31-5h0m-9 7h0m-2 14h0m-1-4h0m-67 12h0m-6-20h0m-1 5h0m-5-9h0m43 35h0m32-6h0m1 12h0m3 1h0m91 24h0m55-35h0m20 3h0m23 20h0m4 7h0m1-7h0m5 5h0m5-28h0m21 15h0m21 19h0m5-23h0m8-5h0m35 14h0m16 2h0m5-13h0m13-10h0m20 3h0m22 18h0m98-2h0m626-18h0m63 6h0m5-2h0m16 17h0m10 2h0m8 10h0m2-12h0m5-19h0m5 7h0m2 1h0m34 27h0m8-39h0m9 1h0m13 6h0m14 29h0m32-5h0m-49 31h0m-28 2h0m-2-10h0m-13 21h0m-3-32h0m-7 23h0m0-21h0m-5 18h0m-6 11h0m-48-23h0m-9-3h0m-40 5h0m-2-4h0m-19-3h0m-5 29h0m-827-12h0m-46-11h0m-6 21h0m-1-22h0m-1-6h0m-4 28h0m-36 5h0m-3-13h0m-35 10h0m-14-7h0m-10-17h0m-13 11h0m-15 12h0m-76 1h0m-7-1h0m-10-10h0m-11-13h0m63 56h0m7 4h0m20-28h0m5 16h0m11 15h0m10-12h0m1 3h0m1-5h0m11 15h0m25 0h0m2-15h0m3 9h0m20 7h0m14-26h0m14-7h0m15 24h0m4-5h0m1032-16h0m30-4h0m-66 67h0m-103 8h0m-20-14h0m-687-15h0m-8 4h0m-42 10h0m-29 14h0m-18-23h0m-50 3h0m-6-7h0m-54-9h0m-6 27h0m-25 8h0m-11-29h0m-7 29h0m-34-1h0m-3-31h0m-16 16h0m-39 1h0m20 21h0m7 13h0m2 9h0m15-14h0m14-2h0m17 0h0m9 13h0m2 3h0m8-23h0m3 12h0m3-1h0m16 24h0m20-27h0m5 21h0m6-14h0m30-9h0m5 20h0m12-12h0m9-5h0m3-8h0m11 9h0m22-6h0m2 7h0m3 26h0m7-25h0m3 13h0m4-24h0m15 19h0m1-7h0m12 7h0m8 10h0m4-30h0m4 29h0m715-2h0m24 3h0m0-11h0m5 17h0m1-4h0m23-2h0m23-13h0m5-13h0m10 15h0m23 26h0m-24-3h0m-9 14h0m0-14h0m-3 16h0m-5-9h0m-11 17h0m-15-16h0m-12 11h0m-28-11h0m-698 25h0m-14-7h0m-13 6h0m-2 2h0m-22-17h0m-9-1h0m-5 20h0m-2-38h0m-32 38h0m-5-20h0m0-1h0m-7 4h0m-29 6h0m0-10h0m-1 6h0m-7 2h0m-9 1h0m-5-24h0m-15 32h0m-9-5h0m-13-8h0m-14-8h0m-18 17h0m-2 8h0m-29 0h0m91 6h0m8 7h0m30-6h0m3 2h0m25 17h0m4-10h0m31 18h0m3-18h0m7 21h0m2-21h0m25-5h0m12 2h0m16 1h0m9 13h0m4 4h0m3 8h0m17 1h0m639-35h0m30 32h0m18-3h0m16-15h0m12 7h0m4-18h0m7 26h0m1-3h0m5-13h0m14 3h0m10-12h0m0 16h0m0 42h0m-5 2h0m-5-14h0m-5 16h0m-7-6h0m-14-11h0m-1-3h0m-2 6h0m-14 20h0m-8-4h0m-15 4h0m-35-34h0m-1 15h0m-13 6h0m0-15h0m-6 17h0m-612 5h0m-3-27h0m-21 34h0m-10-32h0m-3 15h0m-10 8h0m-26 6h0m-5-7h0m-29 7h0m0-3h0m-4-25h0m-3 9h0m-2 12h0m-17-17h0m-3 25h0m-13-7h0m-3-14h0m-15-10h0m-9 74h0m16-17h0m3-10h0m14 15h0m3-17h0m11 13h0m6-12h0m10 1h0m5 10h0m41 1h0m1-15h0m16 3h0m27-5h0m7 3h0m6 11h0m4-18h0m14 5h0m3 32h0m7-29h0m4 18h0m6-4h0m551 12h0m2-1h0m12 0h0m0-23h0m10-9h0m1 16h0m16 15h0m11-28h0m7-4h0m32 21h0m7 7h0m0 9h0m2-12h0m16-17h0m1 29h0m3-21h0m13 9h0m7 8h0m3-6h0m30 3h0m-6 45h0m-4-18h0m-25 0h0m-6-12h0m-1-4h0m-18 5h0m-75 25h0m-1-13h0m-5 2h0m-36-3h0m-595 10h0m-11-21h0m-5 8h0m-173-10h0m-691 65h0m3 3h0m19 4h0m4-5h0m9-4h0m679-15h0m2-8h0m182 3h0m14 21h0m87 0h0m409 1h0m42 5h0m13-24h0m16 23h0m5-15h0m6 2h0m8 8h0m36-20h0m75-4h0m6-4h0m14 26h0m6-8h0m17 9h0m5 4h0m3 8h0m14-7h0m17 3h0m25-2h0m1147 46h0m-12-15h0m-4 10h0m-14 2h0m-2-8h0m0 3h0m-37-7h0m-1040 11h0m-89-6h0m-71-27h0m-19 2h0m-6 10h0m-40 13h0m-78-5h0m0-21h0m-35 21h0m-454-12h0m-2 6h0m-45 18h0m-15 2h0m-16-8h0m-122-17h0m-14 16h0m-6 2h0m-8-21h0m-685 13h0m-8 12h0m-5-10h0m-5-20h0m-4 0h0m-16 34h0m-16-23h0m5 34h0m8 16h0m2-12h0m8-11h0m7 14h0m2 10h0m2-7h0m2-2h0m1 18h0m713-12h0m87 17h0m56-18h0m47-10h0m128 27h0m99-8h0m194-13h0m12 18h0m27-16h0m295-6h0m5 13h0m2-13h0m73 0h0m5 21h0m6 5h0m990-25h0m8 2h0m47 16h0m5-31h0m2 8h0m1 10h0m19 0h0m4-18h0m4 36h0m4-24h0m3-7h0m7 9h0m6 21h0m6 40h0m-4-7h0m-4-12h0m-14-14h0m-3 1h0m-4 13h0m-25-16h0m-16 9h0m-3 10h0m-28-14h0m-8 5h0m-14 3h0m-4-7h0m-975 11h0m-15 6h0m0 13h0m-3-14h0m-8 15h0m-3-29h0m-12-1h0m-18 28h0m-267-23h0m-9 8h0m-13 3h0m-10 8h0m-71-17h0m-10 1h0m-3-3h0m-1 13h0m0-21h0m-8 29h0m-5-25h0m-2-8h0m-10 31h0m-6-1h0m-5-11h0m-8 3h0m-1 6h0m-123 8h0m-47-12h0m-21-13h0m-10 6h0m-107-3h0m-13 5h0m-77 1h0m-2 12h0m-8 5h0m-51-27h0m-2 0h0m-11 3h0m-1 25h0m-2-17h0m-26 16h0m-1-10h0m-779 2h0m-60 9h0m-8 37h0m12-26h0m44 13h0m763 9h0m41-13h0m12 13h0m7-19h0m18 7h0m298 12h0m179-2h0m14 5h0m9-32h0m46 15h0m298 16h0m34-28h0m1 11h0m22 1h0m9 19h0m7-6h0m13-9h0m1019 0h0m0 17h0m12-22h0m4-6h0m9-3h0m5-8h0m36 2h0m3 7h0m5 16h0m0-21h0m-1 51h0m-27 11h0m-17-21h0m-1088 4h0m-18 10h0m-11 6h0m-2-1h0m-6 11h0m-24-13h0m-655 5h0m-138 10h0m-52-37h0m-15 9h0m-16 14h0m-26-21h0m-768 13h0m-2 6h0m-59 3h0m-2-1h0m-1 0h0m10 26h0m44 0h0m4 9h0m9 9h0m7-19h0m3 11h0m11 18h0m767-29h0m98 15h0m184-19h0m218 5h0m72 17h0m304-20h0m1009 17h0m18-9h0m7-3h0m34 14h0m106 35h0m0 4h0m-1-11h0m-2 0h0m-90-13h0m-6 24h0m-20 1h0m-1-13h0m-27 12h0m-20 3h0m-21-14h0m-6 21h0m0-17h0m-11 8h0m-1579 12h0m-71-5h0m-102-14h0m-28-1h0m-5 11h0m-11-9h0m-13-3h0m-35 4h0m0-12h0m-13-8h0m-14 5h0m-2-1h0m-9-4h0m-8 32h0m-16-25h0m-685 32h0m-27-27h0m-12 15h0m-4-25h0m-13 26h0m-35-2h0m-9-25h0m-4 24h0m-1-8h0m-12 11h0m-1-15h0m-8 24h0m-2-28h0m-7 13h0m-6 9h0m-4 5h0m-3-19h0m-3-2h0m-1 11h0m-1 6h0m-7-13h0m-20 6h0m-21-4h0m-20 8h0m-10 1h0m-15-16h0m-26-8h0m-9 26h0m-3-7h0m-39 11h0m-6 3h0m3 17h0m0-11h0m3 6h0m24 3h0m16 2h0m22-6h0m12 10h0m6-1h0m21 3h0m12 8h0m19 7h0m3-30h0m13 9h0m3 18h0m3-4h0m4-14h0m5-6h0m20 13h0m104-16h0m747 25h0m23 3h0m16 2h0m12 1h0m15-14h0m186-2h0m124 17h0m104-11h0m128-20h0m49 20h0m1203-25h0m3 33h0m10-21h0m12 17h0m6-7h0m3-22h0m0 2h0m7 23h0m16-12h0m12-14h0m2 1h0m54 17h0m24-2h0m58 15h0m13-24h0m4 45h0m-5-12h0m-2 25h0m-8-5h0m-76-9h0m-10 1h0m-5 1h0m-103 10h0m-36 10h0m0 3h0m-3-12h0m-2 11h0m-1150-7h0m-6 3h0m-11-11h0m-27 12h0m-6-25h0m-23 17h0m-21 10h0m-87 3h0m-1-31h0m-34 24h0m-37-13h0m-114 10h0m-8-16h0m-128 15h0m-75-18h0m-55 2h0m-8-8h0m-30 1h0m-2-4h0m-12 5h0m-5 3h0m0 2h0m-38 15h0m-1-21h0m-830 14h0m-30-3h0m0 9h0m-26-22h0m-22 7h0m894 69h0m8-38h0m21 23h0m37 13h0m34 1h0m3-4h0m10 0h0m22-6h0m54-27h0m96 24h0m3-24h0m67 17h0m11-16h0m5 4h0m26 13h0m53-19h0m85 1h0m48 21h0m53 7h0m4-27h0m15 3h0m42-3h0m0 4h0m3 1h0m30 17h0m12-11h0m2-12h0m20 31h0m11-11h0m3 2h0m7 4h0m0-5h0m30 17h0m1077-34h0m2 9h0m4-4h0m8-9h0m10 11h0m109 21h0m4-8h0m14 0h0m24 0h0m7 5h0m3-2h0m33-15h0m23 10h0m-42 31h0m-6 22h0m-31-17h0m-71 14h0m-9-6h0m-19 3h0m-10-5h0m-2-24h0m-7 27h0m-22-20h0m-4-6h0m-6 19h0m-21-19h0m-1024 30h0m-74-26h0m-7 26h0m-2-3h0m-6-23h0m-29 29h0m-8-27h0m-17 29h0m-9-31h0m-81 20h0m-96-3h0m-44-8h0m-48 11h0m-28 10h0m-143 0h0m-104-16h0m-25-19h0m-9 21h0m-8-17h0m-12 17h0m-13 5h0m-6-2h0m-38 6h0m-14-31h0m-1 11h0m-8 8h0m-16-18h0m0 30h0m-18-8h0m-71 54h0m4-7h0m66-22h0m19 28h0m23-35h0m78 17h0m2-5h0m88 11h0m1 6h0m5-4h0m12 3h0m59 2h0m10-2h0m1-22h0m8 21h0m3 1h0m50-5h0m1 3h0m13-11h0m32 9h0m3-1h0m13 6h0m21-5h0m18-2h0m0-4h0m42-18h0m16 16h0m42-7h0m16 5h0m29 3h0m101 11h0m20-18h0m3 13h0m22-5h0m1 17h0m8-26h0m13 12h0m1-3h0m3-2h0m11-7h0m3 14h0m11 1h0m69-25h0m11 3h0m13 11h0m8 12h0m28-3h0m870 5h0m2-4h0m42-2h0m2 6h0m10-25h0m59 35h0m3-7h0m28-29h0m3 22h0m6-20h0m2 18h0m4 6h0m10-2h0m2 3h0m1-2h0m28 9h0m11-11h0m22 13h0m41-28h0m6 3h0m-65 40h0m-1-8h0m-2 1h0m-9-4h0m-7 1h0m-5 9h0m-32-4h0m-12 26h0m-18-32h0m-2 37h0m-10-27h0m-4 21h0m-10-17h0m-12-15h0m-12-1h0m-28 9h0m-32 18h0m-27-16h0m-4-6h0m-816 32h0m-37-25h0m-39 27h0m-37 0h0m-2-4h0m-25-11h0m-1 0h0m-21 7h0m-59-27h0m-8 15h0m-33 2h0m-8-2h0m-11 1h0m-5-13h0m-17 19h0m-11-15h0m-20 1h0m-17-6h0m-38-3h0m-39 4h0m-17 19h0m-77-20h0m-49 28h0m-3 4h0m-4-31h0m-2 12h0m-29-14h0m-29 33h0m-7-21h0m-19 12h0m-6 5h0m-61-7h0m-15-2h0m-2 0h0m0 13h0m-5-22h0m-43 4h0m-32 3h0m-75-22h0m-7 20h0m-12 5h0m-19 0h0m-121 1h0m-24 51h0m5-25h0m4-10h0m6 22h0m138 12h0m25-8h0m7-4h0m13 10h0m21-29h0m7 14h0m7-13h0m12-1h0m1 6h0m17 6h0m49 11h0m19 7h0m26-11h0m142-13h0m52 6h0m109 21h0m136-13h0m7 6h0m5-17h0m18-2h0m17-4h0m6-2h0m23-3h0m22 24h0m22 8h0m6-20h0m1-13h0m58 10h0m2 20h0m6-3h0m11-21h0m3-1h0m5 29h0m1-27h0m9-3h0m23 19h0m12 9h0m43-5h0m30-16h0m24 16h0m883-21h0m22-8h0m-903 56h0m-7 15h0m-14 0h0m-1 4h0m-32-34h0m-3 24h0m-10-15h0m-14 4h0m-30 13h0m-17-20h0m-4 5h0m-17 23h0m-1-10h0m-11 13h0m-15-18h0m-8-1h0m-8-2h0m-4-12h0m-3 27h0m-10-23h0m-3 1h0m-22-2h0m-78-2h0m0 25h0m-12 7h0m-2-17h0m-5-10h0m0 9h0m-7-11h0m-223 17h0m-9 3h0m-1-2h0m-3 5h0m-18-11h0m-14 8h0m-7-15h0m-18-15h0m-9 5h0m-33 3h0m-63 11h0m-13-18h0m-120 26h0m-2-1h0m-7 4h0m-9-27h0m-3 17h0m-27 6h0m-7-7h0m-58-2h0m-32-7h0m-83 28h0m-66-10h0m-2-11h0m-5 20h0m-18 34h0m8-9h0m7-18h0m12 9h0m34 12h0m29 6h0m7-15h0m15-11h0m40 26h0m20-29h0m15 33h0m19-29h0m24 18h0m37 5h0m18 3h0m9 1h0m8-21h0m19 17h0m9 5h0m119-20h0m52-8h0m59 6h0m21-11h0m21 6h0m25 14h0m2-17h0m213 14h0m9-4h0m2 22h0m2-34h0m8 37h0m11-3h0m25-35h0m63 14h0m21-14h0m1 33h0m41-26h0m3 9h0m21-12h0m44 7h0m0-5h0m23 20h0m18-16h0m10 17h0m18-20h0m4 12h0m0-10h0m3-3h0m11 11h0m9 11h0m1 1h0m14-23h0m-7 45h0m-3 23h0m-2-17h0m-8 18h0m-11-18h0m-23 18h0m-137-32h0m-42 26h0m-12-3h0m0 9h0m-17-9h0m-20 7h0m-23-24h0m0 16h0m-17-24h0m-3 22h0m-1 12h0m-2-31h0m-2 17h0m-10 17h0m-6-36h0m-25 2h0m-275 1h0m-12 2h0m-20 30h0m-14-17h0m-57 16h0m-133-32h0m-5 12h0m-2-2h0m-2 0h0m-115-5h0m-8 3h0m-8-12h0m-19 38h0m-17-3h0m-4-26h0m-3-2h0m-4 13h0m-2-12h0m-1 4h0m-74-9h0m-56 15h0m-2-7h0m40 31h0m63 10h0m20 2h0m3 3h0m11 0h0m7 3h0m7 0h0m4-19h0m41 14h0m17-2h0m209 6h0m19 0h0m36 11h0m25-24h0m10 16h0m2 13h0m3-32h0m2 22h0m1 7h0m16-13h0m16-12h0m24 26h0m2-34h0m16 11h0m161 21h0m32-18h0m23 1h0m0 16h0m8-26h0m3 8h0m8 5h0m14-1h0m7 2h0m3-1h0m0 12h0m4-17h0m19 10h0m3-3h0m5 7h0m33 1h0m31-13h0m26 9h0m5-11h0m26 2h0m2 23h0m11-18h0m7 17h0m1-7h0m5 8h0m1-26h0m3 15h0m6-25h0m22 35h0m32 0h0m32-27h0m2 22h0m44 5h0m17-29h0m-81 63h0m-18-11h0m-25-19h0m-16 10h0m-5-10h0m-13 13h0m-4 10h0m-4-24h0m-20 18h0m-31-11h0m-8 8h0m-19 2h0m-40 9h0m-5 6h0m-5-25h0m-45-5h0m-58 5h0m-12 23h0m-6-22h0m-7-7h0m-20 6h0m-4-3h0m-9 2h0m-21 16h0m-20 0h0m-65 5h0m-88-8h0m-46 5h0m-7-21h0m-4 8h0m-35-7h0m-33 22h0m-8-1h0m-7-16h0m-3 4h0m-6-7h0m-10 23h0m-11-21h0m-2 30h0m-13-2h0m-202-16h0m-17 18h0m-15-22h0m0-11h0m-4 27h0m-2-9h0m-3-3h0m-47 2h0m-10-10h0m-9 13h0m7 22h0m7 12h0m13 15h0m3-12h0m1 3h0m1-13h0m2 11h0m1 16h0m1-7h0m7-16h0m1-4h0m7 27h0m3-2h0m23-34h0m6-2h0m30 37h0m13 1h0m47-5h0m65-21h0m5 24h0m6-15h0m29 16h0m21-19h0m5-13h0m4 23h0m10 6h0m12-17h0m2 6h0m2-8h0m22 10h0m2 5h0m12-23h0m143 26h0m19-17h0m4 22h0m8-17h0m15-7h0m24 6h0m13 4h0m2-10h0m71-11h0m26 11h0m17 5h0m12-14h0m0 14h0m16-18h0m3 28h0m12-29h0m1 37h0m7-6h0m81-13h0m15-14h0m21 1h0m16 18h0m2 11h0m12-9h0m64-22h0m6 34h0m22-13h0m12-23h0m1 23h0m30-3h0m35-9h0m15 4h0m-30 36h0m-1-5h0m-11 3h0m-17 6h0m-5-16h0m-3 25h0m-8 6h0m-24 4h0m-24 0h0m-2-23h0m-9 9h0m-33-6h0m-5-10h0m-1 23h0m-2-6h0m-1 9h0m-25-12h0m-17-17h0m-4-3h0m0 34h0m-30-9h0m-4 4h0m-52 2h0m-25-21h0m-163 9h0m-7 5h0m-3-23h0m-4 6h0m-18-1h0m-3 12h0m-1-15h0m-46 26h0m-14-14h0m-111 15h0m-34-29h0m-17 32h0m-5-10h0m-26-16h0m-47 30h0m-42-30h0m-9-1h0m-51 26h0m-15-21h0m-24 27h0m-6-32h0m-17 19h0m-3-18h0m-16 24h0m-6-21h0m-9-2h0m-21 4h0m-15 13h0m-3-19h0m-14 3h0m-72 40h0m4-4h0m49 16h0m29-10h0m1 3h0m6 6h0m11 10h0m1-28h0m34 5h0m14 31h0m11-7h0m37-24h0m10 30h0m7-16h0m1 8h0m20-21h0m55-4h0m3 29h0m19-11h0m71-10h0m7 23h0m28-3h0m50-23h0m7 20h0m8 4h0m29 2h0m37-20h0m3 23h0m37-18h0m18-2h0m11 10h0m7 7h0m24-22h0m6-11h0m16 34h0m0-19h0m27-5h0m237 7h0m14-1h0m9-2h0m9 14h0m1-26h0m44 15h0m7 2h0m12-5h0m3-15h0m14 7h0m8 4h0m7-9h0m1 28h0m22-24h0m1 0h0m6-7h0m-61 53h0m-3 14h0m-21 3h0m-50 5h0m-17-26h0m-148 16h0m-8 13h0m-57-1h0m-13-20h0m-4-8h0m-25 14h0m-5-14h0m-11-5h0m-1 1h0m-11 26h0m-20-26h0m-1 15h0m-6-16h0m-19 27h0m-55-29h0m-7 4h0m-1 1h0m-1 31h0m-11-38h0m-2 11h0m-20 20h0m-30-5h0m-11 5h0m-24-30h0m-10 22h0m-2-21h0m-1 17h0m-17 19h0m-6-32h0m-11 33h0m-17-30h0m-18 23h0m-149-19h0m-21-3h0m-28 1h0m-78 28h0m-14-37h0m-19 18h0m-70 2h0m-21 38h0m10 4h0m5 9h0m88-28h0m2-4h0m181 16h0m29 5h0m119-8h0m4-3h0m10-10h0m3 37h0m84-24h0m2-12h0m4 12h0m10-2h0m11 22h0m0 2h0m7-25h0m1 19h0m30 1h0m68-23h0m39 16h0m0 3h0m12 1h0m27-21h0m46 0h0m33-4h0m23 7h0m15 3h0m3 19h0m7-15h0m35 13h0m23-16h0m7-8h0m11 3h0m26 12h0m9-12h0m11 16h0m25-15h0m-72 43h0m-16-5h0m-14 20h0m-4 8h0m-5 1h0m-15-17h0m-1 3h0m-5 4h0m-18 7h0m-6-23h0m-1 8h0m-15-16h0m-19 1h0m-84 24h0m-7 3h0m-8 6h0m-35-37h0m-36 5h0m-21 6h0m-22 27h0m-7-24h0m-22 25h0m-145-20h0m-100 9h0m-3 9h0m-18-29h0m-122 26h0m-4-21h0m-22-12h0m-11 31h0m-100-8h0m-8-11h0m-15-1h0m-6-12h0m-26 11h0m-2 10h0m-3 6h0m-6-15h0m-1-4h0m-8 56h0m3-7h0m18 14h0m8-17h0m13 22h0m1-9h0m8 11h0m2-23h0m38 8h0m0-18h0m30-1h0m29 8h0m24 26h0m9-5h0m14-21h0m59 18h0m2 8h0m8-22h0m50 9h0m8-9h0m58-16h0m64 2h0m19 19h0m39 15h0m2 2h0m14-20h0m3-6h0m104-2h0m7-9h0m3-1h0m12 15h0m23-10h0m28 18h0m22 14h0m7 1h0m2-5h0m4-12h0m9 14h0m5-27h0m6 23h0m3 2h0m4 3h0m0-29h0m115 29h0m0-17h0m54-16h0m-174 45h0m-11-4h0m-14 15h0m-12-1h0m-53 16h0m-22-31h0m-7 11h0m-76 5h0m-6 4h0m-19-20h0m-9 31h0m-14-33h0m-1 33h0m-21-23h0m-118 27h0m-7-3h0m-14-18h0m-45 1h0m-13 4h0m-20 16h0m0-17h0m-4-3h0m-18 8h0m-175-24h0m-13 19h0m-23 10h0m-9 1h0m-8-22h0m-14 7h0m-11 10h0m-1 0h0m0 6h0m-12-9h0m-4 44h0m27-6h0m4-20h0m8 7h0m5 24h0m6-1h0m7-7h0m15-11h0m9-13h0m119 5h0m4 28h0m38-3h0m0 5h0m21-9h0m31-8h0m8-18h0m8 38h0m195-38h0m6 12h0m11 18h0m1-18h0m64 1h0m12 4h0m9-6h0m20 27h0m155-26h0m31-7h0m1 4h0m-45 38h0m-137-2h0m-41 0h0m-1 32h0m-12-8h0m-29 1h0m-36-23h0m-10 27h0m-83-14h0m-44-21h0m-21 30h0m-5-22h0m-7 14h0m-5 7h0m-18-19h0m-20 27h0m-3-1h0m-12-32h0m-5 2h0m-13-1h0m-11 27h0m-18-6h0m-4-22h0m-13 9h0m-9 20h0m-29-26h0m-69 23h0m-5 0h0m-22 3h0m-23 4h0m-9-21h0m-25 17h0m-6-13h0m-5-11h0m-7 9h0m-4 16h0m37 43h0m7-37h0m56 21h0m15-17h0m12 27h0m19-6h0m15 14h0m39-12h0m8-1h0m8 2h0m4 0h0m1-26h0m6 3h0m13 17h0m0-5h0m2-12h0m3 31h0m6-27h0m11-5h0m15 31h0m12-7h0m1-24h0m42 14h0m1 17h0m15-12h0m154-3h0m0 5h0m12-4h0m3-10h0m11 18h0m1-10h0m14 15h0m1-29h0m10 7h0m8 1h0m12 19h0m4-23h0m12 11h0m11 10h0m12-11h0m85-5h0m16-8h0m11-2h0m-130 46h0m-1 4h0m0-10h0m-44 6h0m-1-9h0m-26 13h0m-20-6h0m-95 18h0m-5-25h0m-9 9h0m-76 27h0m-7-14h0m-60-14h0m-4-1h0m-14 5h0m-19-3h0m-17 28h0m-2-36h0m-10 13h0m-30-12h0m-77 28h0m-6-9h0m-3 16h0m-1-4h0m0-7h0m-1 6h0m-22-6h0m-33 1h0m-3-24h0m16 54h0m4 10h0m5 4h0m13 5h0m23 1h0m20-4h0m2-31h0m6 27h0m4-4h0m10 4h0m5-27h0m1 21h0m7 0h0m2-2h0m20 9h0m5-5h0m24-13h0m12 9h0m48 3h0m37 1h0m16 3h0m2-2h0m32-22h0m108 27h0m17 6h0m14-3h0m4 1h0m8-11h0m7-16h0m76 34h0m-58-3h0m-20 17h0m-8 19h0m-1-22h0m-9-4h0m-20 11h0m-26-4h0m-25 7h0m-43-22h0m-63 23h0m-69-16h0m-30-6h0m-18 22h0m-57 10h0m-28-7h0m-27-19h0m0 9h0m-16-13h0m-2 18h0m11 56h0m26-27h0m14-8h0m7 10h0m4-12h0m62 28h0m104-28h0m13 0h0m7 3h0m0 13h0m17 21h0m9-14h0m14 0h0m11-9h0m59 22h0m3-10h0m38-6h0m-57 18h0m-22 8h0m-36 12h0m-2-2h0m-6-4h0m-4-5h0m-11 2h0m-6 1h0m-138-11h0m-9 1h0m-33-2h0m-1 3h0m-15 0h0m-5 21h0m-1-14h0m-4 19h0m-21 1h0m-3-2h0m-18 13h0m28-1h0m3 14h0m4-10h0m104 1h0m30 6h0m23-5h0" stroke="#F8766D" stroke-width="23"/>
<path d="M1676 147h0m-15-20h0m-38 25h0m-128 3h0m-95 25h0m12 4h0m1 2h0m2-18h0m109 10h0m17 2h0m16 4h0m36-19h0m17 23h0m22-7h0m4 1h0m9-15h0m7-5h0m45 6h0m-53 36h0m-6 15h0m-25 6h0m-1 5h0m-2-1h0m-3-9h0m-20 18h0m-6-28h0m-11 21h0m-33-31h0m-78 27h0m-49-5h0m-5-17h0m0-4h0m-2 17h0m-28 10h0m-30-2h0m-12-25h0m-26 37h0m-9-17h0m-11 9h0m-1 35h0m30-7h0m1-10h0m74 14h0m166-22h0m6 23h0m9 12h0m14-7h0m11-5h0m17 15h0m6-23h0m12 10h0m5-14h0m109-6h0m30 33h0m6-12h0m14-8h0m41 22h0m-32 24h0m-29-12h0m-61 8h0m-6-14h0m-1 29h0m-27 4h0m-45-37h0m-1 11h0m-28 19h0m0-11h0m-4-8h0m-40-4h0m-324 1h0m-2 4h0m-40 17h0m4 14h0m130 4h0m21-1h0m8 4h0m230-5h0m65 13h0m26 18h0m10-11h0m2-22h0m11-5h0m2 37h0m2-22h0m1 3h0m9 19h0m18-7h0m17-6h0m3 9h0m10 5h0m5-9h0m78 5h0m35-22h0m2-10h0m22 30h0m8-4h0m-42 44h0m-85-12h0m-20-11h0m-7-2h0m-276-1h0m-13 2h0m-9-2h0m-67 10h0m-174-7h0m-3 3h0m-36-3h0m-61 46h0m6-14h0m28 10h0m171 9h0m59 10h0m37-5h0m4 10h0m30-27h0m31 4h0m93-1h0m38 19h0m13-25h0m4 30h0m5-4h0m130-23h0m6 24h0m59-31h0m12 20h0m53-20h0m-24 41h0m-40 0h0m-24 16h0m-520 8h0m-31-21h0m-26 24h0m-101-3h0m-24 2h0m-20 51h0m10-16h0m83 7h0m39-28h0m0 1h0m14 36h0m68-32h0m2-5h0m259 14h0m25-12h0m85 0h0m28 5h0m-240 41h0m-286-10h0m-39 0h0m-37 0h0m47 48h0m9 19h0m55-13h0m52-1h0m2 9h0m13-17h0m6 3h0m12 28h0m36-7h0m6-1h0m192 1h0m17-11h0m3 9h0m-8 22h0m-93-2h0m-58 27h0m-47 3h0m-11-21h0m-5 2h0m-3 1h0m-17-15h0m-148 18h0m-13 9h0m-4 8h0m-22-20h0m-5-6h0m-145 63h0m168 3h0m0-34h0m126 32h0m29-34h0m166 13h0m44 16h0m-217 18h0m-143 3h0m-4-2h0m-29-1h0m-24 1h0m-18 27h0m-16-30h0m-10 26h0m-81-22h0m-5-2h0m-9-3h0m-13 26h0m139 9h0m81 22h0m13 11h0m7-2h0m298-25h0m-112 57h0m-16-22h0m-38 6h0m-21 16h0m-63-11h0m-16 13h0m-9 5h0m-2 1h0m-36-16h0m-5 3h0m-11 9h0m-67 0h0m-12-16h0m-5 21h0m-169-15h0m-44 34h0m24-2h0m9-8h0m38 8h0m1 28h0m13-29h0m5 9h0m100 20h0m2-31h0m2 31h0m5-12h0m17 11h0m36-19h0m23-2h0m2 22h0m32-8h0m15-12h0m4-18h0m158 28h0m57-16h0m69 11h0m0 1h0m13 23h0m-6 14h0m-115-12h0m-13 20h0m-16-15h0m-41 9h0m-114-10h0m-9 6h0m-8-8h0m-60 26h0m-32-2h0m-4-9h0m-21 7h0m-29-27h0m-44 12h0m-87-2h0m-4-5h0m-15 1h0m-9-8h0m-14 44h0m11-2h0m22 30h0m65 1h0m20-33h0m22 11h0m6-11h0m18 30h0m13 0h0m2-2h0m7-20h0m17 8h0m3-7h0m99-8h0m29 6h0m29-7h0m70 19h0m12 11h0m12-10h0m69 0h0m12-25h0m32 11h0m2 8h0m26 11h0m25 2h0m3-2h0m25 28h0m-22 14h0m-34-25h0m-17 9h0m-15-5h0m-24 7h0m-17 1h0m-28-7h0m-22-3h0m-18 24h0m-5-5h0m-64 8h0m-4-8h0m-16 2h0m-3-19h0m-20 11h0m-29-15h0m-8 2h0m-1 27h0m-26-20h0m-15-8h0m-14-2h0m-12 5h0m-29 17h0m-17-3h0m-6 0h0m-6 10h0m-12-7h0m-5-3h0m-11-19h0m-4 8h0m-149 48h0m7-5h0m55 4h0m3 2h0m14-17h0m14-5h0m9 37h0m62-20h0m10 20h0m106-2h0m4-30h0m16 27h0m84-2h0m59-23h0m13 7h0m9 7h0m9 2h0m52 4h0m104-9h0m831 16h0m20-13h0m86 2h0m12-6h0m7 37h0m-7 13h0m-9 9h0m-165-4h0m-796 6h0m-56-3h0m-11-14h0m-15 17h0m-28-3h0m-9 1h0m-8-19h0m-319-9h0m-36 4h0m-69 19h0m-1 7h0m0-1h0m-16-30h0m-33-8h0m47 57h0m142-10h0m81 18h0m37 5h0m5 6h0m187 1h0m3-2h0m76-8h0m12-17h0m54-7h0m648 9h0m32-6h0m2 1h0m38 23h0m10-5h0m64-7h0m19 4h0m20-8h0m75-12h0m-61 53h0m-46 21h0m-44-35h0m-787 27h0m-44-18h0m-57 3h0m-1 22h0m-194-4h0m-16-1h0m-62 3h0m-4-14h0m-5 12h0m-2-11h0m-57 11h0m-7-9h0m-2 2h0m-9-5h0m0-19h0m-16 36h0m-16-15h0m-75 5h0m147 44h0m1-18h0m50 11h0m84-13h0m106-3h0m28 12h0m43-13h0m4 31h0m921-13h0m-62 29h0m-20 18h0m-115 1h0m-700-8h0m-45-5h0m-1 1h0m-5-3h0m-51 15h0m-8-9h0m0-5h0m-29 12h0m-5-27h0m-12 18h0m-106-21h0m-9 24h0m-69 0h0m-37-18h0m-30 5h0m-9 28h0m-17-15h0m-11-8h0m111 49h0m112 10h0m22-12h0m39-2h0m37 14h0m9-35h0m60 0h0m20 29h0m8 2h0m16-24h0m711 4h0m123-2h0m6-9h0m-45 45h0m-36-1h0m-5 16h0m-21 1h0m-77-7h0m-691-2h0m-3 10h0m-1-6h0m-1 9h0m-124-19h0m-34-1h0m-27 15h0m-44 46h0m2 1h0m12-10h0m87-5h0m4 7h0m11 20h0m798-28h0m3-4h0m42 0h0m20 4h0m5-2h0m8 6h0m16 11h0m-27 20h0m-10-5h0m-828 33h0m-23-6h0m-10-8h0m-1 6h0m-13 2h0m-95-8h0m-16-9h0m-9 59h0m4-22h0m29 16h0m117-15h0m118 7h0m3 8h0m649 2h0m16-12h0m54 5h0m11-11h0m2 27h0m1 0h0m-7 5h0m-39 5h0m-62 16h0m-609 17h0m-262-36h0m-1 10h0m21 43h0m5-10h0m80 21h0m121 7h0m2 1h0m66-3h0m575-23h0m96 11h0m2-12h0m9 31h0m3-3h0m19-11h0m1-23h0m8 15h0m1 4h0m-12 45h0m-19-23h0m-2 37h0m-15-7h0m-34-23h0m-69 26h0m-22-33h0m0 37h0m-674-13h0m-7-11h0m-37-2h0m-16-12h0m-708 64h0m690 10h0m143-25h0m8 11h0m30 18h0m77-30h0m4 29h0m417-9h0m31-21h0m12 30h0m17 0h0m2-16h0m1 14h0m9-19h0m30-5h0m26-4h0m64-8h0m12 9h0m76 0h0m1163 65h0m-1092-20h0m-80 15h0m-12-10h0m-24-2h0m-12-9h0m-108 13h0m-11 3h0m-56 13h0m-37-6h0m-3-2h0m-30-7h0m-9 17h0m-482-35h0m-842 17h0m-4 14h0m-11-1h0m-8-9h0m-1-22h0m-20 8h0m-16 9h0m-5 48h0m8 8h0m10-13h0m2-10h0m14 22h0m2 0h0m12-33h0m7 3h0m766 16h0m25 7h0m4-5h0m511 3h0m21 9h0m25-11h0m4-17h0m13 2h0m14 10h0m18 0h0m37-5h0m7-5h0m252 22h0m30-22h0m7 25h0m992-14h0m88-14h0m5 8h0m4 23h0m5 26h0m-8-7h0m-102 6h0m-8 15h0m-966-19h0m-341 8h0m-14-2h0m-70-6h0m-2 16h0m-36-18h0m-3 8h0m-2-2h0m-8-2h0m-213-2h0m-107-3h0m-44 21h0m-152-27h0m-774 21h0m-26-21h0m-27 12h0m-5 7h0m2 20h0m26 14h0m15 1h0m0 2h0m5-23h0m3 12h0m800 24h0m170-1h0m38-27h0m22 28h0m101-6h0m13-29h0m143-3h0m34 10h0m68 4h0m291 21h0m69-6h0m6 7h0m10-25h0m11-11h0m949 2h0m62 31h0m14-5h0m26-9h0m23 20h0m4-33h0m2 19h0m2-14h0m2 18h0m3-24h0m-8 50h0m-38-13h0m-13 11h0m-19-10h0m-1-2h0m-5 37h0m-27 0h0m-10-38h0m-2 32h0m-1015-21h0m-2-2h0m-16 10h0m-43 4h0m-1-3h0m-656 7h0m-108-17h0m-85 0h0m-83 10h0m-731 17h0m-15-17h0m-30 7h0m-2 12h0m-4-20h0m-15-11h0m56 33h0m3 3h0m9 4h0m730 31h0m37-3h0m100-27h0m13 26h0m71-35h0m5 18h0m6 12h0m40-25h0m151 13h0m1530 20h0m18-26h0m129 2h0m13 31h0m-6 28h0m-1-24h0m0 7h0m-4 5h0m-148 2h0m-1528-10h0m-282 5h0m-105 20h0m-42 1h0m-697-9h0m-26 0h0m-45-13h0m-15 5h0m-8-20h0m-5 23h0m-17 10h0m-30-25h0m-4 5h0m-19-1h0m-19-9h0m-16 24h0m-37-15h0m-9 24h0m-13-29h0m-59 13h0m-10 11h0m72 29h0m5 12h0m2-25h0m21 13h0m14 15h0m15-4h0m5 2h0m145-35h0m771 16h0m2 17h0m5-8h0m13-12h0m7 15h0m84-17h0m284 11h0m52 17h0m60-14h0m100-24h0m48 27h0m1213-22h0m13-6h0m22 29h0m182 6h0m-21 33h0m-4-16h0m-17-12h0m-11 13h0m-18-7h0m-16 25h0m-1346-14h0m-40 4h0m-18 3h0m-7 7h0m-280-18h0m-4 23h0m-255-33h0m-7 3h0m-20-4h0m-4 19h0m-50-12h0m-900-6h0m877 52h0m5 4h0m3-12h0m69 16h0m0 4h0m135-7h0m68 5h0m70-7h0m229 20h0m6-4h0m1 1h0m0-20h0m3 21h0m111-7h0m9 1h0m57 9h0m1125-25h0m21 23h0m55-8h0m6-21h0m38 10h0m71-14h0m9 13h0m5 8h0m5-15h0m19 16h0m13-5h0m-162 47h0m-3-3h0m-11 2h0m-12 11h0m-9-3h0m-59-16h0m-1025 8h0m-32 8h0m-10-33h0m-1 10h0m-15-10h0m-31 7h0m-92 6h0m-50 17h0m-26 3h0m-5-30h0m-41-5h0m-57 5h0m-15 24h0m-20-7h0m-65-3h0m-115 1h0m-129 10h0m-23-9h0m-35-7h0m-15 1h0m-6 7h0m0-5h0m-33-1h0m-40-15h0m-9-1h0m-16 32h0m-3-18h0m-12 19h0m-22 41h0m3-12h0m10 15h0m15-29h0m25 14h0m1-4h0m30 16h0m14-28h0m39 18h0m4 14h0m6-18h0m10-9h0m17 11h0m9 11h0m2-26h0m8 2h0m22 19h0m8-21h0m63 19h0m67-19h0m54 15h0m13 11h0m5 2h0m1-11h0m8 9h0m9-18h0m27 5h0m84-15h0m24-1h0m24 34h0m4-15h0m56 4h0m16 8h0m8-22h0m6 9h0m164-5h0m56 9h0m4 4h0m963 0h0m22 8h0m22-7h0m72-7h0m6-19h0m3 1h0m18 18h0m5 2h0m24-13h0m9 4h0m57 5h0m4 3h0m-63 32h0m-71-15h0m-14 29h0m-33-24h0m-19 30h0m-34-31h0m-26 31h0m-846-3h0m-7-26h0m-111 23h0m-261-31h0m-7 12h0m-63-11h0m-81 2h0m-53 31h0m-2-1h0m-22-8h0m-19 10h0m-33-11h0m-3 2h0m-45-15h0m-116-5h0m-10 14h0m-27-5h0m-55 13h0m-18-3h0m-2-21h0m-75 6h0m-17 22h0m-17 46h0m0-9h0m76-11h0m34-3h0m2 0h0m8 7h0m278 11h0m26-24h0m7 12h0m46 12h0m29 3h0m38-6h0m53-18h0m6 12h0m10 14h0m16-27h0m263-8h0m183 35h0m860-19h0m27-3h0m30-8h0m-861 54h0m-96 9h0m-12-14h0m-22 22h0m-19-10h0m-1 2h0m-200-26h0m-182-3h0m-16 25h0m-15-13h0m-8-13h0m-15-1h0m-5 26h0m-38-12h0m-30 8h0m-2-22h0m-7 2h0m0 6h0m-21 15h0m-1-3h0m-12 18h0m-71-6h0m-3-29h0m-197 13h0m-142 44h0m91 10h0m3-1h0m3-9h0m3 1h0m32-5h0m57 15h0m8-22h0m252 7h0m3 20h0m24-34h0m2 23h0m3 8h0m5-21h0m43-10h0m24 34h0m14-14h0m9 0h0m3-16h0m15-2h0m192 25h0m3 2h0m200 3h0m5-17h0m23-1h0m11 20h0m4 2h0m38-36h0m3 12h0m40-2h0m6 25h0m6-36h0m-114 56h0m-36 9h0m-27-16h0m-144 21h0m-28-7h0m-21 9h0m-28 0h0m-184-29h0m-45 25h0m-13-20h0m-33 8h0m-4 3h0m-24-20h0m-162 25h0m-30-14h0m-11-11h0m-43 20h0m-13 9h0m-48 4h0m-5-3h0m-3-8h0m-13 9h0m-4-13h0m-42 8h0m-72-26h0m-44 27h0m0 1h0m142 16h0m33 20h0m5-19h0m22-2h0m54 7h0m6 4h0m5 12h0m74-25h0m18 0h0m203 6h0m1 13h0m10-5h0m6-12h0m162 29h0m32-14h0m26 2h0m18 8h0m8 0h0m3-14h0m7 19h0m11-20h0m140-6h0m105 27h0m40 17h0m-58 7h0m-16-18h0m-75 39h0m-61-14h0m-272-3h0m-13-2h0m-4 6h0m-4-1h0m-45-21h0m-185-3h0m-182 22h0m-19-20h0m-3-3h0m-49 26h0m-143 41h0m105-5h0m15-12h0m34-8h0m12 7h0m110 27h0m281-30h0m75 17h0m6-16h0m6 3h0m1-10h0m3 5h0m11 27h0m1-26h0m19 30h0m2-9h0m21-3h0m2 13h0m28-6h0m259-6h0m34 13h0m10-37h0m10 37h0m63-21h0m-12 27h0m-1 12h0m-22-5h0m-45 9h0m-27-2h0m-18-2h0m-7 20h0m-271-27h0m-9 16h0m-37 10h0m-71 3h0m0-15h0m-47-3h0m-94 5h0m-81-23h0m-30 21h0m-8 15h0m-16-33h0m-15 25h0m-109-17h0m-66 24h0m-22-35h0m-112 31h0m-16 34h0m82 4h0m71-22h0m7 6h0m75 18h0m107-4h0m7-10h0m6-8h0m4 3h0m25 9h0m7 4h0m3-1h0m5-25h0m1 19h0m115 9h0m14-15h0m11 10h0m14-5h0m9-13h0m45-3h0m90 20h0m6 1h0m51-7h0m58 3h0m9 19h0m181-17h0m1 14h0m1-7h0m3-10h0m30-8h0m2 23h0m-88 23h0m-70 7h0m-2-19h0m-60 6h0m-174 12h0m-43-2h0m-19-6h0m-12 12h0m-11 2h0m-9-22h0m-118 23h0m-11-13h0m-25-15h0m-13 27h0m-10-18h0m-1-5h0m-40 2h0m-4 25h0m-1-32h0m-9 10h0m-24 23h0m-4-24h0m-16-1h0m-20 22h0m-13-30h0m-25 0h0m-24 21h0m-101 16h0m-52-16h0m-5-8h0m-22-3h0m-10 10h0m-32 43h0m56 12h0m66-30h0m24 23h0m45-8h0m24 4h0m23-8h0m0 18h0m4-18h0m107-12h0m67-3h0m233 37h0m25-22h0m9 11h0m10-2h0m11 10h0m55-25h0m53 27h0m3-28h0m3 6h0m13 11h0m14 0h0m4-4h0m34 16h0m20-38h0m21 25h0m62 13h0m3-6h0m19-26h0m-49 44h0m-20 26h0m-14-11h0m-2-7h0m-11 16h0m-1-10h0m-10 1h0m-23-7h0m-37-10h0m-29 8h0m-10 1h0m-129-5h0m-16 23h0m-14-6h0m-22-15h0m-71 2h0m-11-9h0m-11 1h0m-50-1h0m-98 29h0m-39-1h0m-34-27h0m-23 5h0m-79-14h0m-19 23h0m-11 1h0m-7-22h0m-37 22h0m-16-20h0m-67 18h0m-8 14h0m-6-3h0m-15 6h0m-25-30h0m47 44h0m5 3h0m67 9h0m29-20h0m8 7h0m19 13h0m31-21h0m131 22h0m4 8h0m6-17h0m13 0h0m13-14h0m1 24h0m2-27h0m90 36h0m20-9h0m31-15h0m45 4h0m36-16h0m9 28h0m5-14h0m12-5h0m22 4h0m48-8h0m10 0h0m13 13h0m13-2h0m36 9h0m2 1h0m119-1h0m-67 33h0m-100-11h0m-17 3h0m-48 0h0m-55-1h0m-33 1h0m-103 12h0m-3 15h0m-78-16h0m-9 3h0m-16 5h0m-36-5h0m-26-5h0m-323 48h0m3-27h0m77 39h0m206-25h0m10 18h0m14-5h0m90 11h0m17-3h0m7 2h0m19-8h0m66-20h0m3 3h0m3-12h0m7 26h0m19-26h0m104 11h0m32 22h0m17-30h0m9 6h0m39 9h0m11 18h0m9 19h0m-47 18h0m-10-22h0m-23 20h0m-4-29h0m-3 8h0m-17 12h0m0-14h0m-124 22h0m-17-19h0m-7 19h0m-115 2h0m-18-7h0m-4 13h0m-8-4h0m-32-5h0m-27-17h0m-26-11h0m-133 1h0m-19 10h0m-103-4h0m-22-2h0m0-4h0m28 39h0m28 16h0m185-15h0m92 25h0m3 0h0m46-23h0m1 4h0m23 19h0m56 5h0m4 4h0m13-17h0m2 10h0m50-29h0m128 22h0m21-1h0m4-16h0m6-4h0m5 13h0m-22 32h0m-37 25h0m-1 0h0m-240-5h0m-72-14h0m-26 2h0m-115-1h0m-26 10h0m-18 15h0m-58-14h0m-7-21h0m-2 29h0m-24-14h0m-20 30h0m54 11h0m10 5h0m14 4h0m34 1h0m1-29h0m6 12h0m1-9h0m18 12h0m20-4h0m10 5h0m32-12h0m86 32h0m57-24h0m19 6h0m21 8h0m41 0h0m44 0h0m62 16h0m-60 2h0m-155-2h0m-27 10h0m-26-5h0m-36 11h0m-2-15h0m-25 10h0m-30 23h0m-14-31h0m-13 7h0m-9 17h0m-20-9h0m-101-18h0m14 74h0m80 3h0m3-25h0m4 10h0m45 3h0m28-25h0m2 13h0m55-7h0m55 23h0m62 6h0m-87 23h0m-12 15h0m-9 0h0m-6-1h0m-21-12h0m-21 17h0m-55-39h0m-88 12h0m-11 22h0m-24 6h0m14 8h0m11 1h0m69 2h0m124-9h0m-263 63h0" stroke="#00BFC4" stroke-width="23"/>
<path d="M1463 154h0m49 35h0m132-6h0m4-16h0m17 14h0m4-15h0m61 67h0m-28-23h0m-12 1h0m-60-7h0m-3 4h0m-347 26h0m-4 2h0m32 8h0m30 8h0m63 26h0m152-24h0m1-3h0m9 10h0m21 14h0m32-23h0m18 18h0m94-27h0m26 1h0m-115 36h0m-19 16h0m-2 13h0m-239-25h0m-25 26h0m-15-5h0m-42 6h0m69 12h0m13 24h0m14-14h0m199 7h0m7 17h0m217-18h0m5 9h0m27 30h0m-120 16h0m-116-4h0m-50-11h0m-23 10h0m-218-1h0m-60-23h0m-93 4h0m-12-6h0m-4 7h0m-7 24h0m-26 41h0m149-7h0m37-5h0m12-22h0m142 13h0m32-3h0m21-4h0m35 28h0m34-20h0m73-14h0m49 34h0m26-31h0m69 30h0m104-22h0m-60 59h0m-98-17h0m-32-12h0m-74 21h0m-26 1h0m-176 3h0m-158-25h0m-16 7h0m-9-8h0m-6 11h0m-134 1h0m3 44h0m123 14h0m26-17h0m158-3h0m43 2h0m47 13h0m63 11h0m-27 35h0m-48-15h0m-290 1h0m-32 17h0m-91 22h0m328-7h0m147 1h0m-95 52h0m-144 14h0m-104-4h0m-22-7h0m-4 10h0m-17 3h0m-15-3h0m-8-31h0m-15 9h0m-43 12h0m-145 46h0m26-7h0m91-13h0m16 24h0m32-12h0m53 2h0m119 11h0m0-10h0m64-18h0m39-8h0m-134 55h0m-9-12h0m-11 2h0m-14 8h0m-27-8h0m-23 2h0m-33 18h0m-178-26h0m-1 9h0m-9 43h0m33 23h0m98-22h0m42 12h0m91-20h0m14 8h0m172 15h0m57 39h0m-70 3h0m-192-24h0m-48 14h0m-26 6h0m-131 6h0m-14 1h0m-58-11h0m-2-3h0m-31 4h0m79 35h0m3 20h0m3 1h0m19-17h0m413-18h0m4 13h0m56-7h0m2 38h0m-157-6h0m-1 14h0m-38 9h0m-96 1h0m-27 5h0m-86-12h0m-133 51h0m63-27h0m81 5h0m20-7h0m19 34h0m54-20h0m10 16h0m28 5h0m26-17h0m7 18h0m29 2h0m2-38h0m31 22h0m3-20h0m28 35h0m22-13h0m13-11h0m13 7h0m59-19h0m10 17h0m33-10h0m5 22h0m-120 40h0m-38-5h0m-7-11h0m-9 20h0m-1-28h0m-29 2h0m-92-5h0m-86 7h0m-171 14h0m-17-20h0m-76 28h0m-3 11h0m0 10h0m58-10h0m211 31h0m55-23h0m54 3h0m2 18h0m120-19h0m28 12h0m1051 38h0m-21-15h0m-1235 26h0m-47-7h0m-4-5h0m-50-15h0m-28 23h0m-22-28h0m-95 67h0m128-2h0m41-7h0m69-18h0m161-1h0m50-2h0m96 39h0m0-33h0m11 28h0m924-27h0m-64 47h0m-1-5h0m-9 30h0m-95 0h0m-1179 0h0m-51-36h0m-16-1h0m-82 38h0m139 35h0m1-14h0m19 12h0m11-29h0m1 14h0m16-9h0m11 30h0m3-17h0m13 4h0m57-13h0m20 13h0m207-1h0m25-5h0m817-9h0m-27 40h0m-90 12h0m-12-3h0m-63-13h0m-648 15h0m-8-3h0m-143 16h0m-15-1h0m-215-6h0m-28 3h0m-34-30h0m18 68h0m43-12h0m2 2h0m6 18h0m180-8h0m9-3h0m23-24h0m4 2h0m116 8h0m785 6h0m25-18h0m-55 66h0m-35-15h0m-771-5h0m-153-6h0m-50 16h0m-19 14h0m-31 5h0m-9-7h0m-33-17h0m-18 14h0m-3-22h0m1078 64h0m70-27h0m-36 64h0m-37 10h0m-731-11h0m-53 0h0m-12 3h0m-19 9h0m-128-12h0m-53 23h0m43 10h0m121-7h0m60 14h0m685-3h0m8-11h0m111 45h0m-33 4h0m-86-8h0m-708-7h0m-58 16h0m-21-13h0m-37-5h0m-1 32h0m-34-9h0m-18-15h0m-12-8h0m97 47h0m769-1h0m82 16h0m17-10h0m23 26h0m12 17h0m-6 21h0m-76-5h0m-592-2h0m-43-11h0m-189 54h0m7 6h0m83-10h0m140-6h0m464-10h0m40 24h0m50-16h0m157-19h0m1185 59h0m-1096-7h0m-7-10h0m-66 31h0m-22-18h0m-12-7h0m-35-8h0m-50 14h0m-35 23h0m-8-12h0m-15-8h0m-70-15h0m0-2h0m-3 11h0m-493 9h0m-21-1h0m-34 14h0m-11-22h0m-69 8h0m-4-7h0m-5 6h0m-64-3h0m-702-14h0m-3 22h0m-5-12h0m-17 22h0m11 44h0m879-30h0m35-4h0m432 31h0m49-19h0m42 2h0m244 12h0m52-20h0m18-2h0m1068 28h0m2-8h0m17 8h0m5-23h0m19 5h0m-10 44h0m-10-10h0m-30-4h0m-92 12h0m-952-3h0m-15 6h0m0 13h0m-26-25h0m-402-2h0m-22 9h0m-146 18h0m-47-12h0m-138-10h0m-13 5h0m-31 16h0m-59-10h0m-862 2h0m-3-26h0m-44-2h0m-21 50h0m53-8h0m901 19h0m110-11h0m123 22h0m153-23h0m465 20h0m12 6h0m961-4h0m102-14h0m3 14h0m21-29h0m12 27h0m-5 26h0m-2-4h0m-4 0h0m-2 20h0m-3 6h0m-58-34h0m-1054-1h0m-37 23h0m-1-5h0m-21-1h0m-1-2h0m-2 1h0m-3 5h0m-650-14h0m-1017 28h0m-13-33h0m-39 28h0m49 11h0m5 5h0m4 19h0m8 11h0m713-7h0m155 4h0m291 3h0m81-15h0m101 3h0m326-22h0m1160 32h0m-7 25h0m-2-8h0m-15-1h0m-10 7h0m-161 0h0m-16-10h0m-1237 9h0m-415 14h0m-187-10h0m-25-1h0m-32 4h0m-4-4h0m-698 9h0m-3-18h0m-6 21h0m-4-27h0m-23 28h0m-2-32h0m-39 23h0m-22 0h0m-39-12h0m-66-5h0m-2 6h0m-10-6h0m-15 25h0m-10-19h0m-22-5h0m-19 29h0m-21-8h0m-9 28h0m59-9h0m10 21h0m10-5h0m15 12h0m9-3h0m10-31h0m21 29h0m959-25h0m132 25h0m332-32h0m79 8h0m49 20h0m1212-23h0m13 0h0m27 16h0m165 6h0m1 6h0m16 7h0m-205 26h0m-33 0h0m-1351-18h0m-54 3h0m-17 8h0m-84-19h0m-117 6h0m-74 19h0m-56-17h0m-15 10h0m-957 2h0m918 50h0m183-29h0m67 17h0m11-16h0m5 4h0m29 20h0m135-25h0m161 34h0m12-26h0m38-6h0m1175 0h0m10 3h0m25 11h0m25 11h0m117 27h0m-6 22h0m-105-33h0m-20 14h0m-1206-18h0m-2 39h0m-153-35h0m-53 12h0m-3 8h0m-12-4h0m-256 0h0m-30-9h0m-9 16h0m-43-11h0m-94-1h0m-19 21h0m-63 3h0m-20-7h0m-27-4h0m-34 45h0m8-24h0m14-4h0m21 0h0m27 32h0m41-23h0m32 20h0m18-24h0m6 0h0m45 0h0m20 5h0m20 12h0m96 9h0m104-27h0m47 23h0m6-14h0m14-5h0m24 1h0m25 23h0m44 2h0m25-13h0m60-15h0m82 27h0m60-22h0m108 8h0m40 14h0m927-36h0m67 33h0m17-12h0m92 22h0m-107-3h0m-47 5h0m-12-5h0m-19 7h0m-6 20h0m-9-5h0m-1110-20h0m-204-1h0m-302 14h0m-35 2h0m-63 1h0m-4 7h0m-8 2h0m-5-20h0m-33-9h0m-57 53h0m29 7h0m12-2h0m127 13h0m10-26h0m36 15h0m10 18h0m9-29h0m1 26h0m20-33h0m18 36h0m69-2h0m43-34h0m3 9h0m17 18h0m1-15h0m2 16h0m10 6h0m0-14h0m271-2h0m18 5h0m3-6h0m70 2h0m208 51h0m-135 6h0m-3-17h0m-97 5h0m-229 1h0m-17-25h0m-8 6h0m-1 19h0m-4-14h0m-20-13h0m-16 28h0m-46-27h0m-127 23h0m-21-20h0m-21 32h0m-17-15h0m-136 9h0m71 17h0m81-2h0m102 8h0m134 12h0m3-14h0m207 18h0m63-16h0m67-3h0m72 10h0m8 8h0m38-28h0m104 17h0m-350 34h0m-6 23h0m-35-9h0m-204-6h0m-6 3h0m-72-21h0m-49 24h0m-401 7h0m-48 0h0m32 13h0m449 1h0m40 25h0m4-30h0m430 29h0m36-16h0m155 8h0m-103 45h0m-115-1h0m-279-4h0m-115-20h0m-421 2h0m-102 6h0m409 33h0m200 25h0m4-20h0m2 11h0m26-2h0m10-9h0m8-7h0m112 23h0m18 0h0m19 7h0m39-2h0m81-23h0m125 29h0m0 29h0m-23-19h0m-225 4h0m-72 3h0m-13 23h0m-39 0h0m-9-33h0m-11 8h0m-39 6h0m-168 1h0m-9-11h0m-262-3h0m-223 1h0m187 61h0m34 1h0m26 4h0m342-22h0m9-6h0m46 21h0m43 6h0m29 6h0m3-7h0m74 2h0m19 2h0m13-29h0m161 26h0m8-4h0m7-1h0m73-22h0m-96 42h0m-21 4h0m-3 6h0m-156 11h0m-50-16h0m-2 12h0m-110-15h0m-154 32h0m-55-26h0m-206 26h0m-20-33h0m0 27h0m-29 1h0m-216 31h0m56-12h0m8 15h0m9-2h0m28 9h0m41-10h0m19 12h0m5-10h0m7 12h0m59-24h0m9 6h0m6-15h0m14 10h0m149 3h0m18-3h0m19-12h0m71 0h0m3 28h0m111-25h0m252 28h0m24-34h0m56 3h0m38 28h0m-105 23h0m-25-1h0m-35 22h0m-289-11h0m-171-14h0m-110 6h0m-47 8h0m-12-12h0m-25-3h0m-76 26h0m-48-2h0m-20-22h0m-15-4h0m-28 59h0m14-19h0m3 16h0m7-4h0m5 10h0m15-27h0m57 26h0m8-5h0m3 10h0m60-27h0m48 33h0m57-39h0m6 25h0m2 4h0m264 6h0m309-33h0m22 16h0m1 1h0m1-14h0m-55 49h0m-324 14h0m-1 0h0m-358 6h0m-76-12h0m-35-1h0m-58-9h0m79 46h0m101 0h0m89 5h0m62-1h0m35-21h0m44 12h0m10 21h0m7-6h0m21-15h0m141 18h0m174-2h0m-9 27h0m-166-8h0m-4 3h0m-68 21h0m-226-19h0m-61-8h0m-13 1h0m-54 14h0m-56-20h0m-89 72h0m14-28h0m5 31h0m45-9h0m29-21h0m93-5h0m281 5h0m220 11h0m14-16h0m-212 69h0m-59-14h0m-248 19h0m-181-24h0m13 53h0m146-1h0m25 1h0m44-6h0m51 21h0m21-3h0m41-20h0m172-6h0m51 16h0m-202 17h0m-20 14h0m-144 13h0m-176 6h0m12 28h0m65-3h0m44-9h0m37-5h0m0-1h0m134 8h0m1 25h0m106-20h0m-107 46h0m-90-15h0m-23 4h0m-26-3h0m-57-7h0m3 38h0m73 7h0m47-3h0" stroke="#F8766D" stroke-width="23"/>
<path d="M1640 131h0m-126 62h0m6 25h0m-133 18h0m-81 14h0m250 22h0m19-13h0m7-1h0m218 23h0m-29 0h0m-2 7h0m-5 2h0m-442 2h0m-159 47h0m731-11h0m-275 47h0m-471 4h0m-20 18h0m373 29h0m8 2h0m258-2h0m123-26h0m-49 75h0m-315-9h0m-144 28h0m5 10h0m9-20h0m55 16h0m325-12h0m-211 71h0m-234-25h0m-22 5h0m-123 49h0m30-26h0m29-1h0m151 1h0m159 18h0m13-15h0m-119 49h0m-27-12h0m-200-1h0m205 65h0m70 20h0m-22 10h0m-138-12h0m-126 7h0m-58 19h0m-235 4h0m365 83h0m-167-26h0m-46 27h0m-223 38h0m201-8h0m100 5h0m96-19h0m0-1h0m8-1h0m23 23h0m8 4h0m25-27h0m-343 106h0m206-37h0m20 2h0m151 5h0m66 13h0m60 21h0m-22-1h0m-41 20h0m-147 2h0m-327 11h0m-100-1h0m12 43h0m1461 34h0m-37-18h0m-980-2h0m-123-10h0m-14 30h0m-20-5h0m-76-16h0m-56 33h0m174 32h0m283-9h0m886-1h0m-37 21h0m-134 15h0m-77-2h0m-711 14h0m-119-27h0m-1 25h0m-294-15h0m-72 31h0m521 23h0m691-29h0m102 17h0m-1267 39h0m8 25h0m198 16h0m959-12h0m-1026 72h0m-34-20h0m-35 3h0m-9 24h0m299 3h0m16 20h0m6-16h0m-4 33h0m761 57h0m-755 46h0m-192-22h0m-31 3h0m44 51h0m86-14h0m133 10h0m29 22h0m591-1h0m30-30h0m73 32h0m7 23h0m-27 18h0m-677-12h0m-172 47h0m681-11h0m3 2h0m7 5h0m112-29h0m13 19h0m169 55h0m-6-33h0m-115 5h0m-81 6h0m-109-1h0m-10 11h0m-16 8h0m-682-13h0m-707 7h0m-1-22h0m716 75h0m127-24h0m16-4h0m41 2h0m516-11h0m256 18h0m1151-15h0m9 49h0m-18-8h0m-7 22h0m-32 8h0m-1030-4h0m-2-7h0m0 13h0m-66-27h0m-375-1h0m-18 22h0m-13-6h0m-171 0h0m-126-18h0m-25 13h0m-63-10h0m-6-2h0m-20 26h0m-78-8h0m-797 28h0m1030 24h0m114-35h0m606 28h0m21-22h0m5-9h0m1072 2h0m2 37h0m6-14h0m0-21h0m-1 51h0m-8 16h0m-1121-26h0m-10 12h0m-524 15h0m-185-5h0m-1007 10h0m-15-17h0m-51-20h0m947 63h0m72-23h0m11 30h0m101-26h0m44 26h0m46-12h0m99 5h0m81 12h0m334-31h0m12 0h0m1030-3h0m131 31h0m1-22h0m-9 51h0m-1-1h0m-1-7h0m-129 12h0m-35 14h0m-1023-23h0m-494 18h0m-1-7h0m-52 6h0m-68-3h0m-8-19h0m-201 21h0m-47-14h0m-11-8h0m-740 23h0m-21-27h0m-6 28h0m-2-32h0m-11 19h0m-22-4h0m-43 5h0m-167-3h0m-23 9h0m-4-7h0m-23 11h0m59 30h0m19-13h0m10 21h0m3-6h0m22 13h0m32 0h0m16-21h0m908 11h0m50 4h0m34-3h0m19 6h0m63 4h0m9-6h0m55-10h0m124 17h0m104-11h0m29-21h0m5 26h0m15-33h0m1367 1h0m111 24h0m14-7h0m-26 53h0m-167 3h0m-1160-4h0m-166-22h0m-71 11h0m-82-17h0m-2-2h0m-30 29h0m-8-16h0m-79-7h0m-74 19h0m-95-9h0m165 49h0m70-7h0m16-12h0m29 20h0m10 10h0m118 0h0m151 0h0m21-9h0m1192-15h0m-1102 60h0m-66 4h0m-151 1h0m-291-17h0m-82-4h0m-6 13h0m-18 47h0m433-25h0m160 0h0m32 19h0m28-6h0m1112 5h0m25-3h0m92-3h0m-109 52h0m-70-28h0m-31 2h0m-12 1h0m-1048-5h0m-41 27h0m-236 0h0m-317 0h0m-136 40h0m38-10h0m49-22h0m376 14h0m157 17h0m18 7h0m1142-17h0m-952 31h0m-149 20h0m-203-21h0m-1 3h0m-43 25h0m-560-4h0m-14-29h0m168 67h0m614-30h0m165 17h0m31 2h0m47-1h0m47-16h0m38 21h0m1-12h0m1 2h0m-5 47h0m-54 0h0m-24 7h0m-6 4h0m-11-4h0m-96 8h0m-702-14h0m-46 15h0m0-31h0m-191 42h0m2 4h0m217 23h0m8-14h0m745-19h0m11 17h0m15 5h0m9-6h0m23-19h0m-22 41h0m-319 20h0m-496-14h0m104 44h0m602 7h0m142-3h0m31-11h0m-33 70h0m-316-5h0m-463-28h0m-121 30h0m-79 44h0m53-34h0m33 31h0m96 0h0m164-12h0m321 12h0m21-24h0m66 35h0m-6-4h0m-165 31h0m-132-4h0m-89-7h0m-28 12h0m-64-30h0m-282 7h0m-109 68h0m67-10h0m47-20h0m439 21h0m167-1h0m148 9h0m58-30h0m-361 59h0m-15 3h0m-136 3h0m-393 10h0m51 30h0m631 8h0m-305 31h0m-178-1h0m-134 26h0m39 9h0m7-1h0m136-8h0m1-9h0m16 19h0m241-9h0m6 14h0m34 8h0m-63 4h0m-59 32h0m-102-18h0m-385 54h0m21-7h0m245-10h0m30 22h0m155 1h0m64-26h0m123 50h0m-189-3h0m-143 1h0m-116-9h0m-13 5h0m-125 45h0m97-4h0m213 44h0m-227 2h0m85 54h0" stroke="#00BFC4" stroke-width="23"/>
<path d="M937 3025h0" stroke="#F8766D" stroke-width="23"/>
<path d="M1488 192h0m65 44h0m-129-17h0m-38 46h0m156-12h0m150 8h0m45 34h0m-137 13h0m-200-28h0m-84 71h0m89 5h0m160-17h0m2-14h0m53 30h0m21-22h0m121-8h0m-125 50h0m-90-2h0m-165-7h0m-3 15h0m-42 50h0m221 42h0m-87-14h0m-131-1h0m-46 9h0m327 20h0m-269 80h0m108 25h0m-230 37h0m-110-7h0m116 23h0m154-3h0m47 38h0m-108 33h0m-64-21h0m-143 17h0m244 48h0m40 28h0m-43 13h0m-62-4h0m-269-29h0m-44 40h0m197 14h0m47 15h0m177 18h0m-18-8h0m-55 27h0m-9-14h0m-176-13h0m-151 1h0m-80 5h0m364 30h0m35 35h0m10 23h0m-4-11h0m-34 28h0m-15-26h0m-171 21h0m-177 7h0m-7 3h0m94 33h0m340 23h0m-7 16h0m-264-30h0m11 43h0m137 3h0m-64 48h0m-160 39h0m75-9h0m39 6h0" stroke="#fff" stroke-width="13"/>
</g>
<text transform="translate(9,1144)" font-size="36" font-weight="bold" stroke="#000" stroke-width="0.48">c</text>
<text transform="translate(48,1163.5)" font-size="29" stroke="#000" stroke-width="0.4" text-decoration="underline">Sample</text>
<circle cx="33" cy="1196" r="5.6" fill="#F8766D"/>
<circle cx="33" cy="1227.5" r="5.6" fill="#00BFC4"/>
<text transform="translate(48,1201)" font-size="24.5" stroke="#000" stroke-width="0.34">Mouse 1</text>
<text transform="translate(48,1234)" font-size="24.5" stroke="#000" stroke-width="0.34">Mouse 2</text>
<clipPath id="ue"><path d="M983 626L1003 643L980 678L983 722L1015 734L1047 690L1070 609L1082 516L1099 435L1140 354L1198 279L1255 232L1325 186L1417 157L1510 134L1591 123L1672 117L1707 146L1724 192L1741 232L1788 244L1846 261L1892 302L1927 342L1932 377L1915 423L1880 470L1834 493L1788 504L1730 510L1684 493L1637 516L1603 551L1568 597L1533 643L1510 690L1487 736L1469 782L1475 828L1498 886L1510 944L1516 990L1504 1037L1487 1083L1452 1129L1417 1176L1371 1222L1342 1257L1331 1303L1342 1349L1360 1395L1383 1442L1417 1488L1452 1523L1487 1546L1469 1546L1429 1590L1392 1630L1362 1677L1348 1730L1343 1781L1339 1827L1331 1873L1325 1920L1323 1966L1348 2006L1417 2024L1487 2015L1545 1995L1614 1966L1660 1954L1707 1937L1753 1920L1799 1897L1846 1879L1880 1885L1915 1914L1961 1937L2008 1966L2054 2001L2100 2024L2146 2047L2181 2082L2204 2116L2216 2163L2216 2209L2198 2261L2170 2313L2135 2365L2089 2417L2042 2464L1984 2510L1927 2550L1869 2585L1811 2620L1765 2649L1718 2683L1672 2730L1614 2776L1556 2822L1487 2863L1406 2897L1325 2932L1244 2961L1163 2978L1082 2984L1001 2984L960 2973L972 2926L960 2857L937 2788L920 2718L914 2649L926 2579L943 2510L966 2440L989 2371L1012 2313L1036 2267L989 2232L995 2174L1012 2116L1036 2070L1070 2024L1105 1978L1145 1943L1157 1897L1169 1827L1180 1758L1186 1688L1180 1619L1163 1549L1128 1480L1105 1465L1059 1395L1012 1326L966 1257L920 1187L874 1118L845 1048L821 979L816 898L839 817L874 747L931 661ZM2366 944L2413 956L2436 990L2436 1025L2401 1060L2355 1106L2308 1141L2262 1176L2216 1210L2170 1257L2135 1303L2112 1361L2106 1419L2117 1465L2146 1511L2181 1546L2204 1592L2227 1630L2239 1677L2233 1723L2193 1740L2146 1769L2112 1787L2106 1758L2129 1711L2146 1665L2135 1619L2100 1590L2054 1573L2008 1590L1961 1630L1903 1677L1857 1711L1811 1732L1765 1717L1730 1688L1724 1665L1753 1636L1799 1601L1846 1546L1892 1500L1927 1453L1955 1407L1973 1349L1996 1280L2019 1210L2031 1152L2042 1095L2077 1054L2135 1037L2204 1025L2262 1002L2320 967ZM445 1536L481 1525L510 1540L519 1569L514 1598L499 1620L488 1649L481 1686L470 1722L467 1752L481 1777L503 1806L521 1832L518 1854L488 1861L452 1857L415 1850L379 1847L372 1868L364 1898L342 1920L313 1931L291 1916L269 1905L247 1905L233 1883L211 1868L178 1872L152 1865L138 1847L149 1828L174 1821L203 1817L211 1803L233 1792L255 1795L277 1814L306 1810L335 1803L357 1799L379 1795L393 1781L379 1759L386 1722L397 1686L412 1649L423 1613L430 1576ZM3239 1568L3282 1559L3320 1572L3341 1602L3348 1644L3346 1687L3329 1721L3320 1764L3318 1806L3312 1849L3312 1892L3307 1934L3290 1968L3260 1994L3239 2019L3209 2045L3175 2062L3141 2079L3098 2092L3056 2100L3013 2109L2971 2113L2945 2100L2932 2062L2928 2028L2945 2011L2971 2019L2988 2011L3000 1990L3022 1968L3030 1934L3034 1892L3043 1849L3064 1823L3081 1798L3115 1776L3150 1764L3167 1742L3175 1700L3179 1657L3192 1627L3214 1593ZM1186 412L1221 389L1255 377L1273 389L1267 412L1232 447L1186 493L1151 510L1145 481L1163 441ZM1718 2070L1765 2064L1799 2093L1828 2128L1840 2163L1811 2197L1776 2244L1730 2273L1684 2290L1637 2284L1603 2267L1614 2232L1649 2203L1695 2174L1707 2128Z" clip-rule="evenodd"/></clipPath>
<g transform="matrix(0.18722,0,0,0.16395,79.4,1652.3)" fill="none" stroke-linecap="round" stroke-linejoin="round">
<path d="M983 626L1003 643L980 678L983 722L1015 734L1047 690L1070 609L1082 516L1099 435L1140 354L1198 279L1255 232L1325 186L1417 157L1510 134L1591 123L1672 117L1707 146L1724 192L1741 232L1788 244L1846 261L1892 302L1927 342L1932 377L1915 423L1880 470L1834 493L1788 504L1730 510L1684 493L1637 516L1603 551L1568 597L1533 643L1510 690L1487 736L1469 782L1475 828L1498 886L1510 944L1516 990L1504 1037L1487 1083L1452 1129L1417 1176L1371 1222L1342 1257L1331 1303L1342 1349L1360 1395L1383 1442L1417 1488L1452 1523L1487 1546L1469 1546L1429 1590L1392 1630L1362 1677L1348 1730L1343 1781L1339 1827L1331 1873L1325 1920L1323 1966L1348 2006L1417 2024L1487 2015L1545 1995L1614 1966L1660 1954L1707 1937L1753 1920L1799 1897L1846 1879L1880 1885L1915 1914L1961 1937L2008 1966L2054 2001L2100 2024L2146 2047L2181 2082L2204 2116L2216 2163L2216 2209L2198 2261L2170 2313L2135 2365L2089 2417L2042 2464L1984 2510L1927 2550L1869 2585L1811 2620L1765 2649L1718 2683L1672 2730L1614 2776L1556 2822L1487 2863L1406 2897L1325 2932L1244 2961L1163 2978L1082 2984L1001 2984L960 2973L972 2926L960 2857L937 2788L920 2718L914 2649L926 2579L943 2510L966 2440L989 2371L1012 2313L1036 2267L989 2232L995 2174L1012 2116L1036 2070L1070 2024L1105 1978L1145 1943L1157 1897L1169 1827L1180 1758L1186 1688L1180 1619L1163 1549L1128 1480L1105 1465L1059 1395L1012 1326L966 1257L920 1187L874 1118L845 1048L821 979L816 898L839 817L874 747L931 661ZM2366 944L2413 956L2436 990L2436 1025L2401 1060L2355 1106L2308 1141L2262 1176L2216 1210L2170 1257L2135 1303L2112 1361L2106 1419L2117 1465L2146 1511L2181 1546L2204 1592L2227 1630L2239 1677L2233 1723L2193 1740L2146 1769L2112 1787L2106 1758L2129 1711L2146 1665L2135 1619L2100 1590L2054 1573L2008 1590L1961 1630L1903 1677L1857 1711L1811 1732L1765 1717L1730 1688L1724 1665L1753 1636L1799 1601L1846 1546L1892 1500L1927 1453L1955 1407L1973 1349L1996 1280L2019 1210L2031 1152L2042 1095L2077 1054L2135 1037L2204 1025L2262 1002L2320 967ZM445 1536L481 1525L510 1540L519 1569L514 1598L499 1620L488 1649L481 1686L470 1722L467 1752L481 1777L503 1806L521 1832L518 1854L488 1861L452 1857L415 1850L379 1847L372 1868L364 1898L342 1920L313 1931L291 1916L269 1905L247 1905L233 1883L211 1868L178 1872L152 1865L138 1847L149 1828L174 1821L203 1817L211 1803L233 1792L255 1795L277 1814L306 1810L335 1803L357 1799L379 1795L393 1781L379 1759L386 1722L397 1686L412 1649L423 1613L430 1576ZM3239 1568L3282 1559L3320 1572L3341 1602L3348 1644L3346 1687L3329 1721L3320 1764L3318 1806L3312 1849L3312 1892L3307 1934L3290 1968L3260 1994L3239 2019L3209 2045L3175 2062L3141 2079L3098 2092L3056 2100L3013 2109L2971 2113L2945 2100L2932 2062L2928 2028L2945 2011L2971 2019L2988 2011L3000 1990L3022 1968L3030 1934L3034 1892L3043 1849L3064 1823L3081 1798L3115 1776L3150 1764L3167 1742L3175 1700L3179 1657L3192 1627L3214 1593ZM1186 412L1221 389L1255 377L1273 389L1267 412L1232 447L1186 493L1151 510L1145 481L1163 441ZM1718 2070L1765 2064L1799 2093L1828 2128L1840 2163L1811 2197L1776 2244L1730 2273L1684 2290L1637 2284L1603 2267L1614 2232L1649 2203L1695 2174L1707 2128Z" fill="#F8766D" fill-rule="evenodd"/>
<g clip-path="url(#ue)"><path d="M1199 1656L1303 1632L1355 1668L1365 1763L1344 1858L1313 1953L1292 2048L1251 2072L1219 2001L1209 1906L1188 1811ZM1428 2191L1480 2179L1563 2227L1625 2274L1709 2286L1792 2262L1854 2310L1917 2345L2000 2393L2073 2405L2052 2452L1948 2524L1875 2583L1792 2643L1730 2690L1667 2750L1605 2803L1553 2839L1511 2785L1480 2690L1459 2595L1438 2500L1417 2405L1412 2298Z" fill="#619CFF"/><path d="M1219 1335L1292 1299L1344 1359L1376 1454L1459 1525L1480 1585L1438 1620L1376 1632L1313 1620L1251 1573L1219 1501L1209 1418ZM1417 2048L1480 2013L1563 1977L1646 1941L1709 1918L1750 1858L1813 1858L1875 1894L1938 1929L2000 1965L2063 2001L2136 2036L2198 2084L2219 2155L2208 2215L2177 2274L2136 2334L2094 2381L2042 2417L2000 2429L1959 2381L1896 2334L1844 2286L1802 2239L1792 2191L1834 2143L1823 2096L1782 2048L1730 2013L1688 2036L1646 2084L1584 2108L1521 2132L1459 2143L1417 2108ZM1959 1323L2000 1335L1995 1442L1979 1513L2031 1549L2083 1537L2063 1561L2011 1573L1959 1561L1948 1501L1959 1418Z" fill="#00BA38"/></g>
<path d="M983 626L1003 643L980 678L983 722L1015 734L1047 690L1070 609L1082 516L1099 435L1140 354L1198 279L1255 232L1325 186L1417 157L1510 134L1591 123L1672 117L1707 146L1724 192L1741 232L1788 244L1846 261L1892 302L1927 342L1932 377L1915 423L1880 470L1834 493L1788 504L1730 510L1684 493L1637 516L1603 551L1568 597L1533 643L1510 690L1487 736L1469 782L1475 828L1498 886L1510 944L1516 990L1504 1037L1487 1083L1452 1129L1417 1176L1371 1222L1342 1257L1331 1303L1342 1349L1360 1395L1383 1442L1417 1488L1452 1523L1487 1546L1469 1546L1429 1590L1392 1630L1362 1677L1348 1730L1343 1781L1339 1827L1331 1873L1325 1920L1323 1966L1348 2006L1417 2024L1487 2015L1545 1995L1614 1966L1660 1954L1707 1937L1753 1920L1799 1897L1846 1879L1880 1885L1915 1914L1961 1937L2008 1966L2054 2001L2100 2024L2146 2047L2181 2082L2204 2116L2216 2163L2216 2209L2198 2261L2170 2313L2135 2365L2089 2417L2042 2464L1984 2510L1927 2550L1869 2585L1811 2620L1765 2649L1718 2683L1672 2730L1614 2776L1556 2822L1487 2863L1406 2897L1325 2932L1244 2961L1163 2978L1082 2984L1001 2984L960 2973L972 2926L960 2857L937 2788L920 2718L914 2649L926 2579L943 2510L966 2440L989 2371L1012 2313L1036 2267L989 2232L995 2174L1012 2116L1036 2070L1070 2024L1105 1978L1145 1943L1157 1897L1169 1827L1180 1758L1186 1688L1180 1619L1163 1549L1128 1480L1105 1465L1059 1395L1012 1326L966 1257L920 1187L874 1118L845 1048L821 979L816 898L839 817L874 747L931 661ZM2366 944L2413 956L2436 990L2436 1025L2401 1060L2355 1106L2308 1141L2262 1176L2216 1210L2170 1257L2135 1303L2112 1361L2106 1419L2117 1465L2146 1511L2181 1546L2204 1592L2227 1630L2239 1677L2233 1723L2193 1740L2146 1769L2112 1787L2106 1758L2129 1711L2146 1665L2135 1619L2100 1590L2054 1573L2008 1590L1961 1630L1903 1677L1857 1711L1811 1732L1765 1717L1730 1688L1724 1665L1753 1636L1799 1601L1846 1546L1892 1500L1927 1453L1955 1407L1973 1349L1996 1280L2019 1210L2031 1152L2042 1095L2077 1054L2135 1037L2204 1025L2262 1002L2320 967ZM445 1536L481 1525L510 1540L519 1569L514 1598L499 1620L488 1649L481 1686L470 1722L467 1752L481 1777L503 1806L521 1832L518 1854L488 1861L452 1857L415 1850L379 1847L372 1868L364 1898L342 1920L313 1931L291 1916L269 1905L247 1905L233 1883L211 1868L178 1872L152 1865L138 1847L149 1828L174 1821L203 1817L211 1803L233 1792L255 1795L277 1814L306 1810L335 1803L357 1799L379 1795L393 1781L379 1759L386 1722L397 1686L412 1649L423 1613L430 1576ZM3239 1568L3282 1559L3320 1572L3341 1602L3348 1644L3346 1687L3329 1721L3320 1764L3318 1806L3312 1849L3312 1892L3307 1934L3290 1968L3260 1994L3239 2019L3209 2045L3175 2062L3141 2079L3098 2092L3056 2100L3013 2109L2971 2113L2945 2100L2932 2062L2928 2028L2945 2011L2971 2019L2988 2011L3000 1990L3022 1968L3030 1934L3034 1892L3043 1849L3064 1823L3081 1798L3115 1776L3150 1764L3167 1742L3175 1700L3179 1657L3192 1627L3214 1593ZM1186 412L1221 389L1255 377L1273 389L1267 412L1232 447L1186 493L1151 510L1145 481L1163 441ZM1718 2070L1765 2064L1799 2093L1828 2128L1840 2163L1811 2197L1776 2244L1730 2273L1684 2290L1637 2284L1603 2267L1614 2232L1649 2203L1695 2174L1707 2128Z" stroke="#fff" stroke-width="17"/>
<path d="M1703 158h0m-2-5h0m-21-17h0m-5-6h0m-6-7h0m-66 9h0m-2 4h0m-49 3h0m-4-3h0m-6 6h0m-15-1h0m-11 2h0m-4 3h0m-4 2h0m-7-3h0m-1 1h0m-19 5h0m-50 8h0m-89 32h0m6-4h0m17 1h0m3-4h0m4-1h0m3-7h0m6 4h0m3 0h0m1-2h0m4-2h0m10-7h0m6-2h0m16-4h0m308 58h0m-4 3h0m-1-8h0m-4-6h0m-6-8h0m-402 12h0m-1-6h0m-1-3h0m-13 16h0m-6 0h0m-2 7h0m-6 3h0m-5-3h0m-4 0h0m-3 8h0m-1-5h0m-54 44h0m5 2h0m0-3h0m1-3h0m2 6h0m16-21h0m9 0h0m1-1h0m10-8h0m1 2h0m481-2h0m11-4h0m5 0h0m8 9h0m17 5h0m25 6h0m3-3h0m2-1h0m12 9h0m21 10h0m6-3h0m39 42h0m-1-3h0m-2-4h0m-4 6h0m-11-13h0m-3-1h0m-8-14h0m-8-6h0m-2 2h0m-645 9h0m-3 7h0m-1-4h0m-8 8h0m-2 1h0m-6 13h0m-33 34h0m5-12h0m0 2h0m2 1h0m732-18h0m16 21h0m5-5h0m2 0h0m0 1h0m11 32h0m-2 7h0m-6 0h0m-1 9h0m-631-1h0m-4-14h0m-2 9h0m-14-14h0m-18 2h0m-5-8h0m-2 4h0m-1-3h0m-5 8h0m-8 1h0m-11 7h0m-2 1h0m-13 1h0m-14 12h0m-13 4h0m-25-39h0m-5 9h0m-1-5h0m-2 12h0m-34 62h0m1-6h0m7-3h0m35 8h0m13-13h0m13-23h0m101 2h0m6 1h0m628 6h0m-23 36h0m-8 6h0m-4 8h0m-1-4h0m-2 5h0m-22 5h0m-3 5h0m-1 5h0m-13 0h0m-597-20h0m-1 2h0m-6 4h0m-82-13h0m-4 2h0m-5 12h0m-38 8h0m-7-1h0m-2 19h0m0 19h0m4-16h0m3 3h0m33-8h0m1 4h0m7 26h0m37-10h0m10 1h0m15-7h0m10-12h0m5-7h0m407 23h0m2 1h0m10-3h0m2-4h0m15-9h0m2 2h0m20-2h0m3-3h0m12 3h0m68 6h0m33-8h0m12 4h0m2-3h0m-193 35h0m-5 4h0m-5 0h0m-9 19h0m0-6h0m-8 12h0m-2-2h0m-431-27h0m-7-2h0m-56 4h0m-1 0h0m-3 32h0m-1-17h0m-4 22h0m1 18h0m1-3h0m472 8h0m12 3h0m7-11h0m6-14h0m6-4h0m-54 68h0m-449-18h0m-1 8h0m-3-10h0m-2 30h0m-2-3h0m-1-13h0m-140 49h0m6 8h0m6-8h0m2-13h0m4 7h0m31-12h0m2 11h0m3-20h0m70 30h0m3-3h0m0-6h0m2 7h0m7-23h0m451-8h0m1 0h0m-25 42h0m-9 12h0m-426-7h0m-6-8h0m-3 12h0m0-6h0m-15 27h0m-106-33h0m0 5h0m-3 5h0m0 1h0m-3 3h0m-5 0h0m-2 5h0m-6 8h0m-1 0h0m-3 12h0m-33 40h0m2-6h0m2 0h0m22-29h0m74 1h0m14 16h0m4-3h0m14 6h0m26-12h0m5-10h0m429 28h0m11-25h0m0 14h0m4-14h0m-19 37h0m0 7h0m-1 6h0m-579-13h0m-12 22h0m-1-17h0m-11 26h0m-17 38h0m5-12h0m5 1h0m2-5h0m4-8h0m608-2h0m15 65h0m-640-18h0m-1-3h0m-2 15h0m0-10h0m-16 59h0m1-16h0m2 20h0m3-31h0m660 5h0m1 24h0m5 1h0m868 38h0m-1538 16h0m0 1h0m8 13h0m5 8h0m1 1h0m663 0h0m2-21h0m2 9h0m1 0h0m782 12h0m22-8h0m8-5h0m3-7h0m29-6h0m65 5h0m13 50h0m-2-19h0m-10 21h0m0 13h0m-127-34h0m-22 12h0m-31 14h0m-1-2h0m-34 9h0m-17 3h0m-19-1h0m-661-37h0m-3 4h0m-2 19h0m-2-1h0m-4 8h0m-3 4h0m-642 2h0m0-19h0m-2 21h0m-3-8h0m-3-13h0m10 24h0m6 6h0m1-2h0m613 32h0m8-5h0m1 0h0m1-1h0m1-17h0m0 15h0m1-5h0m2-7h0m5 1h0m580 16h0m3-9h0m1 8h0m31-17h0m0-7h0m5 8h0m35-10h0m231 26h0m1-6h0m9-6h0m1-7h0m7 2h0m10-10h0m-63 58h0m-9 10h0m-1-7h0m-1-4h0m-5 11h0m-2 2h0m-251-34h0m-8 3h0m-4-3h0m-2 11h0m0-8h0m-8 11h0m-579-14h0m-6 12h0m-579 16h0m-4 0h0m17 29h0m6 10h0m4-7h0m8 15h0m505-12h0m1-2h0m3 8h0m1-9h0m7-1h0m607 13h0m4-8h0m0-17h0m2 10h0m0-6h0m232 19h0m18-17h0m10-11h0m7 1h0m-63 47h0m-8 0h0m-1 7h0m-1-8h0m0 5h0m-9 15h0m-196-25h0m-619-2h0m-9 10h0m-464 23h0m-14-3h0m0-7h0m-4-17h0m-4-3h0m32 54h0m3-3h0m8 12h0m0 5h0m377-4h0m7-7h0m8-4h0m664 12h0m3-15h0m0 15h0m144 4h0m2-4h0m10-9h0m0 5h0m1-2h0m8-9h0m4 2h0m10-15h0m12-5h0m-53 57h0m-5-10h0m-4 12h0m-3 8h0m-131-17h0m-2 10h0m-4 8h0m-1-2h0m-676-23h0m-2 21h0m-3 9h0m-6 3h0m-329-3h0m-2 0h0m-5 0h0m-13-23h0m-1-10h0m-4 1h0m20 43h0m17 27h0m5 7h0m309-31h0m2 12h0m0-7h0m3 6h0m0 7h0m1 13h0m2-26h0m663 16h0m2 3h0m3-12h0m3-14h0m119 22h0m5-14h0m7 4h0m-19 31h0m-1 6h0m-2 13h0m-2 2h0m-1-8h0m-1 8h0m-113-27h0m-1 9h0m-668-11h0m-277 39h0m-6-3h0m-6-11h0m-10-9h0m30 38h0m3-6h0m0 14h0m2 6h0m0-9h0m2 7h0m5-5h0m1032-17h0m5 6h0m-5 61h0m-1-7h0m-3-7h0m-999 9h0m-1 11h0m-1-10h0m-4-2h0m-5-10h0m17 29h0m17 20h0m17 9h0m4 0h0m0-3h0m1 6h0m2 0h0m779-6h0m7-1h0m9-19h0m3-3h0m2 0h0m5-2h0m157 14h0m6 19h0m20 38h0m-2-14h0m-1-1h0m-3 6h0m-3-5h0m-214-8h0m-16 19h0m-733 2h0m-5-14h0m-3 0h0m0-7h0m-7-2h0m-1-9h0m-2-3h0m-695 69h0m27-12h0m2 3h0m1 19h0m2-23h0m2 5h0m1 0h0m15 7h0m8 10h0m663-22h0m1 0h0m1-1h0m3 10h0m4 0h0m675 12h0m0-4h0m8 1h0m3-5h0m0 3h0m1-10h0m4-4h0m2 1h0m4-8h0m5-5h0m1 7h0m27 21h0m1 2h0m1 3h0m234-34h0m17 15h0m8 8h0m3-1h0m21-1h0m2 13h0m1109 20h0m-2 17h0m-3-10h0m0-9h0m-7-6h0m-49 8h0m-12 9h0m-1015 0h0m-10-9h0m-4 1h0m-1 16h0m-3 3h0m-7-3h0m-2-23h0m-1 14h0m-61 2h0m-19-13h0m-5 1h0m-14-9h0m-12 4h0m-9-2h0m-9-5h0m-20 6h0m-11 2h0m-46 26h0m-94-32h0m-4 13h0m-5 0h0m-6 3h0m-9 6h0m-12-21h0m-4 3h0m-2-2h0m-2 4h0m-13 19h0m-8 7h0m-2-7h0m-6 1h0m-625 6h0m-1-18h0m-6 5h0m-1-1h0m-4-14h0m-664-3h0m-1 13h0m-23 3h0m-4-4h0m-5 12h0m-4-24h0m-2 29h0m-44 22h0m2-8h0m0 1h0m35 12h0m5 9h0m11 6h0m0-31h0m1 10h0m3 1h0m1 8h0m1-16h0m6-11h0m3 3h0m2 1h0m687 26h0m2 5h0m0-17h0m0-7h0m4 14h0m577 10h0m23-16h0m3 0h0m2 3h0m10-16h0m0 3h0m2-2h0m3 3h0m1 14h0m2 0h0m17-9h0m5 0h0m9 0h0m3-7h0m2-8h0m78 36h0m5 3h0m15-8h0m15-22h0m170-6h0m6 13h0m0-16h0m3 32h0m1-14h0m3 18h0m50-27h0m13 7h0m6-8h0m5 3h0m4 25h0m2-9h0m986-16h0m92 23h0m4-7h0m3-12h0m0-13h0m19 9h0m1-1h0m3 8h0m0 2h0m1 13h0m4-9h0m2 5h0m-30 16h0m-1 17h0m-1 2h0m-116-5h0m0-5h0m-2-7h0m-957 5h0m-3 24h0m0-8h0m-5-25h0m-2 31h0m-1-18h0m-4-10h0m-1 9h0m-67-11h0m-225-1h0m-6 0h0m-22 23h0m-5 2h0m-87-20h0m-2-7h0m-6 12h0m-16 12h0m-6 3h0m-4-2h0m-12-21h0m-1-5h0m-2 13h0m-6 19h0m-3-13h0m-1 16h0m-3-14h0m-3 2h0m-9 8h0m0 4h0m-185-17h0m-120 4h0m-31 14h0m-24-32h0m-3 8h0m-16 6h0m-2-17h0m-158 0h0m-2 3h0m-3 11h0m-1-7h0m-707-7h0m0 12h0m-3 21h0m-2-16h0m-1 15h0m0 5h0m-2-25h0m-4 12h0m-5 13h0m-6-1h0m-31-36h0m-4 6h0m-15 28h0m0-1h0m-3 3h0m-4 18h0m7-1h0m4-7h0m2-5h0m38 37h0m8-11h0m2-1h0m2 12h0m4-33h0m2 3h0m5 3h0m713 26h0m3-2h0m0-8h0m1 2h0m283-1h0m120 3h0m149-22h0m27 10h0m1 7h0m14 7h0m14 1h0m3-2h0m4 3h0m59-27h0m2-7h0m0 8h0m11-9h0m6 0h0m258 30h0m0-15h0m74 11h0m3-13h0m1 14h0m2 10h0m3-32h0m3 13h0m1 5h0m0-23h0m1 12h0m953 13h0m1-3h0m3-17h0m123 15h0m1-13h0m1 24h0m8-4h0m3-1h0m0-8h0m1-19h0m10 11h0m-15 56h0m0 9h0m-1-9h0m-2 1h0m-2 0h0m-1-23h0m-1 29h0m-2 4h0m-1-3h0m-5 1h0m-123-25h0m-11 20h0m-963-31h0m-5 7h0m-2 0h0m-17 9h0m0-10h0m-4 5h0m0 9h0m-9 0h0m0 1h0m-10 11h0m-3-2h0m0-7h0m-19-17h0m-4-3h0m-4 13h0m-1 9h0m-11 9h0m-2 5h0m-303-39h0m-625 22h0m-3 10h0m-720-7h0m-1-18h0m-7-1h0m-6 5h0m-58 15h0m-4 5h0m-1-6h0m-1 14h0m0-19h0m2 55h0m5-31h0m2 34h0m6-30h0m53-8h0m3 11h0m4 14h0m1-16h0m0 2h0m10 20h0m706-5h0m1 2h0m241-10h0m46-13h0m169 33h0m481-30h0m18-3h0m15-1h0m959 26h0m4-4h0m10-4h0m11 5h0m7-8h0m5-3h0m2-1h0m7 1h0m141 7h0m13-14h0m3 3h0m2 1h0m-7 29h0m-4 9h0m0-6h0m-4-1h0m-10 21h0m0-3h0m-205-3h0m-6 6h0m-3-3h0m-1-4h0m-2 18h0m-1-2h0m-3-3h0m-1454 3h0m-91-1h0m-337-32h0m-685 21h0m-9-7h0m-1-12h0m-1 14h0m-3-14h0m-2 19h0m-1-15h0m-1 15h0m-18-14h0m0 5h0m-2 21h0m-8-5h0m-6 4h0m-21 0h0m-3-9h0m-7 4h0m-15 4h0m-1-15h0m-4 1h0m-9-10h0m-6-1h0m-3 31h0m-2-17h0m-8 2h0m0-17h0m-16 5h0m-1 4h0m-9-1h0m-3-1h0m-3-3h0m-1 10h0m-10-6h0m-7 4h0m-8 2h0m-1-2h0m-5-3h0m-2-4h0m-11 9h0m-1-12h0m-1 10h0m-14 1h0m-7 6h0m0-7h0m0 5h0m-3 1h0m-1-6h0m-7-3h0m0 2h0m-6-1h0m-2-4h0m-9-4h0m-4 5h0m-1-13h0m-3 0h0m-1 20h0m-8 7h0m-13-1h0m-8-1h0m0-1h0m-8 0h0m-18 7h0m-7 1h0m-1-4h0m0 6h0m-1 2h0m-7-3h0m-8 17h0m8 9h0m1-4h0m3-15h0m27 18h0m22 6h0m2-7h0m1 6h0m1-4h0m3 10h0m5-11h0m1 12h0m6 2h0m6 6h0m0-18h0m9 19h0m2-18h0m4-1h0m31 13h0m10-3h0m5-4h0m9 7h0m6 1h0m2-12h0m12-9h0m35 11h0m63-24h0m2 5h0m11 3h0m8-3h0m2-2h0m18 6h0m14 0h0m13-2h0m11-2h0m661 19h0m1 4h0m1-15h0m1 21h0m292-12h0m220-14h0m136 0h0m1240 2h0m242-5h0m-259 60h0m-1-10h0m-1165-6h0m-389 27h0m-46-30h0m-275 8h0m-6 9h0m-809-14h0m-3 13h0m-1-1h0m-21 13h0m-4 2h0m-28-16h0m-20-18h0m-4 13h0m-17-7h0m-1-1h0m-2 9h0m-7-12h0m912 67h0m0-21h0m1 19h0m4-19h0m2-4h0m155 33h0m24-38h0m38 25h0m170-7h0m13 17h0m1472-8h0m2-9h0m5-13h0m249 19h0m8-10h0m2-15h0m-21 43h0m-15 18h0m-8-5h0m-13 23h0m-216-30h0m-4 16h0m-7 10h0m-2 0h0m-2-8h0m-1 8h0m-4-3h0m-1588 4h0m-31-3h0m-57 4h0m-18-21h0m-187 6h0m0-8h0m-8 13h0m-15 12h0m-19 32h0m12-27h0m1 9h0m248 5h0m9 2h0m3-4h0m5 2h0m28 9h0m8 2h0m8 0h0m9 3h0m23-3h0m0 5h0m5-2h0m1506-11h0m11 3h0m2 4h0m6 0h0m8-2h0m1 0h0m2 2h0m14-8h0m4-7h0m6-9h0m45 31h0m1 2h0m12-1h0m28-3h0m8-9h0m1-1h0m16-10h0m9-5h0m2 10h0m80 17h0m22-24h0m12-9h0m3-2h0m-41 41h0m-33 10h0m-2-3h0m-5 3h0m-4 8h0m-4-2h0m-2 10h0m-1-10h0m-4 4h0m-1 2h0m-3 7h0m-4-5h0m-36 12h0m-27-37h0m-32 16h0m-11-15h0m-18 18h0m-2-5h0m-7 2h0m-12 5h0m-3-2h0m-22-6h0m-23 12h0m-4-22h0m0-3h0m-3 23h0m-1145 7h0m-4 2h0m-8-13h0m-37-1h0m-6-2h0m-6 2h0m-10 0h0m-7 5h0m-4 6h0m-650-19h0m-14 17h0m-2 5h0m-27 45h0m6-6h0m12-25h0m0 7h0m664 21h0m6-28h0m100-4h0m5 6h0m8 18h0m1-7h0m1133-1h0m17-2h0m3 6h0m0 4h0m14-2h0m1-6h0m7 3h0m5 0h0m9-2h0m8 0h0m0 3h0m2-7h0m20-4h0m29-1h0m7-7h0m-1385 76h0m-1-15h0m-4 6h0m-3 5h0m0 4h0m-663-18h0m-4 7h0m-1 6h0m-4 1h0m4 6h0m631 26h0m8 3h0m-45 28h0m-1 3h0m-8 6h0m-578 9h0m-10 2h0m-9-13h0m-3-19h0m-4 11h0m33 34h0m566-6h0m152 29h0m20-14h0m5 6h0m14-12h0m7-9h0m2 3h0m388 20h0m4-9h0m6-11h0m1-5h0m1 1h0m1-2h0m-30 52h0m-2 15h0m-3 6h0m-1-11h0m-1 9h0m-6-1h0m-1109-28h0m-3-4h0m-2 9h0m-1-4h0m0 2h0m-29 56h0m4-7h0m3-10h0m3-2h0m1132 5h0m-20 31h0m-15 9h0m-4 10h0m-4-1h0m-3 5h0m-2-6h0m-6 17h0m-1094-19h0m-5 9h0m-14 38h0m1102-15h0m1 1h0m-1118 52h0m-6 6h0m-10 38h0m10-16h0m-14 40h0m-1 3h0m-1-3h0m-17 62h0m6-17h0m1 7h0m1 6h0m-11 48h0m-7 6h0m1 39h0m2-33h0m2 32h0m-1 38h0m6 11h0m3 1h0m1 4h0m2 1h0m3 10h0m3 16h0m3 26h0m12 19h0m3 17h0m2 14h0m540 4h0m18-3h0m7-9h0m-25 13h0m-13 3h0m-13 15h0m-1 1h0m-6-4h0m-1 9h0m-2-1h0m-4-4h0m-3 8h0m-10 5h0m-6-4h0m-5 4h0m-468-24h0m1 39h0m3 24h0m2-17h0m3-3h0m358 26h0m12-8h0m9-6h0m2-2h0m2 4h0m26-13h0m-92 42h0m-8 2h0m-1 2h0m-42 7h0m-12 10h0m-12-1h0m-7 5h0m-19 0h0m-215-39h0m-1 31h0m-2-8h0m80 32h0m1-2h0m12 0h0m5-1h0m2 0h0m2 2h0m9-1h0m9 0h0m34-1h0m7-2h0m3-2h0m4 7h0m20-7h0m12 2h0m1-6h0m3 1h0m3-1h0m9 1h0m6-3h0m5 0h0m-267 63h0" stroke="#F8766D" stroke-width="25"/>
<path d="M2094 1549h0m42 30h0m-21-18h0m-146 18h0m-21 6h0m-26 12h0m-26 6h0m250 5h0m-795 71h0m-158 40h0m3-27h0m148 8h0m2-9h0m8-4h0m495 5h0m292 23h0m-16 18h0m-784-10h0m0 4h0m-5 25h0m-2 25h0m62 57h0m-20-12h0m-56 42h0m3-2h0m1-2h0m41-2h0m-31 60h0m-11-36h0m-8 30h0m0-20h0m-2 11h0m0 26h0m-157 179h0m6 7h0m5-1h0m4-12h0m0-6h0m15 20h0m2-10h0m10 13h0m11-13h0m18 4h0m10-20h0m5-3h0m73-2h0m2 20h0m12 9h0m52 39h0m-2-11h0m-5-17h0m0 22h0m-2-10h0m-1 1h0m-2 16h0m-10-25h0m-23 25h0m-27 5h0m-31-17h0m-19 0h0m-14-9h0m-12 18h0m-1-4h0m-26-7h0m-14-6h0m-8 6h0m-3-8h0m-5-5h0m0 8h0m-1-8h0m-9-1h0m-1 5h0m-7 25h0m-132-34h0m129 54h0m45 4h0m9-9h0m5-4h0m8 6h0m6-1h0m3 23h0m3-16h0m12-17h0m7 26h0m0-20h0m7 0h0m16 13h0m17-21h0m81 12h0m3-3h0m1 5h0m4-2h0m1-12h0m3 22h0m9-4h0m12 17h0m4-34h0m1 17h0m15 13h0m0 3h0m2 4h0m14-4h0m26 17h0m-6-8h0m-7-2h0m-26 1h0m-19 8h0m0-2h0m-1 7h0m-25-5h0m-3 6h0m-20-15h0m-2 19h0m-51 15h0m-27-18h0m-2 15h0m-4-14h0m-2 10h0m0-12h0m-17-9h0m-10 18h0m-2-7h0m-25 13h0m-2-7h0m-17-19h0m-2 10h0m-3 5h0m-18 2h0m-2-2h0m-9 15h0m0-2h0m-99 18h0m16-2h0m52 1h0m1 9h0m1 16h0m8-25h0m2 10h0m2-5h0m3-4h0m28 14h0m13-1h0m13-21h0m4-3h0m2 7h0m3 5h0m4 14h0m16-21h0m22-3h0m3 2h0m5 2h0m17 1h0m5-3h0m92 24h0m10-6h0m1 12h0m0-26h0m2 3h0m4 11h0m0-15h0m5 17h0m0-23h0m46 35h0m32 2h0m111-9h0m6-16h0m1 22h0m0-18h0m150 20h0m-15 6h0m-6 1h0m-9 9h0m-6-4h0m-14 7h0m-23 1h0m-16-3h0m-7 0h0m-13-1h0m-10 3h0m-156 8h0m-8 14h0m-45-15h0m-7-4h0m0 1h0m-7-1h0m0-16h0m-8 4h0m-9 27h0m-105 0h0m-10 1h0m-9-4h0m0 7h0m-5 0h0m-7-17h0m-1 9h0m-21 8h0m-1-24h0m-5 15h0m-1 0h0m-2 0h0m-4-17h0m-6 21h0m-1-8h0m-23-5h0m-11 9h0m-7 0h0m-1-10h0m-12-12h0m-10-5h0m-3 7h0m-1 19h0m-8-20h0m-2 3h0m-2-6h0m-47 48h0m49 13h0m4-24h0m6 18h0m1-16h0m26-3h0m6 13h0m0-11h0m2 26h0m7-20h0m33-7h0m29 9h0m4 3h0m1-5h0m16 25h0m19-32h0m28 3h0m1 27h0m10-6h0m26-10h0m4 20h0m13-14h0m29-10h0m6 16h0m2-28h0m82 71h0m-29-4h0m-2 4h0m-24 3h0m-15-21h0m-7-10h0m-23 5h0m-5 28h0m-10-17h0m-60 6h0m-5-9h0m-8-7h0m-11 2h0m-13 22h0m-66-11h0m-3 17h0m-7-27h0m-4-11h0m-6 2h0m-5 23h0m-76-7h0m-11 47h0m12-22h0m3 23h0m6-4h0m77-22h0m23 1h0m3 18h0m39-2h0m6 7h0m5 1h0m6-9h0m7 21h0m8-30h0m16-2h0m1 3h0m3 29h0m1-23h0m0-1h0m36 25h0m1-31h0m1 2h0m11 22h0m2-29h0m2 25h0m6 8h0m9-30h0m4 9h0m2-1h0m14 16h0m2 6h0m10-1h0m10-16h0m1 2h0m2-13h0m4-8h0m2 1h0m8 5h0m4-5h0m39 20h0m5-6h0m8 3h0m550 31h0m0-6h0m-3 8h0m-3 3h0m-4-3h0m-8 2h0m-1 8h0m-10 10h0m-5-4h0m-3 9h0m-3 1h0m-1-4h0m-525-2h0m-11-30h0m0 3h0m-8 21h0m-7-4h0m-36-9h0m-4 9h0m-2-12h0m-10-9h0m0 12h0m-1 4h0m-2 9h0m-3-3h0m-16 0h0m0 4h0m-3-23h0m-10 12h0m-4 3h0m-3 7h0m-3-17h0m-2 2h0m-12 14h0m-11 12h0m-12-17h0m-17 17h0m-3-19h0m-2-10h0m-13-1h0m-23 9h0m-4 15h0m-37 4h0m-18-12h0m-12-7h0m-22 16h0m-28-5h0m0 4h0m-11 5h0m-14-19h0m-3-2h0m-6-9h0m-3-1h0m-49 44h0m46 21h0m7-1h0m7 7h0m7-26h0m6-8h0m2 14h0m7-5h0m4 24h0m12 4h0m4-27h0m17-8h0m28 4h0m8 9h0m8 16h0m6 3h0m0-14h0m6-1h0m7-2h0m48 19h0m11-30h0m1 26h0m11-13h0m5 5h0m16-10h0m11 18h0m119-33h0m43 9h0m5 0h0m451 28h0m6-8h0m3-4h0m6 1h0m15-9h0m5-11h0m9-3h0m-57 43h0m-1-6h0m-12 16h0m-7 1h0m-3 7h0m-10 8h0m-6-3h0m-397-12h0m-6-8h0m-5-4h0m-88 16h0m-1 16h0m-34-5h0m-16-19h0m-19-6h0m-6-4h0m-9 6h0m-7 0h0m-39-9h0m-1 2h0m-63 35h0m-13-25h0m-8 25h0m-8-6h0m-20 5h0m-59-30h0m-9 26h0m-12-15h0m-100 15h0m36 28h0m90 3h0m74 10h0m7-27h0m1 25h0m3-27h0m1 27h0m1-28h0m6 12h0m5-8h0m44 14h0m4 7h0m33-17h0m88 11h0m10 3h0m1-23h0m13 13h0m19-9h0m50 15h0m27 11h0m0-28h0m1 28h0m6-31h0m318 35h0m8-4h0m6-3h0m4 3h0m7-7h0m2 4h0m15-12h0m14-8h0m10-4h0m-75 45h0m-8-4h0m-11 4h0m-28 25h0m-9 4h0m-5-3h0m-250-12h0m-18-22h0m-6 32h0m-2-5h0m-5-18h0m-1-9h0m-6 15h0m-13 5h0m-2 14h0m-27 2h0m-67-9h0m-10-5h0m-17 2h0m-2 7h0m-17-21h0m-29 23h0m0 3h0m-6-18h0m-117 2h0m-3 4h0m-14 7h0m-2-12h0m-3 0h0m-6-9h0m-7 2h0m-15 36h0m21 21h0m12-15h0m5-14h0m1 23h0m5-24h0m4 30h0m5-6h0m8 2h0m4 0h0m10-21h0m3 22h0m2 9h0m0-25h0m9 26h0m72-27h0m0 23h0m4-32h0m2-2h0m8 18h0m2-17h0m8 7h0m11-5h0m2 9h0m7 16h0m4-5h0m5-22h0m3 3h0m7-2h0m1 31h0m11-32h0m67 8h0m18-7h0m3 17h0m4 18h0m4 0h0m8-8h0m5-29h0m12 12h0m2-3h0m1-9h0m8 25h0m9-16h0m8 15h0m8-17h0m0-1h0m16 2h0m1 14h0m201 1h0m14 0h0m4-6h0m5-14h0m1 6h0m0 3h0m7-9h0m4-1h0m-47 41h0m-3 1h0m-28 23h0m-2 8h0m-7 2h0m-139-29h0m-7-5h0m-12 11h0m-59 15h0m-4-12h0m-3-6h0m-25 5h0m-10-9h0m-29 23h0m-22-2h0m-1 11h0m-6-3h0m-3-34h0m-5 12h0m-3 19h0m-8-27h0m-3-3h0m-3 24h0m-11 0h0m-20 0h0m-4 6h0m-4-22h0m-8 25h0m-2-27h0m-19 25h0m-14-9h0m-15 2h0m-44-19h0m-3 1h0m-10 11h0m-2 0h0m-1-18h0m-2 24h0m-2-26h0m-36 34h0m-83-13h0m-20-17h0m-25 3h0m-21 4h0m-10 8h0m223 53h0m17-3h0m5-23h0m3 9h0m1 11h0m40-22h0m21 2h0m2 21h0m0-21h0m3 2h0m8-6h0m2 24h0m10 13h0m1-5h0m7-9h0m1-4h0m16-16h0m12 29h0m5-34h0m8 11h0m12-1h0m2 6h0m14-15h0m18 6h0m112 8h0m19-5h0m99 20h0m11-12h0m5-4h0m1-3h0m-33 31h0m-8 2h0m-3 9h0m0-6h0m-8 8h0m-1-7h0m-6 14h0m-1-4h0m-14 10h0m-1-2h0m-1 3h0m-48 9h0m-19-23h0m-66 18h0m-46-9h0m0-15h0m-12 12h0m-34 1h0m-8-10h0m-2 2h0m-29 18h0m-7-11h0m-4 5h0m0-15h0m-105-2h0m-3-7h0m-1 6h0m-6-4h0m-11 31h0m-6-10h0m-200-17h0m53 66h0m12-11h0m127-17h0m0-1h0m5 1h0m5 4h0m89 10h0m17-6h0m32-10h0m0-2h0m2 7h0m13 1h0m6-4h0m188 0h0m8-6h0m-107 64h0m-3-6h0m-6 13h0m-8-4h0m-6 5h0m-1 7h0m-41-6h0m-22-2h0m-34-3h0m-25-27h0m-15 20h0m-6 17h0m-6-18h0m-2 19h0m-6-1h0m-190-28h0m-62 4h0m28 50h0m186 10h0m1-19h0m4-14h0m3 38h0m8-4h0m9-27h0m25 11h0m13 10h0m11-19h0m13 24h0m32-21h0m14 19h0m4-31h0m3 9h0m8 10h0m1-9h0m10-3h0m36-6h0m-156 52h0m-1 15h0m-6-11h0m-4 2h0m-31-11h0m-167-7h0m-27 41h0" stroke="#619CFF" stroke-width="25"/>
<path d="M1333 1667h0m-87-12h0m-7 13h0m-10 9h0m-23-4h0m68 14h0m18 23h0m28 6h0m-126 35h0m23 21h0m17-8h0m7 29h0m70-1h0m-8 23h0m-19 1h0m-1 11h0m-60 3h0m-4-4h0m95 46h0m1 17h0m-21 14h0m-29 43h0m6 7h0m9-32h0m1 70h0m236 219h0m15 44h0m62 25h0m250 23h0m-5 4h0m-89-8h0m-29 12h0m-105-11h0m-162-8h0m99 49h0m22-15h0m87 3h0m36 21h0m144 49h0m-12-3h0m-395 23h0m192-13h0m145-5h0m64 3h0m79 21h0m-29 50h0m-116-20h0m-124-1h0m-203 64h0m5-22h0m97-5h0m200 17h0m111 7h0m110-11h0m5-8h0m-214 55h0m-99-1h0m-51 8h0m-96-24h0m151 53h0m19 13h0m-157 20h0m93 56h0m21-29h0m25 10h0m60-15h0m-73 77h0m-124-29h0m-22 15h0m133 24h0" stroke="#F8766D" stroke-width="25"/>
<path d="M1339 1228h0m-47 30h0m26 41h0m674 42h0m-5 15h0m-4-21h0m-653 17h0m-94 7h0m2 12h0m16 5h0m5 14h0m23 1h0m1-1h0m4 8h0m49-34h0m638 12h0m0-7h0m-3 35h0m-10 12h0m-1-3h0m-593 17h0m-7-10h0m-7-6h0m-4-14h0m-33 31h0m-7-7h0m-18-12h0m0-5h0m14 38h0m6 14h0m21-4h0m15 0h0m15 20h0m14-25h0m6 8h0m5 12h0m1-4h0m28 37h0m-3-2h0m-3 15h0m-4-22h0m-3 2h0m-12-1h0m-3 12h0m-19-26h0m-8 19h0m-9-19h0m-6-1h0m-47 63h0m20 9h0m1-6h0m67-24h0m20 16h0m14-6h0m11-6h0m13 26h0m0-1h0m2-3h0m5-9h0m576 30h0m-3 0h0m-545 28h0m-38-32h0m-6 4h0m-4-3h0m-2 22h0m0-19h0m-3 15h0m-9 0h0m-3 1h0m-6-5h0m-4-1h0m-2 14h0m-1 5h0m0-10h0m-24-20h0m-15 28h0m-10-1h0m-3-14h0m-2-1h0m-15 17h0m-2-32h0m-10 14h0m43 49h0m13 1h0m7 9h0m13-30h0m32 0h0m5 13h0m12 2h0m3 2h0m5-2h0m14 13h0m3-6h0m29 2h0m15 6h0m99-8h0m532 14h0m-541 18h0m-47-10h0m-30 22h0m-2 5h0m-5-23h0m-7 16h0m-8-6h0m-7-8h0m-8-10h0m-38 3h0m-12 4h0m-3 13h0m-10-8h0m-6 9h0m-31 9h0m-3-6h0m-2-4h0m-4-1h0m-2-23h0m-7 1h0m-14 3h0m37 32h0m4 12h0m2 3h0m15 9h0m1 5h0m2-14h0m9 8h0m3-13h0m3 0h0m2 3h0m2 15h0m5 11h0m10-33h0m19-5h0m47-1h0m17 6h0m3 13h0m1-6h0m5-6h0m7 28h0m10-9h0m3-5h0m71 51h0m-45 4h0m-8-5h0m-10-18h0m-2 4h0m-1 22h0m-3-26h0m-10-12h0m-87 26h0m-11 9h0m-2-14h0m-6 5h0m-4 4h0m-7-31h0m-1 2h0m-1 11h0m0 1h0m-3 8h0m-2-12h0m-6-3h0m-65 3h0m-18 53h0m72-23h0m1 32h0m10-2h0m10-15h0m2-7h0m9-7h0m2 14h0m9-2h0m2 3h0m2-1h0m3 23h0m5 1h0m3-16h0m5 4h0m6 2h0m92-27h0m4 18h0m2 19h0m16-24h0m120 20h0m28 3h0m16-1h0m28-22h0m7 20h0m316-2h0m-271 35h0m-20 4h0m-13-1h0m-16 6h0m0-14h0m0-5h0m-5 4h0m-40-17h0m-8 3h0m-1-7h0m-7 3h0m-1 11h0m-14-5h0m-19 11h0m-10-15h0m-13 22h0m-5-17h0m-2 15h0m-6-7h0m-24 12h0m-18-18h0m-60 20h0m-35 3h0m0-25h0m-18 6h0m-9 17h0m-2 2h0m-1-29h0m-4 18h0m-7-8h0m-1-12h0m-2 2h0m-5-5h0m-5 6h0m-4 3h0m-10 17h0m-122 46h0m63 4h0m9-6h0m91-26h0m2-4h0m4 3h0m10 13h0m6 3h0m1-8h0m0 7h0m2-13h0m0 11h0m3 16h0m9 3h0m2 0h0m14-19h0m3 21h0m105 0h0m60-14h0m94-22h0m15-2h0m20 2h0m25 15h0m28 55h0m-6 2h0m0 3h0m-4-3h0m-1-12h0m-13 0h0m-16-13h0m-4-5h0m-33 9h0m-2 2h0m-2 8h0m-17-3h0m-1 6h0m-7 1h0m-5 7h0m-13-2h0m-64 6h0m-35-7h0m-77 4h0m-7-12h0m-12 14h0m-1-7h0m-7-2h0m-13-3h0m-2-1h0m0-23h0m-1 16h0m-3 9h0m-1-19h0m-6 15h0m0-17h0m-4 1h0m0-5h0m-3 20h0m-1-20h0m-6 10h0m-15 1h0m-4 9h0m-115-8h0m-9 14h0m-23 32h0m68 5h0m3-24h0m112 25h0m14 6h0m7-25h0m7-7h0m21 0h0m2 6h0m1 3h0m1 10h0m28-12h0m4 11h0m46 17h0m9 2h0m8-11h0m3 6h0m7-7h0m10-7h0m19-8h0m2 4h0m24-5h0m141-5h0m25 9h0m2 3h0m7 8h0m1-7h0m4 4h0m2 5h0m3 1h0m8 5h0m2-9h0m18 14h0m58 41h0m-3-3h0m-9-7h0m-6 1h0m-22-22h0m-11 1h0m-2-8h0m-305 3h0m-16-2h0m-3 2h0m-12 3h0m-7 7h0m-35 10h0m-11 0h0m-6 1h0m-5 9h0m-30 6h0m-4 0h0m-133-23h0m-70 13h0m39 24h0m42 12h0m21 7h0m4-2h0m9-4h0m9 3h0m56-12h0m2-3h0m13-6h0m3-4h0m8 0h0m2-4h0m6 1h0m475 3h0m9-1h0m3 12h0m2-1h0m3-5h0m0 8h0m6 2h0m8 5h0m10 6h0m82 38h0m-9-8h0m-2 7h0m-5-13h0m-17-1h0m-5-1h0m-303 38h0m5 12h0m4 9h0m4 7h0m347-24h0m0 4h0m4-4h0m28 64h0m-5-9h0m-4 1h0m0-15h0m-3 3h0m-3 4h0m-349-7h0m-3-4h0m-4-1h0m-307 25h0m302 32h0m5-9h0m366-7h0m1 26h0m6-26h0m-15 66h0m-376-23h0m-13 11h0m-537 37h0m914-5h0m4-6h0m-17 31h0m-880 141h0m276 0h0m396 0h0m-110 41h0m-780 48h0" stroke="#00BA38" stroke-width="25"/>
<path d="M1254 1351h0m16 47h0m80 36h0m-55 18h0m107 52h0m-91-12h0m-73 32h0m62 79h0m313 387h0m60 64h0m170 33h0m84 13h0m116 7h0m-44 22h0m-130-5h0m150 52h0m-178 24h0m146 102h0m-47 18h0m37 6h0m1 15h0m24 46h0" stroke="#F8766D" stroke-width="25"/>
<path d="M1845 1946h0m160 53h0m-555 110h0m503 9h0m134 0h0m70-21h0m-727 24h0m497 63h0m28-24h0m18 43h0m-127 71h0m290-9h0m-54 48h0m-66-6h0m-111 23h0m129 66h0" stroke="#619CFF" stroke-width="25"/>
<path d="M1232 1637h0m51-4h0m10-12h0m23 16h0m23 32h0m-20-29h0m-75 3h0m-14 1h0m-37 28h0m13 31h0m-2 17h0m-6 36h0m11 65h0m-18-14h0m-5-1h0m0 1h0m-1 29h0m17 35h0m9-9h0m3 27h0m-4 9h0m-3 21h0m13 27h0m83-5h0m2 18h0m5-11h0m-12 26h0m-12 25h0m-60-25h0m-20 17h0m17 17h0m16 12h0m40 12h0m4-4h0m37-28h0m-37 54h0m-5-5h0m-20 11h0m-3-8h0" stroke="#619CFF" stroke-width="25"/>
<path d="M1209 1635h0m45 3h0m19-11h0m45 7h0m34 32h0m-107-21h0m-44 22h0m10 21h0m-5 66h0m-3 6h0m-10 44h0m-3 46h0m2 22h0m125 30h0m-118-10h0m6 28h0m3 22h0m104 13h0m4-29h0m-11 62h0m-1-15h0m-11 21h0m-66-4h0m-22-2h0m-4-4h0m35 48h0m74 18h0m-32 13h0m0-2h0m-37-17h0" stroke="#F8766D" stroke-width="25"/>
<path d="M1423 2175h0m35 17h0m21-12h0m19-4h0m7 19h0m18-5h0m43 23h0m-9 11h0m-31-21h0m-86 3h0m-9 17h0m-22 29h0m12 7h0m165-12h0m167 29h0m37-4h0m9-1h0m85 36h0m-30-8h0m-24 5h0m-38-23h0m-61 8h0m-38 8h0m-262-17h0m-9 22h0m-19 15h0m1 21h0m4-11h0m20 15h0m442-21h0m27-1h0m20 28h0m11 0h0m105 47h0m-2 4h0m-33-18h0m-12 1h0m-43-8h0m-12-9h0m-510 32h0m-1-23h0m4 42h0m12 16h0m567-23h0m50-6h0m7 10h0m1 9h0m-62 54h0m-557-12h0m-11-12h0m-1 12h0m-4 37h0m13 0h0m499 17h0m20-20h0m7 6h0m26-22h0m-79 49h0m-465 16h0m-2 4h0m-17-26h0m14 50h0m27 13h0m372 2h0m-382 12h0m-2 3h0m-5 25h0m9 37h0m9-10h0m13 46h0m-10-23h0m-7 32h0m27 19h0m12-11h0m16 63h0m-19-22h0m24 42h0m4 0h0m11 1h0" stroke="#619CFF" stroke-width="25"/>
<path d="M1414 2194h0m35-6h0m7 0h0m46-15h0m51 58h0m-4-9h0m-43-22h0m-92 38h0m-7 10h0m171-7h0m16 25h0m182 5h0m11-7h0m79 44h0m-18-13h0m-16-6h0m-422-4h0m-3 52h0m22-12h0m466 12h0m5 8h0m23-8h0m136 55h0m-32-6h0m-13-2h0m-20 1h0m-30 8h0m-10-16h0m-529 11h0m-24 21h0m14 3h0m23 48h0m-11-4h0m2 62h0m6-19h0m541 0h0m15-13h0m-105 65h0m-425-3h0m-19 13h0m36 40h0m-6 2h0m-18 47h0m28 8h0m1 40h0m0-1h0m-11 35h0m34 37h0m-4 10h0m34 30h0" stroke="#F8766D" stroke-width="25"/>
<path d="M1261 1310h0m5-7h0m32 0h0m0-3h0m20 28h0m-7-6h0m-68 20h0m-8-15h0m-7 10h0m-26 27h0m9 5h0m8 29h0m120-19h0m13 39h0m-127 17h0m-16-11h0m-4 45h0m4-23h0m6 21h0m149-25h0m16 18h0m-158 43h0m-2-16h0m10 50h0m201-16h0m7 14h0m-154 58h0m-41-17h0m-3-7h0m-3-6h0m49 46h0m5 7h0m38-4h0m0 5h0m45-2h0m15-1h0" stroke="#00BA38" stroke-width="25"/>
<path d="M1244 1301h0m34 15h0m37-24h0m-11 30h0m-60 4h0m-32 32h0m8 10h0m-4 55h0m-7-10h0m15 61h0m4-29h0m152 15h0m14 32h0m-171 27h0m2 12h0m63 58h0m-16-7h0m-32-21h0m68 46h0m3 1h0m78 7h0" stroke="#F8766D" stroke-width="25"/>
<path d="M2006 1982h0m-25-17h0m-516 65h0m232 5h0m14 0h0m26-12h0m312-11h0m-241 63h0m-19-31h0m-33 5h0m-88 10h0m-4-2h0m-2-15h0m-23 32h0m-194-33h0m-15 10h0m-10 0h0m-3 28h0m3 16h0m3 10h0m9 8h0m12 6h0m91 0h0m30-16h0m26 13h0m16-22h0m30-4h0m540 0h0m25 57h0m-655-20h0m-13-1h0m-14 23h0m-36-12h0m-6 11h0m717 70h0m-382 11h0m0 20h0m353 29h0m15-9h0m7-24h0m-44 69h0m0-10h0m-17 15h0m-283-34h0m-2 0h0m-4-5h0m44 44h0m0 3h0m25 5h0m19 8h0m184 13h0m15-19h0m-13 35h0m-141-1h0m-11 15h0m-33-16h0m41 41h0m30 25h0m17-10h0m16-22h0m20 16h0m2-7h0m39-10h0" stroke="#00BA38" stroke-width="25"/>
<path d="M1854 1888h0m39 38h0m28 7h0m-486 104h0m243-4h0m24-3h0m21-3h0m6-4h0m63 35h0m-8-16h0m-9 13h0m-343 15h0m-6-6h0m136 52h0m27-9h0m21-25h0m29 23h0m32-18h0m174 48h0m-292-2h0m-41-3h0m-23 0h0m-7 20h0m-26 0h0m-35-22h0m785 45h0m-409 64h0m26 29h0m11 12h0m344-30h0m2-8h0m-328 86h0m16 3h0m39 0h0m210 21h0m18-21h0m15-9h0m-58 71h0m-9 0h0m-109 7h0m-13-25h0m-52-11h0m79 49h0m22 6h0m37 7h0" stroke="#619CFF" stroke-width="25"/>
<path d="M1985 1360h0m3 25h0m1-23h0m20 37h0m-23 5h0m-15 23h0m-4-20h0m-5 53h0m8-16h0m10 14h0m10-17h0m-7 44h0m-2 25h0m-8-23h0m-23 12h0m-6 12h0m6 35h0m9-26h0m27 4h0m32 29h0m6-8h0m33-3h0m8-3h0m15 13h0m-24 10h0m-9 5h0m-31 10h0m-16 6h0m0 2h0m-33-23h0m-7 1h0" stroke="#00BA38" stroke-width="25"/>
<path d="M1990 1353h0m12 7h0m-22 41h0m0 35h0m-25 37h0m35-24h0m11 33h0m-21 32h0m-1-21h0m-49 6h0m5 25h0m16 27h0m19 6h0m13-3h0m56-17h0m3-3h0m5 17h0m18-5h0m-39 15h0" stroke="#F8766D" stroke-width="25"/>
<path d="M1136 1258h0m-21-18h0m63 166h0m-21-6h0m177 191h0m31 124h0m-47 24h0m-57 54h0m73 291h0m21 36h0m333 196h0m47 65h0m-32-12h0m146 95h0m-109 24h0m31 12h0m31 6h0m32-12h0" stroke="#fff" stroke-width="16"/>
</g>
<text transform="translate(8,1707)" font-size="36" font-weight="bold" stroke="#000" stroke-width="0.48">e</text>
<text transform="translate(48,1730)" font-size="29" stroke="#000" stroke-width="0.4" text-decoration="underline">Cell cycle phase</text>
<circle cx="33" cy="1755.7" r="5.6" fill="#F8766D"/>
<text transform="translate(48,1765)" font-size="24.5" stroke="#000" stroke-width="0.34">G1</text>
<circle cx="33" cy="1791.4" r="5.6" fill="#00BA38"/>
<text transform="translate(48,1800)" font-size="24.5" stroke="#000" stroke-width="0.34">G2M</text>
<circle cx="33" cy="1823.7" r="5.6" fill="#619CFF"/>
<text transform="translate(48,1834.5)" font-size="24.5" stroke="#000" stroke-width="0.34">S</text>
<text transform="translate(715,1144)" font-size="36" font-weight="bold" stroke="#000" stroke-width="0.48">d</text>
<text transform="translate(757.8,1142.7)" font-size="29" stroke="#000" stroke-width="0.4" text-decoration="underline">Cell type annotation</text>
</g>
<g id="sec_bars">
<rect x="166.8" y="2166" width="334.6" height="35" fill="#D9D9D9"/>
<text transform="translate(334.1,2192.3) scale(1.04,1)" font-size="23.3" text-anchor="middle" fill="#1A1A1A" stroke="#1A1A1A" stroke-width="0.33">ISC</text>
<clipPath id="fb00"><rect x="166.4" y="2205" width="335.4" height="193"/></clipPath>
<rect x="166.8" y="2205" width="334.6" height="193" fill="#EBEBEB"/>
<g clip-path="url(#fb00)">
<path d="M172.8 2205V2398M183.92 2205V2398M195.05 2205V2398M206.17 2205V2398M217.3 2205V2398M228.42 2205V2398M239.54 2205V2398M250.67 2205V2398M261.79 2205V2398M272.92 2205V2398M284.04 2205V2398M295.17 2205V2398M306.29 2205V2398M317.41 2205V2398M328.54 2205V2398M339.66 2205V2398M350.79 2205V2398M361.91 2205V2398M373.03 2205V2398M384.16 2205V2398M395.28 2205V2398M406.41 2205V2398M417.53 2205V2398M428.66 2205V2398M439.78 2205V2398M450.9 2205V2398M462.03 2205V2398M473.15 2205V2398M484.28 2205V2398M495.4 2205V2398" stroke="#fff" stroke-width="4.8" fill="none"/>
<path d="M166.8 2363.05H501.4M166.8 2313.55H501.4M166.8 2264.05H501.4M166.8 2214.55H501.4" stroke="#fff" stroke-width="2.2" fill="none"/>
<path d="M166.8 2387.8H501.4M166.8 2338.3H501.4M166.8 2288.8H501.4M166.8 2239.3H501.4" stroke="#fff" stroke-width="3.7" fill="none"/>
<path d="M168.05 2388.9v-56.24h9.5v56.24zM179.17 2388.9v-40.04h9.5v40.04zM190.3 2388.9v-41.75h9.5v41.75zM201.42 2388.9v-54.11h9.5v54.11zM212.55 2388.9v-62.42h9.5v62.42zM223.67 2388.9v-51.34h9.5v51.34zM234.79 2388.9v-54.54h9.5v54.54zM245.92 2388.9v-57.31h9.5v57.31zM257.04 2388.9v-77.13h9.5v77.13zM268.17 2388.9v-72.66h9.5v72.66zM279.29 2388.9v-35.78h9.5v35.78zM290.42 2388.9v-54.54h9.5v54.54zM301.54 2388.9v-77.99h9.5v77.99zM312.66 2388.9v-86.09h9.5v86.09zM323.79 2388.9v-49.21h9.5v49.21zM334.91 2388.9v-106.12h9.5v106.12zM346.04 2388.9v-97.17h9.5v97.17zM357.16 2388.9v-67.75h9.5v67.75zM368.28 2388.9v-89.07h9.5v89.07zM379.41 2388.9v-65.2h9.5v65.2zM390.53 2388.9v-106.12h9.5v106.12zM401.66 2388.9v-102.07h9.5v102.07zM412.78 2388.9v-59.87h9.5v59.87zM423.91 2388.9v-33.65h9.5v33.65zM435.03 2388.9v-39.19h9.5v39.19zM446.15 2388.9v-58.37h9.5v58.37zM457.28 2388.9v-88.64h9.5v88.64zM468.4 2388.9v-79.05h9.5v79.05zM479.53 2388.9v-64.13h9.5v64.13zM490.65 2388.9v-38.55h9.5v38.55z" fill="#595959" stroke="#19B458" stroke-width="4.4" stroke-linejoin="miter"/>
</g>
<rect x="521.6" y="2166" width="334.6" height="35" fill="#D9D9D9"/>
<text transform="translate(688.9,2192.3) scale(1.04,1)" font-size="23.3" text-anchor="middle" fill="#1A1A1A" stroke="#1A1A1A" stroke-width="0.33">TA</text>
<clipPath id="fb10"><rect x="521.2" y="2205" width="335.4" height="193"/></clipPath>
<rect x="521.6" y="2205" width="334.6" height="193" fill="#EBEBEB"/>
<g clip-path="url(#fb10)">
<path d="M527.6 2205V2398M538.72 2205V2398M549.85 2205V2398M560.97 2205V2398M572.1 2205V2398M583.22 2205V2398M594.34 2205V2398M605.47 2205V2398M616.59 2205V2398M627.72 2205V2398M638.84 2205V2398M649.97 2205V2398M661.09 2205V2398M672.21 2205V2398M683.34 2205V2398M694.46 2205V2398M705.59 2205V2398M716.71 2205V2398M727.83 2205V2398M738.96 2205V2398M750.08 2205V2398M761.21 2205V2398M772.33 2205V2398M783.46 2205V2398M794.58 2205V2398M805.7 2205V2398M816.83 2205V2398M827.95 2205V2398M839.08 2205V2398M850.2 2205V2398" stroke="#fff" stroke-width="4.8" fill="none"/>
<path d="M521.6 2363.05H856.2M521.6 2313.55H856.2M521.6 2264.05H856.2M521.6 2214.55H856.2" stroke="#fff" stroke-width="2.2" fill="none"/>
<path d="M521.6 2387.8H856.2M521.6 2338.3H856.2M521.6 2288.8H856.2M521.6 2239.3H856.2" stroke="#fff" stroke-width="3.7" fill="none"/>
<path d="M522.85 2388.9v-53.47h9.5v53.47zM533.97 2388.9v-33.65h9.5v33.65zM545.1 2388.9v-34.92h9.5v34.92zM556.22 2388.9v-39.61h9.5v39.61zM567.35 2388.9v-58.37h9.5v58.37zM578.47 2388.9v-50.91h9.5v50.91zM589.59 2388.9v-51.34h9.5v51.34zM600.72 2388.9v-47.08h9.5v47.08zM611.84 2388.9v-59.87h9.5v59.87zM622.97 2388.9v-58.37h9.5v58.37zM634.09 2388.9v-39.61h9.5v39.61zM645.22 2388.9v-51.98h9.5v51.98zM656.34 2388.9v-71.59h9.5v71.59zM667.46 2388.9v-69.46h9.5v69.46zM678.59 2388.9v-52.83h9.5v52.83zM689.71 2388.9v-74.15h9.5v74.15zM700.84 2388.9v-89.07h9.5v89.07zM711.96 2388.9v-69.46h9.5v69.46zM723.08 2388.9v-82.68h9.5v82.68zM734.21 2388.9v-64.77h9.5v64.77zM745.33 2388.9v-118.49h9.5v118.49zM756.46 2388.9v-131.28h9.5v131.28zM767.58 2388.9v-98.24h9.5v98.24zM778.71 2388.9v-53.47h9.5v53.47zM789.83 2388.9v-57.73h9.5v57.73zM800.95 2388.9v-59.87h9.5v59.87zM812.08 2388.9v-93.55h9.5v93.55zM823.2 2388.9v-64.13h9.5v64.13zM834.33 2388.9v-90.14h9.5v90.14zM845.45 2388.9v-47.08h9.5v47.08z" fill="#595959" stroke="#FCC916" stroke-width="4.4" stroke-linejoin="miter"/>
</g>
<rect x="876.4" y="2166" width="334.6" height="35" fill="#D9D9D9"/>
<text transform="translate(1043.7,2192.3) scale(1.04,1)" font-size="23.3" text-anchor="middle" fill="#1A1A1A" stroke="#1A1A1A" stroke-width="0.33">Enterocyte progenitor</text>
<clipPath id="fb20"><rect x="876" y="2205" width="335.4" height="193"/></clipPath>
<rect x="876.4" y="2205" width="334.6" height="193" fill="#EBEBEB"/>
<g clip-path="url(#fb20)">
<path d="M882.4 2205V2398M893.52 2205V2398M904.65 2205V2398M915.77 2205V2398M926.9 2205V2398M938.02 2205V2398M949.14 2205V2398M960.27 2205V2398M971.39 2205V2398M982.52 2205V2398M993.64 2205V2398M1004.77 2205V2398M1015.89 2205V2398M1027.01 2205V2398M1038.14 2205V2398M1049.26 2205V2398M1060.39 2205V2398M1071.51 2205V2398M1082.63 2205V2398M1093.76 2205V2398M1104.88 2205V2398M1116.01 2205V2398M1127.13 2205V2398M1138.26 2205V2398M1149.38 2205V2398M1160.5 2205V2398M1171.63 2205V2398M1182.75 2205V2398M1193.88 2205V2398M1205 2205V2398" stroke="#fff" stroke-width="4.8" fill="none"/>
<path d="M876.4 2363.05H1211M876.4 2313.55H1211M876.4 2264.05H1211M876.4 2214.55H1211" stroke="#fff" stroke-width="2.2" fill="none"/>
<path d="M876.4 2387.8H1211M876.4 2338.3H1211M876.4 2288.8H1211M876.4 2239.3H1211" stroke="#fff" stroke-width="3.7" fill="none"/>
<path d="M877.65 2388.9v-60.93h9.5v60.93zM888.77 2388.9v-60.93h9.5v60.93zM899.9 2388.9v-52.83h9.5v52.83zM911.02 2388.9v-50.7h9.5v50.7zM922.15 2388.9v-72.66h9.5v72.66zM933.27 2388.9v-76.92h9.5v76.92zM944.39 2388.9v-36.84h9.5v36.84zM955.52 2388.9v-52.83h9.5v52.83zM966.64 2388.9v-56.67h9.5v56.67zM977.77 2388.9v-58.8h9.5v58.8zM988.89 2388.9v-84.81h9.5v84.81zM1000.02 2388.9v-80.76h9.5v80.76zM1011.14 2388.9v-52.83h9.5v52.83zM1022.26 2388.9v-69.03h9.5v69.03zM1033.39 2388.9v-50.7h9.5v50.7zM1044.51 2388.9v-30.66h9.5v30.66zM1055.64 2388.9v-90.78h9.5v90.78zM1066.76 2388.9v-57.09h9.5v57.09zM1077.88 2388.9v-42.81h9.5v42.81zM1089.01 2388.9v-34.92h9.5v34.92zM1100.13 2388.9v-120.62h9.5v120.62zM1111.26 2388.9v-118.49h9.5v118.49zM1122.38 2388.9v-62.64h9.5v62.64zM1133.51 2388.9v-52.83h9.5v52.83zM1144.63 2388.9v-56.67h9.5v56.67zM1155.75 2388.9v-44.94h9.5v44.94zM1166.88 2388.9v-108.9h9.5v108.9zM1178 2388.9v-60.51h9.5v60.51zM1189.13 2388.9v-89.07h9.5v89.07zM1200.25 2388.9v-74.79h9.5v74.79z" fill="#595959" stroke="#7B93F3" stroke-width="4.4" stroke-linejoin="miter"/>
</g>
<rect x="1231.2" y="2166" width="334.6" height="35" fill="#D9D9D9"/>
<text transform="translate(1398.5,2192.3) scale(1.04,1)" font-size="23.3" text-anchor="middle" fill="#1A1A1A" stroke="#1A1A1A" stroke-width="0.33">Enterocyte</text>
<clipPath id="fb30"><rect x="1230.8" y="2205" width="335.4" height="193"/></clipPath>
<rect x="1231.2" y="2205" width="334.6" height="193" fill="#EBEBEB"/>
<g clip-path="url(#fb30)">
<path d="M1237.2 2205V2398M1248.32 2205V2398M1259.45 2205V2398M1270.57 2205V2398M1281.7 2205V2398M1292.82 2205V2398M1303.94 2205V2398M1315.07 2205V2398M1326.19 2205V2398M1337.32 2205V2398M1348.44 2205V2398M1359.57 2205V2398M1370.69 2205V2398M1381.81 2205V2398M1392.94 2205V2398M1404.06 2205V2398M1415.19 2205V2398M1426.31 2205V2398M1437.43 2205V2398M1448.56 2205V2398M1459.68 2205V2398M1470.81 2205V2398M1481.93 2205V2398M1493.06 2205V2398M1504.18 2205V2398M1515.3 2205V2398M1526.43 2205V2398M1537.55 2205V2398M1548.68 2205V2398M1559.8 2205V2398" stroke="#fff" stroke-width="4.8" fill="none"/>
<path d="M1231.2 2363.05H1565.8M1231.2 2313.55H1565.8M1231.2 2264.05H1565.8M1231.2 2214.55H1565.8" stroke="#fff" stroke-width="2.2" fill="none"/>
<path d="M1231.2 2387.8H1565.8M1231.2 2338.3H1565.8M1231.2 2288.8H1565.8M1231.2 2239.3H1565.8" stroke="#fff" stroke-width="3.7" fill="none"/>
<path d="M1232.45 2388.9v-84.81h9.5v84.81zM1243.57 2388.9v-58.8h9.5v58.8zM1254.7 2388.9v-51.34h9.5v51.34zM1265.82 2388.9v-46.01h9.5v46.01zM1276.95 2388.9v-58.8h9.5v58.8zM1288.07 2388.9v-47.5h9.5v47.5zM1299.19 2388.9v-40.04h9.5v40.04zM1310.32 2388.9v-45.58h9.5v45.58zM1321.44 2388.9v-69.88h9.5v69.88zM1332.57 2388.9v-35.78h9.5v35.78zM1343.69 2388.9v-79.05h9.5v79.05zM1354.82 2388.9v-66.26h9.5v66.26zM1365.94 2388.9v-69.88h9.5v69.88zM1377.06 2388.9v-79.05h9.5v79.05zM1388.19 2388.9v-46.01h9.5v46.01zM1399.31 2388.9v-82.89h9.5v82.89zM1410.44 2388.9v-67.97h9.5v67.97zM1421.56 2388.9v-49.21h9.5v49.21zM1432.68 2388.9v-46.01h9.5v46.01zM1443.81 2388.9v-22.99h9.5v22.99zM1454.93 2388.9v-131.28h9.5v131.28zM1466.06 2388.9v-114.65h9.5v114.65zM1477.18 2388.9v-76.92h9.5v76.92zM1488.31 2388.9v-60.51h9.5v60.51zM1499.43 2388.9v-67.97h9.5v67.97zM1510.55 2388.9v-66.26h9.5v66.26zM1521.68 2388.9v-93.97h9.5v93.97zM1532.8 2388.9v-67.97h9.5v67.97zM1543.93 2388.9v-75.43h9.5v75.43zM1555.05 2388.9v-66.26h9.5v66.26z" fill="#595959" stroke="#14B8A3" stroke-width="4.4" stroke-linejoin="miter"/>
</g>
<rect x="1586" y="2166" width="334.6" height="35" fill="#D9D9D9"/>
<text transform="translate(1749.8,2192.3) scale(1.04,1)" font-size="23.3" text-anchor="middle" fill="#1A1A1A" stroke="#1A1A1A" stroke-width="0.33">Mature enterocyte</text>
<clipPath id="fb40"><rect x="1585.6" y="2205" width="335.4" height="193"/></clipPath>
<rect x="1586" y="2205" width="334.6" height="193" fill="#EBEBEB"/>
<g clip-path="url(#fb40)">
<path d="M1592 2205V2398M1603.12 2205V2398M1614.25 2205V2398M1625.37 2205V2398M1636.5 2205V2398M1647.62 2205V2398M1658.74 2205V2398M1669.87 2205V2398M1680.99 2205V2398M1692.12 2205V2398M1703.24 2205V2398M1714.37 2205V2398M1725.49 2205V2398M1736.61 2205V2398M1747.74 2205V2398M1758.86 2205V2398M1769.99 2205V2398M1781.11 2205V2398M1792.23 2205V2398M1803.36 2205V2398M1814.48 2205V2398M1825.61 2205V2398M1836.73 2205V2398M1847.86 2205V2398M1858.98 2205V2398M1870.1 2205V2398M1881.23 2205V2398M1892.35 2205V2398M1903.48 2205V2398M1914.6 2205V2398" stroke="#fff" stroke-width="4.8" fill="none"/>
<path d="M1586 2363.05H1920.6M1586 2313.55H1920.6M1586 2264.05H1920.6M1586 2214.55H1920.6" stroke="#fff" stroke-width="2.2" fill="none"/>
<path d="M1586 2387.8H1920.6M1586 2338.3H1920.6M1586 2288.8H1920.6M1586 2239.3H1920.6" stroke="#fff" stroke-width="3.7" fill="none"/>
<path d="M1587.25 2388.9v-55.18h9.5v55.18zM1598.37 2388.9v-55.18h9.5v55.18zM1609.5 2388.9v-35.35h9.5v35.35zM1620.62 2388.9v-42.39h9.5v42.39zM1631.75 2388.9v-67.33h9.5v67.33zM1642.87 2388.9v-60.51h9.5v60.51zM1653.99 2388.9v-31.73h9.5v31.73zM1665.12 2388.9v-33.22h9.5v33.22zM1676.24 2388.9v-19.36h9.5v19.36zM1687.37 2388.9v-35.35h9.5v35.35zM1698.49 2388.9v-86.51h9.5v86.51zM1709.62 2388.9v-63.06h9.5v63.06zM1720.74 2388.9v-83.31h9.5v83.31zM1731.86 2388.9v-73.72h9.5v73.72zM1742.99 2388.9v-54.54h9.5v54.54zM1754.11 2388.9v-59.44h9.5v59.44zM1765.24 2388.9v-86.09h9.5v86.09zM1776.36 2388.9v-73.72h9.5v73.72zM1787.48 2388.9v-73.72h9.5v73.72zM1798.61 2388.9v-48.57h9.5v48.57zM1809.73 2388.9v-124.24h9.5v124.24zM1820.86 2388.9v-114.65h9.5v114.65zM1831.98 2388.9v-109.54h9.5v109.54zM1843.11 2388.9v-58.8h9.5v58.8zM1854.23 2388.9v-137.25h9.5v137.25zM1865.35 2388.9v-47.71h9.5v47.71zM1876.48 2388.9v-54.54h9.5v54.54zM1887.6 2388.9v-42.81h9.5v42.81zM1898.73 2388.9v-69.03h9.5v69.03zM1909.85 2388.9v-70.1h9.5v70.1z" fill="#595959" stroke="#189CF0" stroke-width="4.4" stroke-linejoin="miter"/>
</g>
<rect x="166.8" y="2407.5" width="334.6" height="36" fill="#D9D9D9"/>
<text transform="translate(330.6,2433.2) scale(1.04,1)" font-size="23.3" text-anchor="middle" fill="#1A1A1A" stroke="#1A1A1A" stroke-width="0.33">Goblet</text>
<clipPath id="fb01"><rect x="166.4" y="2445.5" width="335.4" height="190.5"/></clipPath>
<rect x="166.8" y="2445.5" width="334.6" height="190.5" fill="#EBEBEB"/>
<g clip-path="url(#fb01)">
<path d="M172.8 2445.5V2636M183.92 2445.5V2636M195.05 2445.5V2636M206.17 2445.5V2636M217.3 2445.5V2636M228.42 2445.5V2636M239.54 2445.5V2636M250.67 2445.5V2636M261.79 2445.5V2636M272.92 2445.5V2636M284.04 2445.5V2636M295.17 2445.5V2636M306.29 2445.5V2636M317.41 2445.5V2636M328.54 2445.5V2636M339.66 2445.5V2636M350.79 2445.5V2636M361.91 2445.5V2636M373.03 2445.5V2636M384.16 2445.5V2636M395.28 2445.5V2636M406.41 2445.5V2636M417.53 2445.5V2636M428.66 2445.5V2636M439.78 2445.5V2636M450.9 2445.5V2636M462.03 2445.5V2636M473.15 2445.5V2636M484.28 2445.5V2636M495.4 2445.5V2636" stroke="#fff" stroke-width="4.8" fill="none"/>
<path d="M166.8 2604.95H501.4M166.8 2555.45H501.4M166.8 2505.95H501.4M166.8 2456.45H501.4" stroke="#fff" stroke-width="2.2" fill="none"/>
<path d="M166.8 2629.7H501.4M166.8 2580.2H501.4M166.8 2530.7H501.4M166.8 2481.2H501.4" stroke="#fff" stroke-width="3.7" fill="none"/>
<path d="M168.05 2629v-50.93h9.5v50.93zM179.17 2629v-34.52h9.5v34.52zM190.3 2629v-50.93h9.5v50.93zM201.42 2629v-44.54h9.5v44.54zM212.55 2629v-44.54h9.5v44.54zM223.67 2629v-44.54h9.5v44.54zM234.79 2629v-21.73h9.5v21.73zM245.92 2629v-21.73h9.5v21.73zM257.04 2629v-29.83h9.5v29.83zM268.17 2629v-33.02h9.5v33.02zM279.29 2629v-60.74h9.5v60.74zM290.42 2629v-42.62h9.5v42.62zM301.54 2629v-50.93h9.5v50.93zM312.66 2629v-50.93h9.5v50.93zM323.79 2629v-33.02h9.5v33.02zM334.91 2629v-40.91h9.5v40.91zM346.04 2629v-49.01h9.5v49.01zM357.16 2629v-49.01h9.5v49.01zM368.28 2629v-58.61h9.5v58.61zM379.41 2629v-55.83h9.5v55.83zM390.53 2629v-141.53h9.5v141.53zM401.66 2629v-157.73h9.5v157.73zM412.78 2629v-112.33h9.5v112.33zM423.91 2629v-75.02h9.5v75.02zM435.03 2629v-121.92h9.5v121.92zM446.15 2629v-128.74h9.5v128.74zM457.28 2629v-105.93h9.5v105.93zM468.4 2629v-96.34h9.5v96.34zM479.53 2629v-93.14h9.5v93.14zM490.65 2629v-67.13h9.5v67.13z" fill="#595959" stroke="#F07D57" stroke-width="4.4" stroke-linejoin="miter"/>
</g>
<rect x="521.6" y="2407.5" width="334.6" height="36" fill="#D9D9D9"/>
<text transform="translate(685.4,2433.2) scale(1.04,1)" font-size="23.3" text-anchor="middle" fill="#1A1A1A" stroke="#1A1A1A" stroke-width="0.33">Paneth</text>
<clipPath id="fb11"><rect x="521.2" y="2445.5" width="335.4" height="190.5"/></clipPath>
<rect x="521.6" y="2445.5" width="334.6" height="190.5" fill="#EBEBEB"/>
<g clip-path="url(#fb11)">
<path d="M527.6 2445.5V2636M538.72 2445.5V2636M549.85 2445.5V2636M560.97 2445.5V2636M572.1 2445.5V2636M583.22 2445.5V2636M594.34 2445.5V2636M605.47 2445.5V2636M616.59 2445.5V2636M627.72 2445.5V2636M638.84 2445.5V2636M649.97 2445.5V2636M661.09 2445.5V2636M672.21 2445.5V2636M683.34 2445.5V2636M694.46 2445.5V2636M705.59 2445.5V2636M716.71 2445.5V2636M727.83 2445.5V2636M738.96 2445.5V2636M750.08 2445.5V2636M761.21 2445.5V2636M772.33 2445.5V2636M783.46 2445.5V2636M794.58 2445.5V2636M805.7 2445.5V2636M816.83 2445.5V2636M827.95 2445.5V2636M839.08 2445.5V2636M850.2 2445.5V2636" stroke="#fff" stroke-width="4.8" fill="none"/>
<path d="M521.6 2604.95H856.2M521.6 2555.45H856.2M521.6 2505.95H856.2M521.6 2456.45H856.2" stroke="#fff" stroke-width="2.2" fill="none"/>
<path d="M521.6 2629.7H856.2M521.6 2580.2H856.2M521.6 2530.7H856.2M521.6 2481.2H856.2" stroke="#fff" stroke-width="3.7" fill="none"/>
<path d="M522.85 2629v-12.56h9.5v12.56zM533.97 2629v-39.42h9.5v39.42zM545.1 2629v-0.01h9.5v0.01zM556.22 2629v-25.99h9.5v25.99zM567.35 2629v-53.06h9.5v53.06zM578.47 2629v-25.99h9.5v25.99zM589.59 2629v-39.42h9.5v39.42zM600.72 2629v-25.99h9.5v25.99zM611.84 2629v-79.92h9.5v79.92zM622.97 2629v-66.49h9.5v66.49zM634.09 2629v-25.99h9.5v25.99zM645.22 2629v-53.06h9.5v53.06zM656.34 2629v-39.42h9.5v39.42zM667.46 2629v-39.42h9.5v39.42zM678.59 2629v-79.92h9.5v79.92zM689.71 2629v-120.43h9.5v120.43zM700.84 2629v-93.14h9.5v93.14zM711.96 2629v-66.49h9.5v66.49zM723.08 2629v-79.92h9.5v79.92zM734.21 2629v-79.92h9.5v79.92zM745.33 2629v-174.57h9.5v174.57zM756.46 2629v-79.92h9.5v79.92zM767.58 2629v-93.14h9.5v93.14zM778.71 2629v-66.49h9.5v66.49zM789.83 2629v-79.92h9.5v79.92zM800.95 2629v-120.43h9.5v120.43zM812.08 2629v-93.14h9.5v93.14zM823.2 2629v-120.43h9.5v120.43zM834.33 2629v-79.92h9.5v79.92zM845.45 2629v-12.56h9.5v12.56z" fill="#595959" stroke="#7FA60F" stroke-width="4.4" stroke-linejoin="miter"/>
</g>
<rect x="876.4" y="2407.5" width="334.6" height="36" fill="#D9D9D9"/>
<text transform="translate(1043.7,2433.2) scale(1.04,1)" font-size="23.3" text-anchor="middle" fill="#1A1A1A" stroke="#1A1A1A" stroke-width="0.33">Tuft</text>
<clipPath id="fb21"><rect x="876" y="2445.5" width="335.4" height="190.5"/></clipPath>
<rect x="876.4" y="2445.5" width="334.6" height="190.5" fill="#EBEBEB"/>
<g clip-path="url(#fb21)">
<path d="M882.4 2445.5V2636M893.52 2445.5V2636M904.65 2445.5V2636M915.77 2445.5V2636M926.9 2445.5V2636M938.02 2445.5V2636M949.14 2445.5V2636M960.27 2445.5V2636M971.39 2445.5V2636M982.52 2445.5V2636M993.64 2445.5V2636M1004.77 2445.5V2636M1015.89 2445.5V2636M1027.01 2445.5V2636M1038.14 2445.5V2636M1049.26 2445.5V2636M1060.39 2445.5V2636M1071.51 2445.5V2636M1082.63 2445.5V2636M1093.76 2445.5V2636M1104.88 2445.5V2636M1116.01 2445.5V2636M1127.13 2445.5V2636M1138.26 2445.5V2636M1149.38 2445.5V2636M1160.5 2445.5V2636M1171.63 2445.5V2636M1182.75 2445.5V2636M1193.88 2445.5V2636M1205 2445.5V2636" stroke="#fff" stroke-width="4.8" fill="none"/>
<path d="M876.4 2604.95H1211M876.4 2555.45H1211M876.4 2505.95H1211M876.4 2456.45H1211" stroke="#fff" stroke-width="2.2" fill="none"/>
<path d="M876.4 2629.7H1211M876.4 2580.2H1211M876.4 2530.7H1211M876.4 2481.2H1211" stroke="#fff" stroke-width="3.7" fill="none"/>
<path d="M877.65 2629v-54.77h9.5v54.77zM888.77 2629v-58.61h9.5v58.61zM899.9 2629v-38.35h9.5v38.35zM911.02 2629v-60.52h9.5v60.52zM922.15 2629v-38.35h9.5v38.35zM933.27 2629v-38.35h9.5v38.35zM944.39 2629v-52.64h9.5v52.64zM955.52 2629v-25.99h9.5v25.99zM966.64 2629v-17.46h9.5v17.46zM977.77 2629v-50.5h9.5v50.5zM988.89 2629v-58.61h9.5v58.61zM1000.02 2629v-36.22h9.5v36.22zM1011.14 2629v-32.38h9.5v32.38zM1022.26 2629v-58.61h9.5v58.61zM1033.39 2629v-46.24h9.5v46.24zM1044.51 2629v-81.41h9.5v81.41zM1055.64 2629v-66.92h9.5v66.92zM1066.76 2629v-52.21h9.5v52.21zM1077.88 2629v-64.79h9.5v64.79zM1089.01 2629v-64.79h9.5v64.79zM1100.13 2629v-138.97h9.5v138.97zM1111.26 2629v-157.73h9.5v157.73zM1122.38 2629v-66.92h9.5v66.92zM1133.51 2629v-58.61h9.5v58.61zM1144.63 2629v-68.62h9.5v68.62zM1155.75 2629v-116.59h9.5v116.59zM1166.88 2629v-136.84h9.5v136.84zM1178 2629v-83.12h9.5v83.12zM1189.13 2629v-91.65h9.5v91.65zM1200.25 2629v-50.5h9.5v50.5z" fill="#595959" stroke="#C879FA" stroke-width="4.4" stroke-linejoin="miter"/>
</g>
<rect x="1231.2" y="2407.5" width="334.6" height="36" fill="#D9D9D9"/>
<text transform="translate(1398.5,2433.2) scale(1.04,1)" font-size="23.3" text-anchor="middle" fill="#1A1A1A" stroke="#1A1A1A" stroke-width="0.33">Endocrine</text>
<clipPath id="fb31"><rect x="1230.8" y="2445.5" width="335.4" height="190.5"/></clipPath>
<rect x="1231.2" y="2445.5" width="334.6" height="190.5" fill="#EBEBEB"/>
<g clip-path="url(#fb31)">
<path d="M1237.2 2445.5V2636M1248.32 2445.5V2636M1259.45 2445.5V2636M1270.57 2445.5V2636M1281.7 2445.5V2636M1292.82 2445.5V2636M1303.94 2445.5V2636M1315.07 2445.5V2636M1326.19 2445.5V2636M1337.32 2445.5V2636M1348.44 2445.5V2636M1359.57 2445.5V2636M1370.69 2445.5V2636M1381.81 2445.5V2636M1392.94 2445.5V2636M1404.06 2445.5V2636M1415.19 2445.5V2636M1426.31 2445.5V2636M1437.43 2445.5V2636M1448.56 2445.5V2636M1459.68 2445.5V2636M1470.81 2445.5V2636M1481.93 2445.5V2636M1493.06 2445.5V2636M1504.18 2445.5V2636M1515.3 2445.5V2636M1526.43 2445.5V2636M1537.55 2445.5V2636M1548.68 2445.5V2636M1559.8 2445.5V2636" stroke="#fff" stroke-width="4.8" fill="none"/>
<path d="M1231.2 2604.95H1565.8M1231.2 2555.45H1565.8M1231.2 2505.95H1565.8M1231.2 2456.45H1565.8" stroke="#fff" stroke-width="2.2" fill="none"/>
<path d="M1231.2 2629.7H1565.8M1231.2 2580.2H1565.8M1231.2 2530.7H1565.8M1231.2 2481.2H1565.8" stroke="#fff" stroke-width="3.7" fill="none"/>
<path d="M1232.45 2629v-77.79h9.5v77.79zM1243.57 2629v-63.3h9.5v63.3zM1254.7 2629v-68.62h9.5v68.62zM1265.82 2629v-59.03h9.5v59.03zM1276.95 2629v-110.19h9.5v110.19zM1288.07 2629v-26.63h9.5v26.63zM1299.19 2629v-40.49h9.5v40.49zM1310.32 2629v-45.18h9.5v45.18zM1321.44 2629v-36.01h9.5v36.01zM1332.57 2629v-63.3h9.5v63.3zM1343.69 2629v-87.17h9.5v87.17zM1354.82 2629v-45.18h9.5v45.18zM1365.94 2629v-45.18h9.5v45.18zM1377.06 2629v-68.62h9.5v68.62zM1388.19 2629v-36.01h9.5v36.01zM1399.31 2629v-100.6h9.5v100.6zM1410.44 2629v-63.3h9.5v63.3zM1421.56 2629v-36.01h9.5v36.01zM1432.68 2629v-59.03h9.5v59.03zM1443.81 2629v-82.05h9.5v82.05zM1454.93 2629v-119.15h9.5v119.15zM1466.06 2629v-124.05h9.5v124.05zM1477.18 2629v-82.05h9.5v82.05zM1488.31 2629v-54.34h9.5v54.34zM1499.43 2629v-49.87h9.5v49.87zM1510.55 2629v-68.62h9.5v68.62zM1521.68 2629v-49.87h9.5v49.87zM1532.8 2629v-91.65h9.5v91.65zM1543.93 2629v-54.34h9.5v54.34zM1555.05 2629v-59.03h9.5v59.03z" fill="#595959" stroke="#F76A92" stroke-width="4.4" stroke-linejoin="miter"/>
</g>
<line x1="157" y1="2387.2" x2="166.8" y2="2387.2" stroke="#222" stroke-width="3.6"/>
<text transform="translate(152.5,2395) scale(1.13,1)" font-size="21.8" text-anchor="end" fill="#444" stroke="#444" stroke-width="0.31">0.000</text>
<line x1="157" y1="2336.95" x2="166.8" y2="2336.95" stroke="#222" stroke-width="3.6"/>
<text transform="translate(152.5,2344.75) scale(1.13,1)" font-size="21.8" text-anchor="end" fill="#444" stroke="#444" stroke-width="0.31">0.025</text>
<line x1="157" y1="2286.7" x2="166.8" y2="2286.7" stroke="#222" stroke-width="3.6"/>
<text transform="translate(152.5,2294.5) scale(1.13,1)" font-size="21.8" text-anchor="end" fill="#444" stroke="#444" stroke-width="0.31">0.050</text>
<line x1="157" y1="2236.45" x2="166.8" y2="2236.45" stroke="#222" stroke-width="3.6"/>
<text transform="translate(152.5,2244.25) scale(1.13,1)" font-size="21.8" text-anchor="end" fill="#444" stroke="#444" stroke-width="0.31">0.075</text>
<line x1="157" y1="2629.1" x2="166.8" y2="2629.1" stroke="#222" stroke-width="3.6"/>
<text transform="translate(152.5,2636.9) scale(1.13,1)" font-size="21.8" text-anchor="end" fill="#444" stroke="#444" stroke-width="0.31">0.000</text>
<line x1="157" y1="2578.85" x2="166.8" y2="2578.85" stroke="#222" stroke-width="3.6"/>
<text transform="translate(152.5,2586.65) scale(1.13,1)" font-size="21.8" text-anchor="end" fill="#444" stroke="#444" stroke-width="0.31">0.025</text>
<line x1="157" y1="2528.6" x2="166.8" y2="2528.6" stroke="#222" stroke-width="3.6"/>
<text transform="translate(152.5,2536.4) scale(1.13,1)" font-size="21.8" text-anchor="end" fill="#444" stroke="#444" stroke-width="0.31">0.050</text>
<line x1="157" y1="2478.35" x2="166.8" y2="2478.35" stroke="#222" stroke-width="3.6"/>
<text transform="translate(152.5,2486.15) scale(1.13,1)" font-size="21.8" text-anchor="end" fill="#444" stroke="#444" stroke-width="0.31">0.075</text>
<path d="M172.8 2639.2v4.8M183.92 2639.2v4.8M195.05 2639.2v4.8M206.17 2639.2v4.8M217.3 2639.2v4.8M228.42 2639.2v4.8M239.54 2639.2v4.8M250.67 2639.2v4.8M261.79 2639.2v4.8M272.92 2639.2v4.8M284.04 2639.2v4.8M295.17 2639.2v4.8M306.29 2639.2v4.8M317.41 2639.2v4.8M328.54 2639.2v4.8M339.66 2639.2v4.8M350.79 2639.2v4.8M361.91 2639.2v4.8M373.03 2639.2v4.8M384.16 2639.2v4.8M395.28 2639.2v4.8M406.41 2639.2v4.8M417.53 2639.2v4.8M428.66 2639.2v4.8M439.78 2639.2v4.8M450.9 2639.2v4.8M462.03 2639.2v4.8M473.15 2639.2v4.8M484.28 2639.2v4.8M495.4 2639.2v4.8" stroke="#1a1a1a" stroke-width="4" fill="none"/>
<text transform="translate(172.2,2653.6) rotate(-45)" font-size="23.6" text-anchor="middle" dy="0.36em" fill="#222" stroke="#222" stroke-width="0.3">1</text>
<text transform="translate(216.7,2653.6) rotate(-45)" font-size="23.6" text-anchor="middle" dy="0.36em" fill="#222" stroke="#222" stroke-width="0.3">5</text>
<text transform="translate(269.12,2658.5) rotate(-45)" font-size="23.6" text-anchor="middle" dy="0.36em" fill="#222" stroke="#222" stroke-width="0.3">10</text>
<text transform="translate(324.74,2658.5) rotate(-45)" font-size="23.6" text-anchor="middle" dy="0.36em" fill="#222" stroke="#222" stroke-width="0.3">15</text>
<text transform="translate(380.36,2658.5) rotate(-45)" font-size="23.6" text-anchor="middle" dy="0.36em" fill="#222" stroke="#222" stroke-width="0.3">20</text>
<text transform="translate(435.98,2658.5) rotate(-45)" font-size="23.6" text-anchor="middle" dy="0.36em" fill="#222" stroke="#222" stroke-width="0.3">25</text>
<path d="M527.6 2639.2v4.8M538.72 2639.2v4.8M549.85 2639.2v4.8M560.97 2639.2v4.8M572.1 2639.2v4.8M583.22 2639.2v4.8M594.34 2639.2v4.8M605.47 2639.2v4.8M616.59 2639.2v4.8M627.72 2639.2v4.8M638.84 2639.2v4.8M649.97 2639.2v4.8M661.09 2639.2v4.8M672.21 2639.2v4.8M683.34 2639.2v4.8M694.46 2639.2v4.8M705.59 2639.2v4.8M716.71 2639.2v4.8M727.83 2639.2v4.8M738.96 2639.2v4.8M750.08 2639.2v4.8M761.21 2639.2v4.8M772.33 2639.2v4.8M783.46 2639.2v4.8M794.58 2639.2v4.8M805.7 2639.2v4.8M816.83 2639.2v4.8M827.95 2639.2v4.8M839.08 2639.2v4.8M850.2 2639.2v4.8" stroke="#1a1a1a" stroke-width="4" fill="none"/>
<text transform="translate(527,2653.6) rotate(-45)" font-size="23.6" text-anchor="middle" dy="0.36em" fill="#222" stroke="#222" stroke-width="0.3">1</text>
<text transform="translate(571.5,2653.6) rotate(-45)" font-size="23.6" text-anchor="middle" dy="0.36em" fill="#222" stroke="#222" stroke-width="0.3">5</text>
<text transform="translate(623.92,2658.5) rotate(-45)" font-size="23.6" text-anchor="middle" dy="0.36em" fill="#222" stroke="#222" stroke-width="0.3">10</text>
<text transform="translate(679.54,2658.5) rotate(-45)" font-size="23.6" text-anchor="middle" dy="0.36em" fill="#222" stroke="#222" stroke-width="0.3">15</text>
<text transform="translate(735.16,2658.5) rotate(-45)" font-size="23.6" text-anchor="middle" dy="0.36em" fill="#222" stroke="#222" stroke-width="0.3">20</text>
<text transform="translate(790.78,2658.5) rotate(-45)" font-size="23.6" text-anchor="middle" dy="0.36em" fill="#222" stroke="#222" stroke-width="0.3">25</text>
<path d="M882.4 2639.2v4.8M893.52 2639.2v4.8M904.65 2639.2v4.8M915.77 2639.2v4.8M926.9 2639.2v4.8M938.02 2639.2v4.8M949.14 2639.2v4.8M960.27 2639.2v4.8M971.39 2639.2v4.8M982.52 2639.2v4.8M993.64 2639.2v4.8M1004.77 2639.2v4.8M1015.89 2639.2v4.8M1027.01 2639.2v4.8M1038.14 2639.2v4.8M1049.26 2639.2v4.8M1060.39 2639.2v4.8M1071.51 2639.2v4.8M1082.63 2639.2v4.8M1093.76 2639.2v4.8M1104.88 2639.2v4.8M1116.01 2639.2v4.8M1127.13 2639.2v4.8M1138.26 2639.2v4.8M1149.38 2639.2v4.8M1160.5 2639.2v4.8M1171.63 2639.2v4.8M1182.75 2639.2v4.8M1193.88 2639.2v4.8M1205 2639.2v4.8" stroke="#1a1a1a" stroke-width="4" fill="none"/>
<text transform="translate(881.8,2653.6) rotate(-45)" font-size="23.6" text-anchor="middle" dy="0.36em" fill="#222" stroke="#222" stroke-width="0.3">1</text>
<text transform="translate(926.3,2653.6) rotate(-45)" font-size="23.6" text-anchor="middle" dy="0.36em" fill="#222" stroke="#222" stroke-width="0.3">5</text>
<text transform="translate(978.72,2658.5) rotate(-45)" font-size="23.6" text-anchor="middle" dy="0.36em" fill="#222" stroke="#222" stroke-width="0.3">10</text>
<text transform="translate(1034.34,2658.5) rotate(-45)" font-size="23.6" text-anchor="middle" dy="0.36em" fill="#222" stroke="#222" stroke-width="0.3">15</text>
<text transform="translate(1089.96,2658.5) rotate(-45)" font-size="23.6" text-anchor="middle" dy="0.36em" fill="#222" stroke="#222" stroke-width="0.3">20</text>
<text transform="translate(1145.58,2658.5) rotate(-45)" font-size="23.6" text-anchor="middle" dy="0.36em" fill="#222" stroke="#222" stroke-width="0.3">25</text>
<path d="M1237.2 2639.2v4.8M1248.32 2639.2v4.8M1259.45 2639.2v4.8M1270.57 2639.2v4.8M1281.7 2639.2v4.8M1292.82 2639.2v4.8M1303.94 2639.2v4.8M1315.07 2639.2v4.8M1326.19 2639.2v4.8M1337.32 2639.2v4.8M1348.44 2639.2v4.8M1359.57 2639.2v4.8M1370.69 2639.2v4.8M1381.81 2639.2v4.8M1392.94 2639.2v4.8M1404.06 2639.2v4.8M1415.19 2639.2v4.8M1426.31 2639.2v4.8M1437.43 2639.2v4.8M1448.56 2639.2v4.8M1459.68 2639.2v4.8M1470.81 2639.2v4.8M1481.93 2639.2v4.8M1493.06 2639.2v4.8M1504.18 2639.2v4.8M1515.3 2639.2v4.8M1526.43 2639.2v4.8M1537.55 2639.2v4.8M1548.68 2639.2v4.8M1559.8 2639.2v4.8" stroke="#1a1a1a" stroke-width="4" fill="none"/>
<text transform="translate(1236.6,2653.6) rotate(-45)" font-size="23.6" text-anchor="middle" dy="0.36em" fill="#222" stroke="#222" stroke-width="0.3">1</text>
<text transform="translate(1281.1,2653.6) rotate(-45)" font-size="23.6" text-anchor="middle" dy="0.36em" fill="#222" stroke="#222" stroke-width="0.3">5</text>
<text transform="translate(1333.52,2658.5) rotate(-45)" font-size="23.6" text-anchor="middle" dy="0.36em" fill="#222" stroke="#222" stroke-width="0.3">10</text>
<text transform="translate(1389.14,2658.5) rotate(-45)" font-size="23.6" text-anchor="middle" dy="0.36em" fill="#222" stroke="#222" stroke-width="0.3">15</text>
<text transform="translate(1444.76,2658.5) rotate(-45)" font-size="23.6" text-anchor="middle" dy="0.36em" fill="#222" stroke="#222" stroke-width="0.3">20</text>
<text transform="translate(1500.38,2658.5) rotate(-45)" font-size="23.6" text-anchor="middle" dy="0.36em" fill="#222" stroke="#222" stroke-width="0.3">25</text>
<path d="M1592 2397.6v4.8M1603.12 2397.6v4.8M1614.25 2397.6v4.8M1625.37 2397.6v4.8M1636.5 2397.6v4.8M1647.62 2397.6v4.8M1658.74 2397.6v4.8M1669.87 2397.6v4.8M1680.99 2397.6v4.8M1692.12 2397.6v4.8M1703.24 2397.6v4.8M1714.37 2397.6v4.8M1725.49 2397.6v4.8M1736.61 2397.6v4.8M1747.74 2397.6v4.8M1758.86 2397.6v4.8M1769.99 2397.6v4.8M1781.11 2397.6v4.8M1792.23 2397.6v4.8M1803.36 2397.6v4.8M1814.48 2397.6v4.8M1825.61 2397.6v4.8M1836.73 2397.6v4.8M1847.86 2397.6v4.8M1858.98 2397.6v4.8M1870.1 2397.6v4.8M1881.23 2397.6v4.8M1892.35 2397.6v4.8M1903.48 2397.6v4.8M1914.6 2397.6v4.8" stroke="#1a1a1a" stroke-width="4" fill="none"/>
<text transform="translate(1589,2410.9) rotate(-45)" font-size="23.6" text-anchor="middle" dy="0.36em" fill="#222" stroke="#222" stroke-width="0.3">1</text>
<text transform="translate(1633.5,2410.9) rotate(-45)" font-size="23.6" text-anchor="middle" dy="0.36em" fill="#222" stroke="#222" stroke-width="0.3">5</text>
<text transform="translate(1685.92,2415.8) rotate(-45)" font-size="23.6" text-anchor="middle" dy="0.36em" fill="#222" stroke="#222" stroke-width="0.3">10</text>
<text transform="translate(1741.54,2415.8) rotate(-45)" font-size="23.6" text-anchor="middle" dy="0.36em" fill="#222" stroke="#222" stroke-width="0.3">15</text>
<text transform="translate(1797.16,2415.8) rotate(-45)" font-size="23.6" text-anchor="middle" dy="0.36em" fill="#222" stroke="#222" stroke-width="0.3">20</text>
<text transform="translate(1852.78,2415.8) rotate(-45)" font-size="23.6" text-anchor="middle" dy="0.36em" fill="#222" stroke="#222" stroke-width="0.3">25</text>
<line x1="50.7" y1="2202" x2="50.7" y2="2637" stroke="#000" stroke-width="1.6"/>
<line x1="171.5" y1="2680.7" x2="1920" y2="2680.7" stroke="#000" stroke-width="1.7"/>
<line x1="170.8" y1="2672" x2="1920" y2="2672" stroke="#d0d0d0" stroke-width="1"/>
<text transform="translate(30.5,2418.7) rotate(-90)" font-size="29" text-anchor="middle" stroke="#000" stroke-width="0.4">Frequency</text>
<text transform="translate(1042,2700.6)" font-size="24.1" text-anchor="middle" stroke="#000" stroke-width="0.34">Segment</text>
<text transform="translate(6,2170)" font-size="36" font-weight="bold" stroke="#000" stroke-width="0.48">f</text>
</g>
</svg>
</body></html>
